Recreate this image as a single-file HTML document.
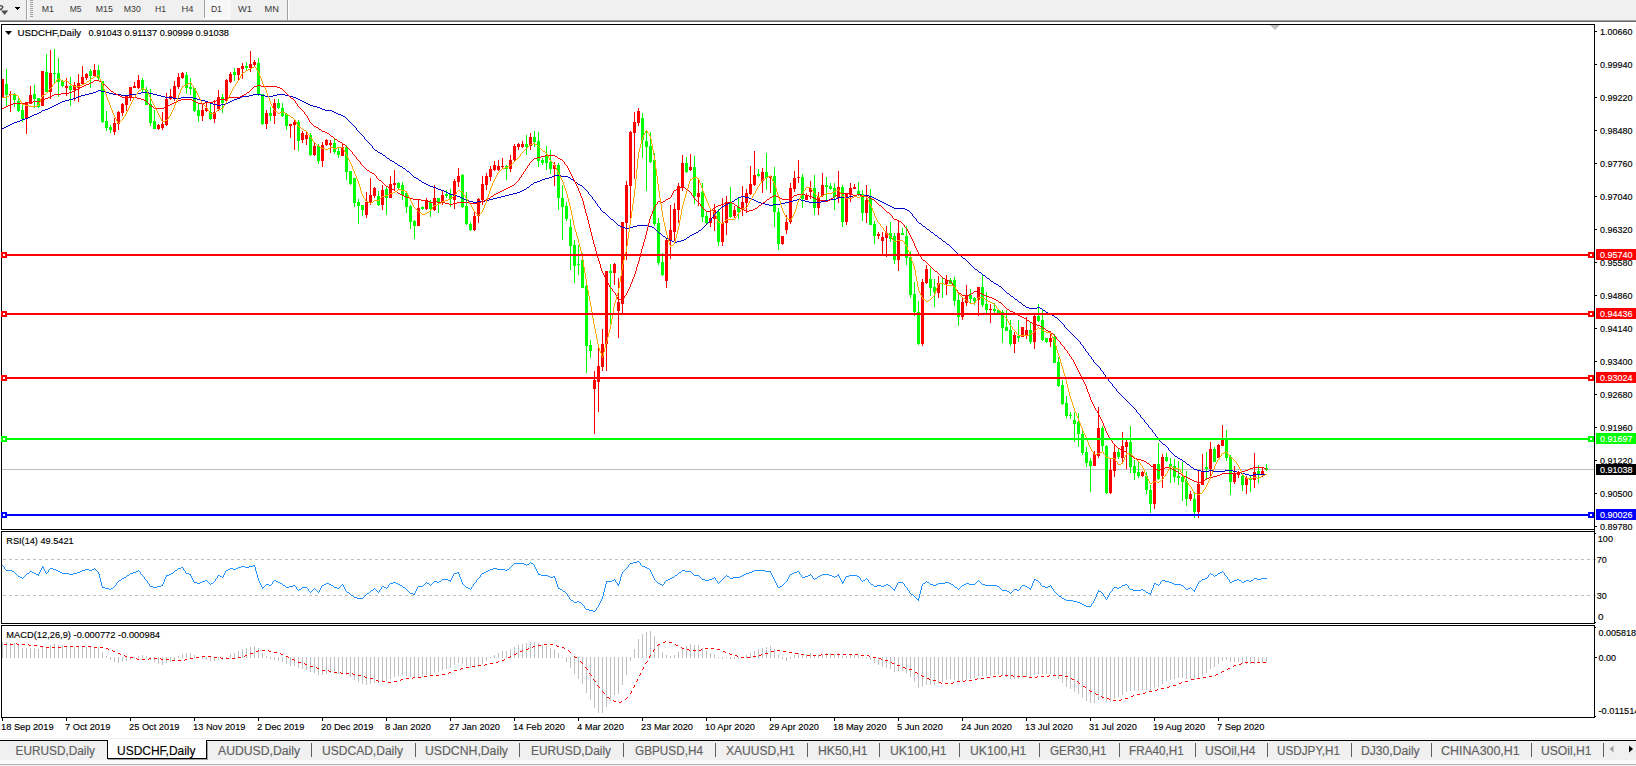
<!DOCTYPE html>
<html><head><meta charset="utf-8"><title>USDCHF,Daily</title>
<style>html,body{margin:0;padding:0;background:#fff;width:1636px;height:766px;overflow:hidden;font-family:"Liberation Sans",sans-serif}</style>
</head><body>
<svg width="1636" height="766" viewBox="0 0 1636 766" style="position:absolute;left:0;top:0" font-family="Liberation Sans, sans-serif">
<defs><clipPath id="cm"><rect x="2" y="0" width="1592" height="766"/></clipPath></defs>
<g shape-rendering="crispEdges">
<rect x="0" y="0" width="1636" height="766" fill="#fff"/>
<rect x="0" y="0" width="1636" height="20" fill="#f0f0f0"/>
<rect x="0" y="20" width="1636" height="1" fill="#a0a0a0"/>
<rect x="0" y="21" width="1636" height="1" fill="#696969"/>
<rect x="26" y="0" width="1" height="20" fill="#a0a0a0"/><rect x="27" y="0" width="1" height="20" fill="#fff"/>
<rect x="30" y="0" width="3" height="1" fill="#a0a0a0"/>
<rect x="30" y="2" width="3" height="1" fill="#a0a0a0"/>
<rect x="30" y="4" width="3" height="1" fill="#a0a0a0"/>
<rect x="30" y="6" width="3" height="1" fill="#a0a0a0"/>
<rect x="30" y="8" width="3" height="1" fill="#a0a0a0"/>
<rect x="30" y="10" width="3" height="1" fill="#a0a0a0"/>
<rect x="30" y="12" width="3" height="1" fill="#a0a0a0"/>
<rect x="30" y="14" width="3" height="1" fill="#a0a0a0"/>
<rect x="30" y="16" width="3" height="1" fill="#a0a0a0"/>
<rect x="204" y="0" width="1" height="18" fill="#a0a0a0"/>
<rect x="205" y="0" width="24" height="18" fill="#f7f7f7"/>
<rect x="204" y="18" width="26" height="1" fill="#fff"/><rect x="229" y="0" width="1" height="18" fill="#fff"/>
<rect x="287" y="0" width="1" height="20" fill="#a0a0a0"/><rect x="288" y="0" width="1" height="20" fill="#fff"/>
<rect x="15" y="7" width="5" height="1" fill="#000"/><rect x="16" y="8" width="3" height="1" fill="#000"/><rect x="17" y="9" width="1" height="1" fill="#000"/>
<path d="M0 5.6 Q3.4 6 2.6 7.6 Q1.6 9.2 0 9.8" stroke="#404040" stroke-width="1.3" fill="none" shape-rendering="auto"/>
<path d="M1 10.5h7.2l-3.6 4.6z" fill="#505050" shape-rendering="auto"/>
<rect x="2" y="469" width="1592" height="1" fill="#c0c0c0"/>
<path d="M3 559h3v1h-3zM9 559h3v1h-3zM15 559h3v1h-3zM21 559h3v1h-3zM27 559h3v1h-3zM33 559h3v1h-3zM39 559h3v1h-3zM45 559h3v1h-3zM51 559h3v1h-3zM57 559h3v1h-3zM63 559h3v1h-3zM69 559h3v1h-3zM75 559h3v1h-3zM81 559h3v1h-3zM87 559h3v1h-3zM93 559h3v1h-3zM99 559h3v1h-3zM105 559h3v1h-3zM111 559h3v1h-3zM117 559h3v1h-3zM123 559h3v1h-3zM129 559h3v1h-3zM135 559h3v1h-3zM141 559h3v1h-3zM147 559h3v1h-3zM153 559h3v1h-3zM159 559h3v1h-3zM165 559h3v1h-3zM171 559h3v1h-3zM177 559h3v1h-3zM183 559h3v1h-3zM189 559h3v1h-3zM195 559h3v1h-3zM201 559h3v1h-3zM207 559h3v1h-3zM213 559h3v1h-3zM219 559h3v1h-3zM225 559h3v1h-3zM231 559h3v1h-3zM237 559h3v1h-3zM243 559h3v1h-3zM249 559h3v1h-3zM255 559h3v1h-3zM261 559h3v1h-3zM267 559h3v1h-3zM273 559h3v1h-3zM279 559h3v1h-3zM285 559h3v1h-3zM291 559h3v1h-3zM297 559h3v1h-3zM303 559h3v1h-3zM309 559h3v1h-3zM315 559h3v1h-3zM321 559h3v1h-3zM327 559h3v1h-3zM333 559h3v1h-3zM339 559h3v1h-3zM345 559h3v1h-3zM351 559h3v1h-3zM357 559h3v1h-3zM363 559h3v1h-3zM369 559h3v1h-3zM375 559h3v1h-3zM381 559h3v1h-3zM387 559h3v1h-3zM393 559h3v1h-3zM399 559h3v1h-3zM405 559h3v1h-3zM411 559h3v1h-3zM417 559h3v1h-3zM423 559h3v1h-3zM429 559h3v1h-3zM435 559h3v1h-3zM441 559h3v1h-3zM447 559h3v1h-3zM453 559h3v1h-3zM459 559h3v1h-3zM465 559h3v1h-3zM471 559h3v1h-3zM477 559h3v1h-3zM483 559h3v1h-3zM489 559h3v1h-3zM495 559h3v1h-3zM501 559h3v1h-3zM507 559h3v1h-3zM513 559h3v1h-3zM519 559h3v1h-3zM525 559h3v1h-3zM531 559h3v1h-3zM537 559h3v1h-3zM543 559h3v1h-3zM549 559h3v1h-3zM555 559h3v1h-3zM561 559h3v1h-3zM567 559h3v1h-3zM573 559h3v1h-3zM579 559h3v1h-3zM585 559h3v1h-3zM591 559h3v1h-3zM597 559h3v1h-3zM603 559h3v1h-3zM609 559h3v1h-3zM615 559h3v1h-3zM621 559h3v1h-3zM627 559h3v1h-3zM633 559h3v1h-3zM639 559h3v1h-3zM645 559h3v1h-3zM651 559h3v1h-3zM657 559h3v1h-3zM663 559h3v1h-3zM669 559h3v1h-3zM675 559h3v1h-3zM681 559h3v1h-3zM687 559h3v1h-3zM693 559h3v1h-3zM699 559h3v1h-3zM705 559h3v1h-3zM711 559h3v1h-3zM717 559h3v1h-3zM723 559h3v1h-3zM729 559h3v1h-3zM735 559h3v1h-3zM741 559h3v1h-3zM747 559h3v1h-3zM753 559h3v1h-3zM759 559h3v1h-3zM765 559h3v1h-3zM771 559h3v1h-3zM777 559h3v1h-3zM783 559h3v1h-3zM789 559h3v1h-3zM795 559h3v1h-3zM801 559h3v1h-3zM807 559h3v1h-3zM813 559h3v1h-3zM819 559h3v1h-3zM825 559h3v1h-3zM831 559h3v1h-3zM837 559h3v1h-3zM843 559h3v1h-3zM849 559h3v1h-3zM855 559h3v1h-3zM861 559h3v1h-3zM867 559h3v1h-3zM873 559h3v1h-3zM879 559h3v1h-3zM885 559h3v1h-3zM891 559h3v1h-3zM897 559h3v1h-3zM903 559h3v1h-3zM909 559h3v1h-3zM915 559h3v1h-3zM921 559h3v1h-3zM927 559h3v1h-3zM933 559h3v1h-3zM939 559h3v1h-3zM945 559h3v1h-3zM951 559h3v1h-3zM957 559h3v1h-3zM963 559h3v1h-3zM969 559h3v1h-3zM975 559h3v1h-3zM981 559h3v1h-3zM987 559h3v1h-3zM993 559h3v1h-3zM999 559h3v1h-3zM1005 559h3v1h-3zM1011 559h3v1h-3zM1017 559h3v1h-3zM1023 559h3v1h-3zM1029 559h3v1h-3zM1035 559h3v1h-3zM1041 559h3v1h-3zM1047 559h3v1h-3zM1053 559h3v1h-3zM1059 559h3v1h-3zM1065 559h3v1h-3zM1071 559h3v1h-3zM1077 559h3v1h-3zM1083 559h3v1h-3zM1089 559h3v1h-3zM1095 559h3v1h-3zM1101 559h3v1h-3zM1107 559h3v1h-3zM1113 559h3v1h-3zM1119 559h3v1h-3zM1125 559h3v1h-3zM1131 559h3v1h-3zM1137 559h3v1h-3zM1143 559h3v1h-3zM1149 559h3v1h-3zM1155 559h3v1h-3zM1161 559h3v1h-3zM1167 559h3v1h-3zM1173 559h3v1h-3zM1179 559h3v1h-3zM1185 559h3v1h-3zM1191 559h3v1h-3zM1197 559h3v1h-3zM1203 559h3v1h-3zM1209 559h3v1h-3zM1215 559h3v1h-3zM1221 559h3v1h-3zM1227 559h3v1h-3zM1233 559h3v1h-3zM1239 559h3v1h-3zM1245 559h3v1h-3zM1251 559h3v1h-3zM1257 559h3v1h-3zM1263 559h3v1h-3zM1269 559h3v1h-3zM1275 559h3v1h-3zM1281 559h3v1h-3zM1287 559h3v1h-3zM1293 559h3v1h-3zM1299 559h3v1h-3zM1305 559h3v1h-3zM1311 559h3v1h-3zM1317 559h3v1h-3zM1323 559h3v1h-3zM1329 559h3v1h-3zM1335 559h3v1h-3zM1341 559h3v1h-3zM1347 559h3v1h-3zM1353 559h3v1h-3zM1359 559h3v1h-3zM1365 559h3v1h-3zM1371 559h3v1h-3zM1377 559h3v1h-3zM1383 559h3v1h-3zM1389 559h3v1h-3zM1395 559h3v1h-3zM1401 559h3v1h-3zM1407 559h3v1h-3zM1413 559h3v1h-3zM1419 559h3v1h-3zM1425 559h3v1h-3zM1431 559h3v1h-3zM1437 559h3v1h-3zM1443 559h3v1h-3zM1449 559h3v1h-3zM1455 559h3v1h-3zM1461 559h3v1h-3zM1467 559h3v1h-3zM1473 559h3v1h-3zM1479 559h3v1h-3zM1485 559h3v1h-3zM1491 559h3v1h-3zM1497 559h3v1h-3zM1503 559h3v1h-3zM1509 559h3v1h-3zM1515 559h3v1h-3zM1521 559h3v1h-3zM1527 559h3v1h-3zM1533 559h3v1h-3zM1539 559h3v1h-3zM1545 559h3v1h-3zM1551 559h3v1h-3zM1557 559h3v1h-3zM1563 559h3v1h-3zM1569 559h3v1h-3zM1575 559h3v1h-3zM1581 559h3v1h-3zM1587 559h3v1h-3zM1593 559h3v1h-3z" fill="#c0c0c0"/>
<path d="M3 595h3v1h-3zM9 595h3v1h-3zM15 595h3v1h-3zM21 595h3v1h-3zM27 595h3v1h-3zM33 595h3v1h-3zM39 595h3v1h-3zM45 595h3v1h-3zM51 595h3v1h-3zM57 595h3v1h-3zM63 595h3v1h-3zM69 595h3v1h-3zM75 595h3v1h-3zM81 595h3v1h-3zM87 595h3v1h-3zM93 595h3v1h-3zM99 595h3v1h-3zM105 595h3v1h-3zM111 595h3v1h-3zM117 595h3v1h-3zM123 595h3v1h-3zM129 595h3v1h-3zM135 595h3v1h-3zM141 595h3v1h-3zM147 595h3v1h-3zM153 595h3v1h-3zM159 595h3v1h-3zM165 595h3v1h-3zM171 595h3v1h-3zM177 595h3v1h-3zM183 595h3v1h-3zM189 595h3v1h-3zM195 595h3v1h-3zM201 595h3v1h-3zM207 595h3v1h-3zM213 595h3v1h-3zM219 595h3v1h-3zM225 595h3v1h-3zM231 595h3v1h-3zM237 595h3v1h-3zM243 595h3v1h-3zM249 595h3v1h-3zM255 595h3v1h-3zM261 595h3v1h-3zM267 595h3v1h-3zM273 595h3v1h-3zM279 595h3v1h-3zM285 595h3v1h-3zM291 595h3v1h-3zM297 595h3v1h-3zM303 595h3v1h-3zM309 595h3v1h-3zM315 595h3v1h-3zM321 595h3v1h-3zM327 595h3v1h-3zM333 595h3v1h-3zM339 595h3v1h-3zM345 595h3v1h-3zM351 595h3v1h-3zM357 595h3v1h-3zM363 595h3v1h-3zM369 595h3v1h-3zM375 595h3v1h-3zM381 595h3v1h-3zM387 595h3v1h-3zM393 595h3v1h-3zM399 595h3v1h-3zM405 595h3v1h-3zM411 595h3v1h-3zM417 595h3v1h-3zM423 595h3v1h-3zM429 595h3v1h-3zM435 595h3v1h-3zM441 595h3v1h-3zM447 595h3v1h-3zM453 595h3v1h-3zM459 595h3v1h-3zM465 595h3v1h-3zM471 595h3v1h-3zM477 595h3v1h-3zM483 595h3v1h-3zM489 595h3v1h-3zM495 595h3v1h-3zM501 595h3v1h-3zM507 595h3v1h-3zM513 595h3v1h-3zM519 595h3v1h-3zM525 595h3v1h-3zM531 595h3v1h-3zM537 595h3v1h-3zM543 595h3v1h-3zM549 595h3v1h-3zM555 595h3v1h-3zM561 595h3v1h-3zM567 595h3v1h-3zM573 595h3v1h-3zM579 595h3v1h-3zM585 595h3v1h-3zM591 595h3v1h-3zM597 595h3v1h-3zM603 595h3v1h-3zM609 595h3v1h-3zM615 595h3v1h-3zM621 595h3v1h-3zM627 595h3v1h-3zM633 595h3v1h-3zM639 595h3v1h-3zM645 595h3v1h-3zM651 595h3v1h-3zM657 595h3v1h-3zM663 595h3v1h-3zM669 595h3v1h-3zM675 595h3v1h-3zM681 595h3v1h-3zM687 595h3v1h-3zM693 595h3v1h-3zM699 595h3v1h-3zM705 595h3v1h-3zM711 595h3v1h-3zM717 595h3v1h-3zM723 595h3v1h-3zM729 595h3v1h-3zM735 595h3v1h-3zM741 595h3v1h-3zM747 595h3v1h-3zM753 595h3v1h-3zM759 595h3v1h-3zM765 595h3v1h-3zM771 595h3v1h-3zM777 595h3v1h-3zM783 595h3v1h-3zM789 595h3v1h-3zM795 595h3v1h-3zM801 595h3v1h-3zM807 595h3v1h-3zM813 595h3v1h-3zM819 595h3v1h-3zM825 595h3v1h-3zM831 595h3v1h-3zM837 595h3v1h-3zM843 595h3v1h-3zM849 595h3v1h-3zM855 595h3v1h-3zM861 595h3v1h-3zM867 595h3v1h-3zM873 595h3v1h-3zM879 595h3v1h-3zM885 595h3v1h-3zM891 595h3v1h-3zM897 595h3v1h-3zM903 595h3v1h-3zM909 595h3v1h-3zM915 595h3v1h-3zM921 595h3v1h-3zM927 595h3v1h-3zM933 595h3v1h-3zM939 595h3v1h-3zM945 595h3v1h-3zM951 595h3v1h-3zM957 595h3v1h-3zM963 595h3v1h-3zM969 595h3v1h-3zM975 595h3v1h-3zM981 595h3v1h-3zM987 595h3v1h-3zM993 595h3v1h-3zM999 595h3v1h-3zM1005 595h3v1h-3zM1011 595h3v1h-3zM1017 595h3v1h-3zM1023 595h3v1h-3zM1029 595h3v1h-3zM1035 595h3v1h-3zM1041 595h3v1h-3zM1047 595h3v1h-3zM1053 595h3v1h-3zM1059 595h3v1h-3zM1065 595h3v1h-3zM1071 595h3v1h-3zM1077 595h3v1h-3zM1083 595h3v1h-3zM1089 595h3v1h-3zM1095 595h3v1h-3zM1101 595h3v1h-3zM1107 595h3v1h-3zM1113 595h3v1h-3zM1119 595h3v1h-3zM1125 595h3v1h-3zM1131 595h3v1h-3zM1137 595h3v1h-3zM1143 595h3v1h-3zM1149 595h3v1h-3zM1155 595h3v1h-3zM1161 595h3v1h-3zM1167 595h3v1h-3zM1173 595h3v1h-3zM1179 595h3v1h-3zM1185 595h3v1h-3zM1191 595h3v1h-3zM1197 595h3v1h-3zM1203 595h3v1h-3zM1209 595h3v1h-3zM1215 595h3v1h-3zM1221 595h3v1h-3zM1227 595h3v1h-3zM1233 595h3v1h-3zM1239 595h3v1h-3zM1245 595h3v1h-3zM1251 595h3v1h-3zM1257 595h3v1h-3zM1263 595h3v1h-3zM1269 595h3v1h-3zM1275 595h3v1h-3zM1281 595h3v1h-3zM1287 595h3v1h-3zM1293 595h3v1h-3zM1299 595h3v1h-3zM1305 595h3v1h-3zM1311 595h3v1h-3zM1317 595h3v1h-3zM1323 595h3v1h-3zM1329 595h3v1h-3zM1335 595h3v1h-3zM1341 595h3v1h-3zM1347 595h3v1h-3zM1353 595h3v1h-3zM1359 595h3v1h-3zM1365 595h3v1h-3zM1371 595h3v1h-3zM1377 595h3v1h-3zM1383 595h3v1h-3zM1389 595h3v1h-3zM1395 595h3v1h-3zM1401 595h3v1h-3zM1407 595h3v1h-3zM1413 595h3v1h-3zM1419 595h3v1h-3zM1425 595h3v1h-3zM1431 595h3v1h-3zM1437 595h3v1h-3zM1443 595h3v1h-3zM1449 595h3v1h-3zM1455 595h3v1h-3zM1461 595h3v1h-3zM1467 595h3v1h-3zM1473 595h3v1h-3zM1479 595h3v1h-3zM1485 595h3v1h-3zM1491 595h3v1h-3zM1497 595h3v1h-3zM1503 595h3v1h-3zM1509 595h3v1h-3zM1515 595h3v1h-3zM1521 595h3v1h-3zM1527 595h3v1h-3zM1533 595h3v1h-3zM1539 595h3v1h-3zM1545 595h3v1h-3zM1551 595h3v1h-3zM1557 595h3v1h-3zM1563 595h3v1h-3zM1569 595h3v1h-3zM1575 595h3v1h-3zM1581 595h3v1h-3zM1587 595h3v1h-3zM1593 595h3v1h-3z" fill="#c0c0c0"/>
<rect x="2" y="79" width="1" height="19" fill="#ff0000"/>
<rect x="1" y="79" width="3" height="19" fill="#ff0000"/>
<rect x="6" y="69" width="1" height="38" fill="#00ff00"/>
<rect x="5" y="84" width="3" height="11" fill="#00ff00"/>
<rect x="10" y="91" width="1" height="21" fill="#ff0000"/>
<rect x="9" y="94" width="3" height="1" fill="#ff0000"/>
<rect x="14" y="93" width="1" height="14" fill="#00ff00"/>
<rect x="13" y="94" width="3" height="6" fill="#00ff00"/>
<rect x="18" y="97" width="1" height="15" fill="#00ff00"/>
<rect x="17" y="101" width="3" height="10" fill="#00ff00"/>
<rect x="22" y="103" width="1" height="19" fill="#00ff00"/>
<rect x="21" y="110" width="3" height="9" fill="#00ff00"/>
<rect x="26" y="103" width="1" height="31" fill="#ff0000"/>
<rect x="25" y="103" width="3" height="15" fill="#ff0000"/>
<rect x="30" y="86" width="1" height="18" fill="#ff0000"/>
<rect x="29" y="95" width="3" height="9" fill="#ff0000"/>
<rect x="34" y="85" width="1" height="23" fill="#00ff00"/>
<rect x="33" y="94" width="3" height="5" fill="#00ff00"/>
<rect x="38" y="98" width="1" height="10" fill="#00ff00"/>
<rect x="37" y="98" width="3" height="9" fill="#00ff00"/>
<rect x="42" y="71" width="1" height="35" fill="#ff0000"/>
<rect x="41" y="71" width="3" height="35" fill="#ff0000"/>
<rect x="46" y="54" width="1" height="38" fill="#00ff00"/>
<rect x="45" y="72" width="3" height="20" fill="#00ff00"/>
<rect x="50" y="50" width="1" height="49" fill="#ff0000"/>
<rect x="49" y="73" width="3" height="19" fill="#ff0000"/>
<rect x="54" y="49" width="1" height="34" fill="#00ff00"/>
<rect x="53" y="73" width="3" height="1" fill="#00ff00"/>
<rect x="58" y="58" width="1" height="39" fill="#00ff00"/>
<rect x="57" y="73" width="3" height="9" fill="#00ff00"/>
<rect x="62" y="80" width="1" height="7" fill="#00ff00"/>
<rect x="61" y="81" width="3" height="5" fill="#00ff00"/>
<rect x="66" y="78" width="1" height="18" fill="#ff0000"/>
<rect x="65" y="86" width="3" height="2" fill="#ff0000"/>
<rect x="70" y="77" width="1" height="29" fill="#00ff00"/>
<rect x="69" y="86" width="3" height="4" fill="#00ff00"/>
<rect x="74" y="82" width="1" height="19" fill="#ff0000"/>
<rect x="73" y="85" width="3" height="5" fill="#ff0000"/>
<rect x="78" y="74" width="1" height="28" fill="#ff0000"/>
<rect x="77" y="83" width="3" height="5" fill="#ff0000"/>
<rect x="82" y="66" width="1" height="18" fill="#ff0000"/>
<rect x="81" y="77" width="3" height="7" fill="#ff0000"/>
<rect x="86" y="73" width="1" height="7" fill="#ff0000"/>
<rect x="85" y="74" width="3" height="4" fill="#ff0000"/>
<rect x="90" y="69" width="1" height="19" fill="#00ff00"/>
<rect x="89" y="71" width="3" height="5" fill="#00ff00"/>
<rect x="94" y="64" width="1" height="12" fill="#ff0000"/>
<rect x="93" y="70" width="3" height="6" fill="#ff0000"/>
<rect x="98" y="65" width="1" height="15" fill="#00ff00"/>
<rect x="97" y="70" width="3" height="8" fill="#00ff00"/>
<rect x="102" y="81" width="1" height="42" fill="#00ff00"/>
<rect x="101" y="81" width="3" height="41" fill="#00ff00"/>
<rect x="106" y="111" width="1" height="20" fill="#00ff00"/>
<rect x="105" y="121" width="3" height="7" fill="#00ff00"/>
<rect x="110" y="125" width="1" height="8" fill="#00ff00"/>
<rect x="109" y="127" width="3" height="3" fill="#00ff00"/>
<rect x="114" y="118" width="1" height="17" fill="#ff0000"/>
<rect x="113" y="123" width="3" height="9" fill="#ff0000"/>
<rect x="118" y="111" width="1" height="19" fill="#ff0000"/>
<rect x="117" y="112" width="3" height="12" fill="#ff0000"/>
<rect x="122" y="103" width="1" height="13" fill="#ff0000"/>
<rect x="121" y="104" width="3" height="9" fill="#ff0000"/>
<rect x="126" y="95" width="1" height="16" fill="#ff0000"/>
<rect x="125" y="96" width="3" height="9" fill="#ff0000"/>
<rect x="130" y="87" width="1" height="14" fill="#ff0000"/>
<rect x="129" y="87" width="3" height="11" fill="#ff0000"/>
<rect x="134" y="82" width="1" height="6" fill="#ff0000"/>
<rect x="133" y="86" width="3" height="2" fill="#ff0000"/>
<rect x="138" y="75" width="1" height="14" fill="#ff0000"/>
<rect x="137" y="80" width="3" height="8" fill="#ff0000"/>
<rect x="142" y="78" width="1" height="14" fill="#00ff00"/>
<rect x="141" y="80" width="3" height="10" fill="#00ff00"/>
<rect x="146" y="87" width="1" height="18" fill="#00ff00"/>
<rect x="145" y="90" width="3" height="15" fill="#00ff00"/>
<rect x="150" y="89" width="1" height="37" fill="#00ff00"/>
<rect x="149" y="104" width="3" height="19" fill="#00ff00"/>
<rect x="154" y="110" width="1" height="19" fill="#00ff00"/>
<rect x="153" y="121" width="3" height="8" fill="#00ff00"/>
<rect x="158" y="124" width="1" height="6" fill="#ff0000"/>
<rect x="157" y="125" width="3" height="4" fill="#ff0000"/>
<rect x="162" y="112" width="1" height="18" fill="#ff0000"/>
<rect x="161" y="124" width="3" height="4" fill="#ff0000"/>
<rect x="166" y="93" width="1" height="33" fill="#ff0000"/>
<rect x="165" y="99" width="3" height="26" fill="#ff0000"/>
<rect x="170" y="89" width="1" height="11" fill="#ff0000"/>
<rect x="169" y="96" width="3" height="3" fill="#ff0000"/>
<rect x="174" y="81" width="1" height="20" fill="#ff0000"/>
<rect x="173" y="86" width="3" height="12" fill="#ff0000"/>
<rect x="178" y="73" width="1" height="16" fill="#ff0000"/>
<rect x="177" y="77" width="3" height="10" fill="#ff0000"/>
<rect x="182" y="72" width="1" height="7" fill="#ff0000"/>
<rect x="181" y="73" width="3" height="5" fill="#ff0000"/>
<rect x="186" y="72" width="1" height="22" fill="#00ff00"/>
<rect x="185" y="75" width="3" height="13" fill="#00ff00"/>
<rect x="190" y="78" width="1" height="17" fill="#00ff00"/>
<rect x="189" y="87" width="3" height="2" fill="#00ff00"/>
<rect x="194" y="88" width="1" height="24" fill="#00ff00"/>
<rect x="193" y="88" width="3" height="23" fill="#00ff00"/>
<rect x="198" y="104" width="1" height="18" fill="#00ff00"/>
<rect x="197" y="110" width="3" height="6" fill="#00ff00"/>
<rect x="202" y="104" width="1" height="17" fill="#ff0000"/>
<rect x="201" y="110" width="3" height="6" fill="#ff0000"/>
<rect x="206" y="102" width="1" height="10" fill="#ff0000"/>
<rect x="205" y="108" width="3" height="3" fill="#ff0000"/>
<rect x="210" y="103" width="1" height="17" fill="#00ff00"/>
<rect x="209" y="112" width="3" height="7" fill="#00ff00"/>
<rect x="214" y="100" width="1" height="23" fill="#ff0000"/>
<rect x="213" y="112" width="3" height="7" fill="#ff0000"/>
<rect x="218" y="90" width="1" height="21" fill="#ff0000"/>
<rect x="217" y="97" width="3" height="12" fill="#ff0000"/>
<rect x="222" y="94" width="1" height="19" fill="#00ff00"/>
<rect x="221" y="97" width="3" height="6" fill="#00ff00"/>
<rect x="226" y="79" width="1" height="22" fill="#ff0000"/>
<rect x="225" y="80" width="3" height="21" fill="#ff0000"/>
<rect x="230" y="72" width="1" height="11" fill="#ff0000"/>
<rect x="229" y="74" width="3" height="8" fill="#ff0000"/>
<rect x="234" y="68" width="1" height="13" fill="#00ff00"/>
<rect x="233" y="72" width="3" height="3" fill="#00ff00"/>
<rect x="238" y="68" width="1" height="12" fill="#ff0000"/>
<rect x="237" y="68" width="3" height="7" fill="#ff0000"/>
<rect x="242" y="63" width="1" height="16" fill="#ff0000"/>
<rect x="241" y="66" width="3" height="3" fill="#ff0000"/>
<rect x="246" y="62" width="1" height="9" fill="#00ff00"/>
<rect x="245" y="66" width="3" height="2" fill="#00ff00"/>
<rect x="250" y="51" width="1" height="21" fill="#ff0000"/>
<rect x="249" y="64" width="3" height="4" fill="#ff0000"/>
<rect x="254" y="60" width="1" height="6" fill="#ff0000"/>
<rect x="253" y="62" width="3" height="3" fill="#ff0000"/>
<rect x="258" y="58" width="1" height="38" fill="#00ff00"/>
<rect x="257" y="63" width="3" height="31" fill="#00ff00"/>
<rect x="262" y="94" width="1" height="31" fill="#00ff00"/>
<rect x="261" y="94" width="3" height="30" fill="#00ff00"/>
<rect x="266" y="110" width="1" height="19" fill="#ff0000"/>
<rect x="265" y="113" width="3" height="11" fill="#ff0000"/>
<rect x="270" y="107" width="1" height="14" fill="#00ff00"/>
<rect x="269" y="113" width="3" height="3" fill="#00ff00"/>
<rect x="274" y="99" width="1" height="25" fill="#ff0000"/>
<rect x="273" y="103" width="3" height="13" fill="#ff0000"/>
<rect x="278" y="99" width="1" height="10" fill="#00ff00"/>
<rect x="277" y="103" width="3" height="5" fill="#00ff00"/>
<rect x="282" y="103" width="1" height="14" fill="#00ff00"/>
<rect x="281" y="108" width="3" height="8" fill="#00ff00"/>
<rect x="286" y="113" width="1" height="17" fill="#00ff00"/>
<rect x="285" y="114" width="3" height="12" fill="#00ff00"/>
<rect x="290" y="124" width="1" height="14" fill="#ff0000"/>
<rect x="289" y="124" width="3" height="2" fill="#ff0000"/>
<rect x="294" y="119" width="1" height="31" fill="#ff0000"/>
<rect x="293" y="122" width="3" height="3" fill="#ff0000"/>
<rect x="298" y="120" width="1" height="31" fill="#00ff00"/>
<rect x="297" y="122" width="3" height="19" fill="#00ff00"/>
<rect x="302" y="131" width="1" height="12" fill="#ff0000"/>
<rect x="301" y="133" width="3" height="7" fill="#ff0000"/>
<rect x="306" y="131" width="1" height="14" fill="#ff0000"/>
<rect x="305" y="135" width="3" height="4" fill="#ff0000"/>
<rect x="310" y="133" width="1" height="23" fill="#00ff00"/>
<rect x="309" y="135" width="3" height="20" fill="#00ff00"/>
<rect x="314" y="143" width="1" height="13" fill="#ff0000"/>
<rect x="313" y="146" width="3" height="9" fill="#ff0000"/>
<rect x="318" y="144" width="1" height="20" fill="#00ff00"/>
<rect x="317" y="146" width="3" height="15" fill="#00ff00"/>
<rect x="322" y="142" width="1" height="25" fill="#ff0000"/>
<rect x="321" y="145" width="3" height="16" fill="#ff0000"/>
<rect x="326" y="139" width="1" height="7" fill="#ff0000"/>
<rect x="325" y="140" width="3" height="5" fill="#ff0000"/>
<rect x="330" y="140" width="1" height="13" fill="#ff0000"/>
<rect x="329" y="143" width="3" height="2" fill="#ff0000"/>
<rect x="334" y="139" width="1" height="15" fill="#00ff00"/>
<rect x="333" y="143" width="3" height="9" fill="#00ff00"/>
<rect x="338" y="148" width="1" height="10" fill="#00ff00"/>
<rect x="337" y="151" width="3" height="4" fill="#00ff00"/>
<rect x="342" y="144" width="1" height="12" fill="#ff0000"/>
<rect x="341" y="147" width="3" height="9" fill="#ff0000"/>
<rect x="346" y="145" width="1" height="35" fill="#00ff00"/>
<rect x="345" y="147" width="3" height="25" fill="#00ff00"/>
<rect x="350" y="171" width="1" height="14" fill="#00ff00"/>
<rect x="349" y="171" width="3" height="13" fill="#00ff00"/>
<rect x="354" y="178" width="1" height="29" fill="#00ff00"/>
<rect x="353" y="178" width="3" height="25" fill="#00ff00"/>
<rect x="358" y="199" width="1" height="25" fill="#00ff00"/>
<rect x="357" y="202" width="3" height="4" fill="#00ff00"/>
<rect x="362" y="205" width="1" height="11" fill="#00ff00"/>
<rect x="361" y="205" width="3" height="5" fill="#00ff00"/>
<rect x="366" y="192" width="1" height="26" fill="#ff0000"/>
<rect x="365" y="202" width="3" height="13" fill="#ff0000"/>
<rect x="370" y="178" width="1" height="27" fill="#ff0000"/>
<rect x="369" y="195" width="3" height="8" fill="#ff0000"/>
<rect x="374" y="187" width="1" height="11" fill="#ff0000"/>
<rect x="373" y="188" width="3" height="8" fill="#ff0000"/>
<rect x="378" y="191" width="1" height="15" fill="#00ff00"/>
<rect x="377" y="196" width="3" height="9" fill="#00ff00"/>
<rect x="382" y="185" width="1" height="25" fill="#ff0000"/>
<rect x="381" y="190" width="3" height="15" fill="#ff0000"/>
<rect x="386" y="186" width="1" height="29" fill="#00ff00"/>
<rect x="385" y="189" width="3" height="9" fill="#00ff00"/>
<rect x="390" y="176" width="1" height="22" fill="#ff0000"/>
<rect x="389" y="184" width="3" height="14" fill="#ff0000"/>
<rect x="394" y="170" width="1" height="20" fill="#ff0000"/>
<rect x="393" y="183" width="3" height="2" fill="#ff0000"/>
<rect x="398" y="182" width="1" height="7" fill="#00ff00"/>
<rect x="397" y="183" width="3" height="5" fill="#00ff00"/>
<rect x="402" y="182" width="1" height="18" fill="#00ff00"/>
<rect x="401" y="185" width="3" height="10" fill="#00ff00"/>
<rect x="406" y="192" width="1" height="21" fill="#00ff00"/>
<rect x="405" y="193" width="3" height="14" fill="#00ff00"/>
<rect x="410" y="205" width="1" height="24" fill="#00ff00"/>
<rect x="409" y="206" width="3" height="16" fill="#00ff00"/>
<rect x="414" y="220" width="1" height="19" fill="#00ff00"/>
<rect x="413" y="221" width="3" height="5" fill="#00ff00"/>
<rect x="418" y="199" width="1" height="27" fill="#ff0000"/>
<rect x="417" y="208" width="3" height="18" fill="#ff0000"/>
<rect x="422" y="206" width="1" height="4" fill="#00ff00"/>
<rect x="421" y="207" width="3" height="2" fill="#00ff00"/>
<rect x="426" y="198" width="1" height="12" fill="#ff0000"/>
<rect x="425" y="200" width="3" height="9" fill="#ff0000"/>
<rect x="430" y="200" width="1" height="17" fill="#00ff00"/>
<rect x="429" y="202" width="3" height="7" fill="#00ff00"/>
<rect x="434" y="185" width="1" height="26" fill="#ff0000"/>
<rect x="433" y="198" width="3" height="12" fill="#ff0000"/>
<rect x="438" y="198" width="1" height="15" fill="#00ff00"/>
<rect x="437" y="198" width="3" height="5" fill="#00ff00"/>
<rect x="442" y="191" width="1" height="14" fill="#ff0000"/>
<rect x="441" y="195" width="3" height="7" fill="#ff0000"/>
<rect x="446" y="190" width="1" height="8" fill="#00ff00"/>
<rect x="445" y="194" width="3" height="2" fill="#00ff00"/>
<rect x="450" y="189" width="1" height="18" fill="#00ff00"/>
<rect x="449" y="194" width="3" height="5" fill="#00ff00"/>
<rect x="454" y="179" width="1" height="30" fill="#ff0000"/>
<rect x="453" y="181" width="3" height="19" fill="#ff0000"/>
<rect x="458" y="168" width="1" height="19" fill="#ff0000"/>
<rect x="457" y="176" width="3" height="6" fill="#ff0000"/>
<rect x="462" y="174" width="1" height="34" fill="#00ff00"/>
<rect x="461" y="175" width="3" height="32" fill="#00ff00"/>
<rect x="466" y="192" width="1" height="33" fill="#00ff00"/>
<rect x="465" y="206" width="3" height="18" fill="#00ff00"/>
<rect x="470" y="222" width="1" height="9" fill="#00ff00"/>
<rect x="469" y="224" width="3" height="6" fill="#00ff00"/>
<rect x="474" y="212" width="1" height="19" fill="#ff0000"/>
<rect x="473" y="216" width="3" height="14" fill="#ff0000"/>
<rect x="478" y="198" width="1" height="25" fill="#ff0000"/>
<rect x="477" y="199" width="3" height="17" fill="#ff0000"/>
<rect x="482" y="176" width="1" height="29" fill="#ff0000"/>
<rect x="481" y="184" width="3" height="16" fill="#ff0000"/>
<rect x="486" y="173" width="1" height="17" fill="#ff0000"/>
<rect x="485" y="176" width="3" height="9" fill="#ff0000"/>
<rect x="490" y="166" width="1" height="15" fill="#ff0000"/>
<rect x="489" y="169" width="3" height="8" fill="#ff0000"/>
<rect x="494" y="161" width="1" height="10" fill="#ff0000"/>
<rect x="493" y="165" width="3" height="5" fill="#ff0000"/>
<rect x="498" y="160" width="1" height="11" fill="#ff0000"/>
<rect x="497" y="166" width="3" height="4" fill="#ff0000"/>
<rect x="502" y="158" width="1" height="11" fill="#ff0000"/>
<rect x="501" y="166" width="3" height="1" fill="#ff0000"/>
<rect x="506" y="165" width="1" height="15" fill="#00ff00"/>
<rect x="505" y="166" width="3" height="3" fill="#00ff00"/>
<rect x="510" y="155" width="1" height="17" fill="#ff0000"/>
<rect x="509" y="160" width="3" height="9" fill="#ff0000"/>
<rect x="514" y="144" width="1" height="17" fill="#ff0000"/>
<rect x="513" y="146" width="3" height="14" fill="#ff0000"/>
<rect x="518" y="143" width="1" height="7" fill="#ff0000"/>
<rect x="517" y="144" width="3" height="3" fill="#ff0000"/>
<rect x="522" y="141" width="1" height="7" fill="#ff0000"/>
<rect x="521" y="144" width="3" height="3" fill="#ff0000"/>
<rect x="526" y="135" width="1" height="20" fill="#00ff00"/>
<rect x="525" y="144" width="3" height="3" fill="#00ff00"/>
<rect x="530" y="133" width="1" height="17" fill="#ff0000"/>
<rect x="529" y="137" width="3" height="9" fill="#ff0000"/>
<rect x="534" y="131" width="1" height="16" fill="#00ff00"/>
<rect x="533" y="137" width="3" height="5" fill="#00ff00"/>
<rect x="538" y="132" width="1" height="35" fill="#00ff00"/>
<rect x="537" y="141" width="3" height="20" fill="#00ff00"/>
<rect x="542" y="158" width="1" height="7" fill="#00ff00"/>
<rect x="541" y="160" width="3" height="3" fill="#00ff00"/>
<rect x="546" y="146" width="1" height="24" fill="#00ff00"/>
<rect x="545" y="156" width="3" height="7" fill="#00ff00"/>
<rect x="550" y="150" width="1" height="24" fill="#00ff00"/>
<rect x="549" y="162" width="3" height="7" fill="#00ff00"/>
<rect x="554" y="162" width="1" height="24" fill="#ff0000"/>
<rect x="553" y="165" width="3" height="4" fill="#ff0000"/>
<rect x="558" y="163" width="1" height="47" fill="#00ff00"/>
<rect x="557" y="165" width="3" height="33" fill="#00ff00"/>
<rect x="562" y="185" width="1" height="55" fill="#00ff00"/>
<rect x="561" y="198" width="3" height="9" fill="#00ff00"/>
<rect x="566" y="202" width="1" height="19" fill="#00ff00"/>
<rect x="565" y="206" width="3" height="13" fill="#00ff00"/>
<rect x="570" y="219" width="1" height="51" fill="#00ff00"/>
<rect x="569" y="227" width="3" height="19" fill="#00ff00"/>
<rect x="574" y="240" width="1" height="43" fill="#00ff00"/>
<rect x="573" y="245" width="3" height="21" fill="#00ff00"/>
<rect x="578" y="245" width="1" height="30" fill="#00ff00"/>
<rect x="577" y="264" width="3" height="1" fill="#00ff00"/>
<rect x="582" y="253" width="1" height="35" fill="#00ff00"/>
<rect x="581" y="260" width="3" height="28" fill="#00ff00"/>
<rect x="586" y="285" width="1" height="88" fill="#00ff00"/>
<rect x="585" y="286" width="3" height="60" fill="#00ff00"/>
<rect x="590" y="340" width="1" height="18" fill="#00ff00"/>
<rect x="589" y="345" width="3" height="6" fill="#00ff00"/>
<rect x="594" y="371" width="1" height="63" fill="#ff0000"/>
<rect x="593" y="380" width="3" height="9" fill="#ff0000"/>
<rect x="598" y="348" width="1" height="64" fill="#ff0000"/>
<rect x="597" y="366" width="3" height="16" fill="#ff0000"/>
<rect x="602" y="329" width="1" height="42" fill="#ff0000"/>
<rect x="601" y="344" width="3" height="23" fill="#ff0000"/>
<rect x="606" y="271" width="1" height="100" fill="#ff0000"/>
<rect x="605" y="271" width="3" height="73" fill="#ff0000"/>
<rect x="610" y="264" width="1" height="60" fill="#00ff00"/>
<rect x="609" y="271" width="3" height="2" fill="#00ff00"/>
<rect x="614" y="263" width="1" height="22" fill="#ff0000"/>
<rect x="613" y="264" width="3" height="9" fill="#ff0000"/>
<rect x="618" y="278" width="1" height="60" fill="#ff0000"/>
<rect x="617" y="302" width="3" height="9" fill="#ff0000"/>
<rect x="622" y="222" width="1" height="91" fill="#ff0000"/>
<rect x="621" y="222" width="3" height="82" fill="#ff0000"/>
<rect x="626" y="181" width="1" height="79" fill="#ff0000"/>
<rect x="625" y="185" width="3" height="38" fill="#ff0000"/>
<rect x="630" y="131" width="1" height="87" fill="#ff0000"/>
<rect x="629" y="132" width="3" height="54" fill="#ff0000"/>
<rect x="634" y="112" width="1" height="67" fill="#ff0000"/>
<rect x="633" y="122" width="3" height="11" fill="#ff0000"/>
<rect x="638" y="108" width="1" height="18" fill="#ff0000"/>
<rect x="637" y="111" width="3" height="12" fill="#ff0000"/>
<rect x="642" y="113" width="1" height="45" fill="#00ff00"/>
<rect x="641" y="118" width="3" height="22" fill="#00ff00"/>
<rect x="646" y="130" width="1" height="61" fill="#00ff00"/>
<rect x="645" y="141" width="3" height="6" fill="#00ff00"/>
<rect x="650" y="132" width="1" height="31" fill="#00ff00"/>
<rect x="649" y="146" width="3" height="16" fill="#00ff00"/>
<rect x="654" y="153" width="1" height="73" fill="#00ff00"/>
<rect x="653" y="160" width="3" height="64" fill="#00ff00"/>
<rect x="658" y="218" width="1" height="47" fill="#00ff00"/>
<rect x="657" y="223" width="3" height="40" fill="#00ff00"/>
<rect x="662" y="253" width="1" height="23" fill="#00ff00"/>
<rect x="661" y="262" width="3" height="13" fill="#00ff00"/>
<rect x="666" y="239" width="1" height="49" fill="#ff0000"/>
<rect x="665" y="240" width="3" height="41" fill="#ff0000"/>
<rect x="670" y="205" width="1" height="54" fill="#ff0000"/>
<rect x="669" y="230" width="3" height="11" fill="#ff0000"/>
<rect x="674" y="203" width="1" height="38" fill="#ff0000"/>
<rect x="673" y="209" width="3" height="23" fill="#ff0000"/>
<rect x="678" y="183" width="1" height="40" fill="#ff0000"/>
<rect x="677" y="186" width="3" height="24" fill="#ff0000"/>
<rect x="682" y="155" width="1" height="36" fill="#ff0000"/>
<rect x="681" y="163" width="3" height="25" fill="#ff0000"/>
<rect x="686" y="157" width="1" height="16" fill="#00ff00"/>
<rect x="685" y="163" width="3" height="9" fill="#00ff00"/>
<rect x="690" y="154" width="1" height="17" fill="#ff0000"/>
<rect x="689" y="167" width="3" height="3" fill="#ff0000"/>
<rect x="694" y="156" width="1" height="48" fill="#00ff00"/>
<rect x="693" y="167" width="3" height="29" fill="#00ff00"/>
<rect x="698" y="180" width="1" height="26" fill="#ff0000"/>
<rect x="697" y="193" width="3" height="4" fill="#ff0000"/>
<rect x="702" y="183" width="1" height="39" fill="#00ff00"/>
<rect x="701" y="192" width="3" height="25" fill="#00ff00"/>
<rect x="706" y="212" width="1" height="12" fill="#00ff00"/>
<rect x="705" y="216" width="3" height="7" fill="#00ff00"/>
<rect x="710" y="209" width="1" height="18" fill="#ff0000"/>
<rect x="709" y="218" width="3" height="5" fill="#ff0000"/>
<rect x="714" y="204" width="1" height="27" fill="#ff0000"/>
<rect x="713" y="210" width="3" height="9" fill="#ff0000"/>
<rect x="718" y="209" width="1" height="37" fill="#00ff00"/>
<rect x="717" y="212" width="3" height="30" fill="#00ff00"/>
<rect x="722" y="198" width="1" height="48" fill="#ff0000"/>
<rect x="721" y="223" width="3" height="19" fill="#ff0000"/>
<rect x="726" y="196" width="1" height="39" fill="#ff0000"/>
<rect x="725" y="202" width="3" height="21" fill="#ff0000"/>
<rect x="730" y="187" width="1" height="31" fill="#00ff00"/>
<rect x="729" y="202" width="3" height="15" fill="#00ff00"/>
<rect x="734" y="206" width="1" height="12" fill="#ff0000"/>
<rect x="733" y="210" width="3" height="6" fill="#ff0000"/>
<rect x="738" y="198" width="1" height="21" fill="#00ff00"/>
<rect x="737" y="207" width="3" height="5" fill="#00ff00"/>
<rect x="742" y="186" width="1" height="30" fill="#ff0000"/>
<rect x="741" y="202" width="3" height="7" fill="#ff0000"/>
<rect x="746" y="189" width="1" height="24" fill="#ff0000"/>
<rect x="745" y="193" width="3" height="10" fill="#ff0000"/>
<rect x="750" y="166" width="1" height="29" fill="#ff0000"/>
<rect x="749" y="184" width="3" height="10" fill="#ff0000"/>
<rect x="754" y="151" width="1" height="35" fill="#ff0000"/>
<rect x="753" y="175" width="3" height="10" fill="#ff0000"/>
<rect x="758" y="169" width="1" height="8" fill="#00ff00"/>
<rect x="757" y="174" width="3" height="2" fill="#00ff00"/>
<rect x="762" y="168" width="1" height="25" fill="#ff0000"/>
<rect x="761" y="172" width="3" height="9" fill="#ff0000"/>
<rect x="766" y="153" width="1" height="37" fill="#00ff00"/>
<rect x="765" y="172" width="3" height="6" fill="#00ff00"/>
<rect x="770" y="176" width="1" height="17" fill="#ff0000"/>
<rect x="769" y="176" width="3" height="2" fill="#ff0000"/>
<rect x="774" y="167" width="1" height="60" fill="#00ff00"/>
<rect x="773" y="176" width="3" height="36" fill="#00ff00"/>
<rect x="778" y="208" width="1" height="42" fill="#00ff00"/>
<rect x="777" y="212" width="3" height="32" fill="#00ff00"/>
<rect x="782" y="236" width="1" height="9" fill="#ff0000"/>
<rect x="781" y="236" width="3" height="8" fill="#ff0000"/>
<rect x="786" y="215" width="1" height="19" fill="#ff0000"/>
<rect x="785" y="222" width="3" height="8" fill="#ff0000"/>
<rect x="790" y="183" width="1" height="41" fill="#ff0000"/>
<rect x="789" y="188" width="3" height="34" fill="#ff0000"/>
<rect x="794" y="171" width="1" height="21" fill="#ff0000"/>
<rect x="793" y="178" width="3" height="11" fill="#ff0000"/>
<rect x="798" y="160" width="1" height="23" fill="#ff0000"/>
<rect x="797" y="177" width="3" height="1" fill="#ff0000"/>
<rect x="802" y="174" width="1" height="34" fill="#00ff00"/>
<rect x="801" y="177" width="3" height="22" fill="#00ff00"/>
<rect x="806" y="193" width="1" height="7" fill="#ff0000"/>
<rect x="805" y="195" width="3" height="5" fill="#ff0000"/>
<rect x="810" y="181" width="1" height="18" fill="#ff0000"/>
<rect x="809" y="188" width="3" height="4" fill="#ff0000"/>
<rect x="814" y="175" width="1" height="40" fill="#00ff00"/>
<rect x="813" y="188" width="3" height="20" fill="#00ff00"/>
<rect x="818" y="192" width="1" height="23" fill="#ff0000"/>
<rect x="817" y="197" width="3" height="11" fill="#ff0000"/>
<rect x="822" y="173" width="1" height="24" fill="#ff0000"/>
<rect x="821" y="185" width="3" height="11" fill="#ff0000"/>
<rect x="826" y="177" width="1" height="24" fill="#00ff00"/>
<rect x="825" y="185" width="3" height="2" fill="#00ff00"/>
<rect x="830" y="183" width="1" height="7" fill="#00ff00"/>
<rect x="829" y="186" width="3" height="3" fill="#00ff00"/>
<rect x="834" y="183" width="1" height="27" fill="#00ff00"/>
<rect x="833" y="188" width="3" height="9" fill="#00ff00"/>
<rect x="838" y="171" width="1" height="32" fill="#ff0000"/>
<rect x="837" y="187" width="3" height="11" fill="#ff0000"/>
<rect x="842" y="185" width="1" height="42" fill="#00ff00"/>
<rect x="841" y="187" width="3" height="35" fill="#00ff00"/>
<rect x="846" y="193" width="1" height="32" fill="#ff0000"/>
<rect x="845" y="194" width="3" height="28" fill="#ff0000"/>
<rect x="850" y="183" width="1" height="19" fill="#ff0000"/>
<rect x="849" y="188" width="3" height="7" fill="#ff0000"/>
<rect x="854" y="184" width="1" height="5" fill="#ff0000"/>
<rect x="853" y="187" width="3" height="2" fill="#ff0000"/>
<rect x="858" y="182" width="1" height="14" fill="#00ff00"/>
<rect x="857" y="191" width="3" height="3" fill="#00ff00"/>
<rect x="862" y="190" width="1" height="31" fill="#00ff00"/>
<rect x="861" y="194" width="3" height="19" fill="#00ff00"/>
<rect x="866" y="185" width="1" height="38" fill="#ff0000"/>
<rect x="865" y="200" width="3" height="13" fill="#ff0000"/>
<rect x="870" y="189" width="1" height="36" fill="#00ff00"/>
<rect x="869" y="198" width="3" height="27" fill="#00ff00"/>
<rect x="874" y="221" width="1" height="23" fill="#00ff00"/>
<rect x="873" y="224" width="3" height="12" fill="#00ff00"/>
<rect x="878" y="232" width="1" height="7" fill="#ff0000"/>
<rect x="877" y="234" width="3" height="2" fill="#ff0000"/>
<rect x="882" y="232" width="1" height="23" fill="#ff0000"/>
<rect x="881" y="237" width="3" height="4" fill="#ff0000"/>
<rect x="886" y="226" width="1" height="31" fill="#ff0000"/>
<rect x="885" y="233" width="3" height="5" fill="#ff0000"/>
<rect x="890" y="222" width="1" height="20" fill="#00ff00"/>
<rect x="889" y="233" width="3" height="6" fill="#00ff00"/>
<rect x="894" y="233" width="1" height="31" fill="#00ff00"/>
<rect x="893" y="236" width="3" height="24" fill="#00ff00"/>
<rect x="898" y="220" width="1" height="51" fill="#ff0000"/>
<rect x="897" y="233" width="3" height="27" fill="#ff0000"/>
<rect x="902" y="228" width="1" height="7" fill="#00ff00"/>
<rect x="901" y="233" width="3" height="2" fill="#00ff00"/>
<rect x="906" y="226" width="1" height="39" fill="#00ff00"/>
<rect x="905" y="236" width="3" height="22" fill="#00ff00"/>
<rect x="910" y="251" width="1" height="47" fill="#00ff00"/>
<rect x="909" y="257" width="3" height="38" fill="#00ff00"/>
<rect x="914" y="282" width="1" height="34" fill="#00ff00"/>
<rect x="913" y="294" width="3" height="18" fill="#00ff00"/>
<rect x="918" y="301" width="1" height="44" fill="#00ff00"/>
<rect x="917" y="312" width="3" height="32" fill="#00ff00"/>
<rect x="922" y="279" width="1" height="67" fill="#ff0000"/>
<rect x="921" y="282" width="3" height="62" fill="#ff0000"/>
<rect x="926" y="265" width="1" height="19" fill="#ff0000"/>
<rect x="925" y="269" width="3" height="14" fill="#ff0000"/>
<rect x="930" y="268" width="1" height="28" fill="#00ff00"/>
<rect x="929" y="279" width="3" height="9" fill="#00ff00"/>
<rect x="934" y="279" width="1" height="28" fill="#00ff00"/>
<rect x="933" y="287" width="3" height="5" fill="#00ff00"/>
<rect x="938" y="276" width="1" height="22" fill="#ff0000"/>
<rect x="937" y="283" width="3" height="10" fill="#ff0000"/>
<rect x="942" y="278" width="1" height="20" fill="#00ff00"/>
<rect x="941" y="283" width="3" height="1" fill="#00ff00"/>
<rect x="946" y="275" width="1" height="20" fill="#ff0000"/>
<rect x="945" y="280" width="3" height="4" fill="#ff0000"/>
<rect x="950" y="278" width="1" height="6" fill="#00ff00"/>
<rect x="949" y="280" width="3" height="4" fill="#00ff00"/>
<rect x="954" y="277" width="1" height="29" fill="#00ff00"/>
<rect x="953" y="280" width="3" height="21" fill="#00ff00"/>
<rect x="958" y="293" width="1" height="33" fill="#00ff00"/>
<rect x="957" y="300" width="3" height="17" fill="#00ff00"/>
<rect x="962" y="298" width="1" height="22" fill="#ff0000"/>
<rect x="961" y="302" width="3" height="15" fill="#ff0000"/>
<rect x="966" y="285" width="1" height="21" fill="#ff0000"/>
<rect x="965" y="295" width="3" height="8" fill="#ff0000"/>
<rect x="970" y="289" width="1" height="15" fill="#00ff00"/>
<rect x="969" y="295" width="3" height="4" fill="#00ff00"/>
<rect x="974" y="297" width="1" height="8" fill="#00ff00"/>
<rect x="973" y="298" width="3" height="3" fill="#00ff00"/>
<rect x="978" y="287" width="1" height="29" fill="#ff0000"/>
<rect x="977" y="287" width="3" height="13" fill="#ff0000"/>
<rect x="982" y="274" width="1" height="33" fill="#00ff00"/>
<rect x="981" y="287" width="3" height="18" fill="#00ff00"/>
<rect x="986" y="292" width="1" height="21" fill="#00ff00"/>
<rect x="985" y="304" width="3" height="6" fill="#00ff00"/>
<rect x="990" y="304" width="1" height="19" fill="#ff0000"/>
<rect x="989" y="309" width="3" height="1" fill="#ff0000"/>
<rect x="994" y="303" width="1" height="10" fill="#00ff00"/>
<rect x="993" y="309" width="3" height="2" fill="#00ff00"/>
<rect x="998" y="310" width="1" height="3" fill="#00ff00"/>
<rect x="997" y="310" width="3" height="3" fill="#00ff00"/>
<rect x="1002" y="310" width="1" height="33" fill="#00ff00"/>
<rect x="1001" y="312" width="3" height="16" fill="#00ff00"/>
<rect x="1006" y="310" width="1" height="21" fill="#00ff00"/>
<rect x="1005" y="327" width="3" height="4" fill="#00ff00"/>
<rect x="1010" y="320" width="1" height="26" fill="#00ff00"/>
<rect x="1009" y="330" width="3" height="14" fill="#00ff00"/>
<rect x="1014" y="332" width="1" height="21" fill="#ff0000"/>
<rect x="1013" y="335" width="3" height="9" fill="#ff0000"/>
<rect x="1018" y="320" width="1" height="22" fill="#00ff00"/>
<rect x="1017" y="336" width="3" height="2" fill="#00ff00"/>
<rect x="1022" y="327" width="1" height="10" fill="#ff0000"/>
<rect x="1021" y="327" width="3" height="10" fill="#ff0000"/>
<rect x="1026" y="317" width="1" height="22" fill="#ff0000"/>
<rect x="1025" y="330" width="3" height="6" fill="#ff0000"/>
<rect x="1030" y="323" width="1" height="21" fill="#00ff00"/>
<rect x="1029" y="330" width="3" height="12" fill="#00ff00"/>
<rect x="1034" y="315" width="1" height="34" fill="#ff0000"/>
<rect x="1033" y="316" width="3" height="26" fill="#ff0000"/>
<rect x="1038" y="304" width="1" height="18" fill="#00ff00"/>
<rect x="1037" y="316" width="3" height="5" fill="#00ff00"/>
<rect x="1042" y="309" width="1" height="32" fill="#00ff00"/>
<rect x="1041" y="320" width="3" height="20" fill="#00ff00"/>
<rect x="1046" y="338" width="1" height="5" fill="#00ff00"/>
<rect x="1045" y="338" width="3" height="4" fill="#00ff00"/>
<rect x="1050" y="331" width="1" height="16" fill="#ff0000"/>
<rect x="1049" y="338" width="3" height="4" fill="#ff0000"/>
<rect x="1054" y="334" width="1" height="29" fill="#00ff00"/>
<rect x="1053" y="337" width="3" height="26" fill="#00ff00"/>
<rect x="1058" y="357" width="1" height="30" fill="#00ff00"/>
<rect x="1057" y="362" width="3" height="24" fill="#00ff00"/>
<rect x="1062" y="380" width="1" height="25" fill="#00ff00"/>
<rect x="1061" y="385" width="3" height="19" fill="#00ff00"/>
<rect x="1066" y="396" width="1" height="22" fill="#00ff00"/>
<rect x="1065" y="403" width="3" height="13" fill="#00ff00"/>
<rect x="1070" y="412" width="1" height="7" fill="#00ff00"/>
<rect x="1069" y="415" width="3" height="1" fill="#00ff00"/>
<rect x="1074" y="412" width="1" height="30" fill="#00ff00"/>
<rect x="1073" y="420" width="3" height="4" fill="#00ff00"/>
<rect x="1078" y="413" width="1" height="34" fill="#00ff00"/>
<rect x="1077" y="422" width="3" height="12" fill="#00ff00"/>
<rect x="1082" y="431" width="1" height="24" fill="#00ff00"/>
<rect x="1081" y="434" width="3" height="19" fill="#00ff00"/>
<rect x="1086" y="447" width="1" height="20" fill="#00ff00"/>
<rect x="1085" y="452" width="3" height="11" fill="#00ff00"/>
<rect x="1090" y="458" width="1" height="34" fill="#00ff00"/>
<rect x="1089" y="461" width="3" height="5" fill="#00ff00"/>
<rect x="1094" y="451" width="1" height="15" fill="#ff0000"/>
<rect x="1093" y="454" width="3" height="12" fill="#ff0000"/>
<rect x="1098" y="407" width="1" height="51" fill="#ff0000"/>
<rect x="1097" y="428" width="3" height="28" fill="#ff0000"/>
<rect x="1102" y="426" width="1" height="25" fill="#00ff00"/>
<rect x="1101" y="428" width="3" height="18" fill="#00ff00"/>
<rect x="1106" y="445" width="1" height="49" fill="#00ff00"/>
<rect x="1105" y="446" width="3" height="47" fill="#00ff00"/>
<rect x="1110" y="458" width="1" height="36" fill="#ff0000"/>
<rect x="1109" y="470" width="3" height="23" fill="#ff0000"/>
<rect x="1114" y="444" width="1" height="33" fill="#ff0000"/>
<rect x="1113" y="452" width="3" height="19" fill="#ff0000"/>
<rect x="1118" y="448" width="1" height="11" fill="#00ff00"/>
<rect x="1117" y="452" width="3" height="5" fill="#00ff00"/>
<rect x="1122" y="432" width="1" height="30" fill="#ff0000"/>
<rect x="1121" y="446" width="3" height="12" fill="#ff0000"/>
<rect x="1126" y="440" width="1" height="29" fill="#ff0000"/>
<rect x="1125" y="442" width="3" height="5" fill="#ff0000"/>
<rect x="1130" y="426" width="1" height="47" fill="#00ff00"/>
<rect x="1129" y="442" width="3" height="25" fill="#00ff00"/>
<rect x="1134" y="460" width="1" height="20" fill="#00ff00"/>
<rect x="1133" y="466" width="3" height="7" fill="#00ff00"/>
<rect x="1138" y="461" width="1" height="17" fill="#00ff00"/>
<rect x="1137" y="472" width="3" height="4" fill="#00ff00"/>
<rect x="1142" y="471" width="1" height="6" fill="#ff0000"/>
<rect x="1141" y="472" width="3" height="4" fill="#ff0000"/>
<rect x="1146" y="472" width="1" height="22" fill="#00ff00"/>
<rect x="1145" y="476" width="3" height="14" fill="#00ff00"/>
<rect x="1150" y="485" width="1" height="28" fill="#00ff00"/>
<rect x="1149" y="490" width="3" height="14" fill="#00ff00"/>
<rect x="1154" y="464" width="1" height="45" fill="#ff0000"/>
<rect x="1153" y="464" width="3" height="40" fill="#ff0000"/>
<rect x="1158" y="443" width="1" height="37" fill="#00ff00"/>
<rect x="1157" y="464" width="3" height="15" fill="#00ff00"/>
<rect x="1162" y="454" width="1" height="34" fill="#ff0000"/>
<rect x="1161" y="457" width="3" height="19" fill="#ff0000"/>
<rect x="1166" y="453" width="1" height="9" fill="#00ff00"/>
<rect x="1165" y="457" width="3" height="4" fill="#00ff00"/>
<rect x="1170" y="458" width="1" height="25" fill="#00ff00"/>
<rect x="1169" y="464" width="3" height="3" fill="#00ff00"/>
<rect x="1174" y="459" width="1" height="23" fill="#00ff00"/>
<rect x="1173" y="466" width="3" height="11" fill="#00ff00"/>
<rect x="1178" y="461" width="1" height="24" fill="#00ff00"/>
<rect x="1177" y="476" width="3" height="2" fill="#00ff00"/>
<rect x="1182" y="462" width="1" height="39" fill="#00ff00"/>
<rect x="1181" y="477" width="3" height="5" fill="#00ff00"/>
<rect x="1186" y="471" width="1" height="35" fill="#00ff00"/>
<rect x="1185" y="481" width="3" height="18" fill="#00ff00"/>
<rect x="1190" y="491" width="1" height="10" fill="#ff0000"/>
<rect x="1189" y="494" width="3" height="5" fill="#ff0000"/>
<rect x="1194" y="492" width="1" height="26" fill="#00ff00"/>
<rect x="1193" y="499" width="3" height="13" fill="#00ff00"/>
<rect x="1198" y="470" width="1" height="48" fill="#ff0000"/>
<rect x="1197" y="484" width="3" height="28" fill="#ff0000"/>
<rect x="1202" y="454" width="1" height="31" fill="#ff0000"/>
<rect x="1201" y="471" width="3" height="14" fill="#ff0000"/>
<rect x="1206" y="452" width="1" height="28" fill="#00ff00"/>
<rect x="1205" y="467" width="3" height="2" fill="#00ff00"/>
<rect x="1210" y="442" width="1" height="34" fill="#ff0000"/>
<rect x="1209" y="449" width="3" height="20" fill="#ff0000"/>
<rect x="1214" y="447" width="1" height="15" fill="#00ff00"/>
<rect x="1213" y="449" width="3" height="13" fill="#00ff00"/>
<rect x="1218" y="444" width="1" height="14" fill="#ff0000"/>
<rect x="1217" y="445" width="3" height="13" fill="#ff0000"/>
<rect x="1222" y="425" width="1" height="21" fill="#ff0000"/>
<rect x="1221" y="440" width="3" height="6" fill="#ff0000"/>
<rect x="1226" y="430" width="1" height="31" fill="#00ff00"/>
<rect x="1225" y="440" width="3" height="18" fill="#00ff00"/>
<rect x="1230" y="455" width="1" height="40" fill="#00ff00"/>
<rect x="1229" y="457" width="3" height="25" fill="#00ff00"/>
<rect x="1234" y="466" width="1" height="18" fill="#ff0000"/>
<rect x="1233" y="474" width="3" height="8" fill="#ff0000"/>
<rect x="1238" y="471" width="1" height="7" fill="#ff0000"/>
<rect x="1237" y="472" width="3" height="3" fill="#ff0000"/>
<rect x="1242" y="474" width="1" height="17" fill="#00ff00"/>
<rect x="1241" y="476" width="3" height="9" fill="#00ff00"/>
<rect x="1246" y="476" width="1" height="18" fill="#ff0000"/>
<rect x="1245" y="478" width="3" height="7" fill="#ff0000"/>
<rect x="1250" y="476" width="1" height="16" fill="#00ff00"/>
<rect x="1249" y="478" width="3" height="2" fill="#00ff00"/>
<rect x="1254" y="453" width="1" height="35" fill="#ff0000"/>
<rect x="1253" y="472" width="3" height="8" fill="#ff0000"/>
<rect x="1258" y="465" width="1" height="18" fill="#00ff00"/>
<rect x="1257" y="471" width="3" height="3" fill="#00ff00"/>
<rect x="1262" y="468" width="1" height="9" fill="#ff0000"/>
<rect x="1261" y="471" width="3" height="3" fill="#ff0000"/>
<rect x="1266" y="464" width="1" height="7" fill="#00ff00"/>
<rect x="1265" y="468" width="3" height="2" fill="#00ff00"/>
<path d="M12 123h2v1h-2zM351 123h1v1h-1zM655 229h1v1h-1zM701 229h1v1h-1zM927 229h2v1h-2zM42 110h3v1h-3zM325 110h7v1h-7zM618 225h2v1h-2zM637 225h12v1h-12zM705 225h1v1h-1zM922 225h1v1h-1zM666 238h2v1h-2zM686 238h1v1h-1zM939 238h2v1h-2zM89 93h4v1h-4zM109 93h4v1h-4zM137 93h4v1h-4zM149 93h4v1h-4zM1180 459h2v1h-2zM1043 310h2v1h-2zM1062 323h1v1h-1zM416 178h2v1h-2zM545 178h4v1h-4zM570 178h1v1h-1zM453 195h4v1h-4zM505 195h4v1h-4zM590 195h1v1h-1zM853 195h4v1h-4zM861 195h8v1h-8zM1077 339h1v1h-1zM364 137h1v1h-1zM62 101h3v1h-3zM205 101h3v1h-3zM230 101h2v1h-2zM302 101h2v1h-2zM1087 352h1v1h-1zM1088 353h1v1h-1zM1091 358h1v1h-1zM50 107h2v1h-2zM317 107h3v1h-3zM597 204h1v1h-1zM726 204h2v1h-2zM765 204h4v1h-4zM773 204h8v1h-8zM886 204h2v1h-2zM48 108h2v1h-2zM320 108h2v1h-2zM1006 292h1v1h-1zM600 209h1v1h-1zM719 209h1v1h-1zM905 209h2v1h-2zM975 269h2v1h-2zM987 278h2v1h-2zM674 242h3v1h-3zM945 242h1v1h-1zM85 94h4v1h-4zM113 94h8v1h-8zM129 94h8v1h-8zM153 94h4v1h-4zM253 94h8v1h-8zM277 94h8v1h-8zM438 189h3v1h-3zM524 189h2v1h-2zM585 189h1v1h-1zM76 97h2v1h-2zM165 97h8v1h-8zM181 97h12v1h-12zM240 97h2v1h-2zM293 97h3v1h-3zM1153 432h1v1h-1zM14 122h3v1h-3zM350 122h1v1h-1zM1194 469h3v1h-3zM661 234h1v1h-1zM692 234h2v1h-2zM934 234h1v1h-1zM473 202h4v1h-4zM595 202h1v1h-1zM730 202h2v1h-2zM758 202h3v1h-3zM785 202h4v1h-4zM809 202h12v1h-12zM882 202h2v1h-2zM662 235h1v1h-1zM690 235h2v1h-2zM935 235h2v1h-2zM1175 456h2v1h-2zM418 179h1v1h-1zM542 179h3v1h-3zM571 179h2v1h-2zM469 201h4v1h-4zM477 201h8v1h-8zM595 201h1v1h-1zM732 201h2v1h-2zM756 201h2v1h-2zM789 201h4v1h-4zM805 201h4v1h-4zM821 201h4v1h-4zM880 201h2v1h-2zM2 128h2v1h-2zM356 128h1v1h-1zM34 114h3v1h-3zM338 114h3v1h-3zM448 193h2v1h-2zM513 193h4v1h-4zM588 193h1v1h-1zM1029 308h8v1h-8zM1040 308h2v1h-2zM78 96h3v1h-3zM161 96h4v1h-4zM242 96h7v1h-7zM265 96h8v1h-8zM289 96h4v1h-4zM424 183h2v1h-2zM533 183h1v1h-1zM577 183h1v1h-1zM81 95h4v1h-4zM121 95h8v1h-8zM157 95h4v1h-4zM249 95h4v1h-4zM261 95h4v1h-4zM273 95h4v1h-4zM285 95h4v1h-4zM971 265h1v1h-1zM450 194h3v1h-3zM509 194h4v1h-4zM589 194h1v1h-1zM857 194h4v1h-4zM1134 408h1v1h-1zM457 196h3v1h-3zM501 196h4v1h-4zM591 196h1v1h-1zM741 196h4v1h-4zM849 196h4v1h-4zM869 196h3v1h-3zM607 215h1v1h-1zM713 215h1v1h-1zM912 215h1v1h-1zM972 266h1v1h-1zM601 210h1v1h-1zM718 210h1v1h-1zM907 210h2v1h-2zM983 275h2v1h-2zM466 200h3v1h-3zM485 200h4v1h-4zM594 200h1v1h-1zM734 200h1v1h-1zM754 200h2v1h-2zM793 200h4v1h-4zM801 200h4v1h-4zM825 200h4v1h-4zM878 200h2v1h-2zM444 191h2v1h-2zM520 191h2v1h-2zM587 191h1v1h-1zM1135 409h1v1h-1zM600 208h1v1h-1zM720 208h1v1h-1zM894 208h11v1h-11zM1145 422h1v1h-1zM1249 475h4v1h-4zM446 192h2v1h-2zM517 192h3v1h-3zM588 192h1v1h-1zM1189 465h1v1h-1zM1190 466h1v1h-1zM464 199h2v1h-2zM489 199h4v1h-4zM593 199h1v1h-1zM735 199h2v1h-2zM752 199h2v1h-2zM797 199h4v1h-4zM829 199h7v1h-7zM876 199h2v1h-2zM657 231h1v1h-1zM698 231h1v1h-1zM930 231h1v1h-1zM462 198h2v1h-2zM493 198h4v1h-4zM592 198h1v1h-1zM737 198h1v1h-1zM749 198h3v1h-3zM836 198h2v1h-2zM874 198h2v1h-2zM1171 452h1v1h-1zM1064 326h1v1h-1zM6 126h2v1h-2zM354 126h1v1h-1zM1197 470h4v1h-4zM1209 470h4v1h-4zM1225 470h8v1h-8zM1079 341h1v1h-1zM367 141h1v1h-1zM1090 356h1v1h-1zM596 203h1v1h-1zM728 203h2v1h-2zM761 203h4v1h-4zM781 203h4v1h-4zM884 203h2v1h-2zM622 227h3v1h-3zM629 227h4v1h-4zM652 227h2v1h-2zM703 227h1v1h-1zM925 227h1v1h-1zM52 106h2v1h-2zM313 106h4v1h-4zM1105 376h1v1h-1zM460 197h2v1h-2zM497 197h4v1h-4zM592 197h1v1h-1zM738 197h3v1h-3zM745 197h4v1h-4zM838 197h11v1h-11zM872 197h2v1h-2zM978 271h1v1h-1zM1155 434h1v1h-1zM60 102h2v1h-2zM208 102h2v1h-2zM228 102h2v1h-2zM304 102h2v1h-2zM1185 462h1v1h-1zM358 131h1v1h-1zM22 119h3v1h-3zM347 119h1v1h-1zM991 281h2v1h-2zM672 241h2v1h-2zM677 241h4v1h-4zM943 241h2v1h-2zM73 98h3v1h-3zM173 98h8v1h-8zM193 98h4v1h-4zM237 98h3v1h-3zM296 98h2v1h-2zM1136 411h1v1h-1zM1201 471h8v1h-8zM1213 471h12v1h-12zM1233 471h4v1h-4zM670 240h2v1h-2zM681 240h3v1h-3zM942 240h1v1h-1zM54 105h2v1h-2zM217 105h4v1h-4zM310 105h3v1h-3zM974 268h1v1h-1zM1191 467h2v1h-2zM69 99h4v1h-4zM197 99h4v1h-4zM234 99h3v1h-3zM298 99h2v1h-2zM8 125h2v1h-2zM353 125h1v1h-1zM1066 328h1v1h-1zM1067 329h1v1h-1zM1091 357h1v1h-1zM609 217h1v1h-1zM712 217h1v1h-1zM914 217h1v1h-1zM369 143h1v1h-1zM617 224h1v1h-1zM706 224h1v1h-1zM921 224h1v1h-1zM10 124h2v1h-2zM352 124h1v1h-1zM1187 464h2v1h-2zM65 100h4v1h-4zM201 100h4v1h-4zM232 100h2v1h-2zM300 100h2v1h-2zM1073 335h1v1h-1zM360 133h1v1h-1zM361 134h1v1h-1zM1001 287h1v1h-1zM1002 288h1v1h-1zM1013 297h1v1h-1zM428 185h2v1h-2zM530 185h1v1h-1zM580 185h2v1h-2zM613 220h1v1h-1zM710 220h1v1h-1zM916 220h1v1h-1zM1139 414h1v1h-1zM1150 428h1v1h-1zM1183 461h2v1h-2zM32 115h2v1h-2zM341 115h2v1h-2zM96 91h2v1h-2zM101 91h4v1h-4zM1026 307h3v1h-3zM1037 307h3v1h-3zM1105 375h1v1h-1zM996 284h2v1h-2zM1007 293h2v1h-2zM426 184h2v1h-2zM531 184h2v1h-2zM578 184h2v1h-2zM1108 380h1v1h-1zM422 182h2v1h-2zM534 182h3v1h-3zM575 182h2v1h-2zM998 285h1v1h-1zM1009 294h1v1h-1zM1130 404h1v1h-1zM1109 381h1v1h-1zM1245 474h4v1h-4zM1253 474h14v1h-14zM1131 405h1v1h-1zM1178 458h2v1h-2zM430 186h3v1h-3zM529 186h1v1h-1zM582 186h1v1h-1zM98 90h3v1h-3zM656 230h1v1h-1zM699 230h2v1h-2zM929 230h1v1h-1zM1075 337h1v1h-1zM93 92h3v1h-3zM105 92h4v1h-4zM141 92h8v1h-8zM1004 290h1v1h-1zM610 218h1v1h-1zM711 218h1v1h-1zM915 218h1v1h-1zM663 236h2v1h-2zM689 236h1v1h-1zM937 236h1v1h-1zM603 212h2v1h-2zM716 212h1v1h-1zM910 212h1v1h-1zM1152 431h1v1h-1zM441 190h3v1h-3zM522 190h2v1h-2zM586 190h1v1h-1zM421 181h1v1h-1zM537 181h3v1h-3zM574 181h1v1h-1zM436 188h2v1h-2zM526 188h1v1h-1zM584 188h1v1h-1zM1107 378h1v1h-1zM999 286h2v1h-2zM970 264h1v1h-1zM659 233h2v1h-2zM694 233h2v1h-2zM933 233h1v1h-1zM1133 407h1v1h-1zM58 103h2v1h-2zM210 103h3v1h-3zM225 103h3v1h-3zM306 103h2v1h-2zM30 116h2v1h-2zM343 116h2v1h-2zM364 138h1v1h-1zM365 139h1v1h-1zM1088 354h1v1h-1zM1025 306h1v1h-1zM994 283h2v1h-2zM56 104h2v1h-2zM213 104h4v1h-4zM221 104h4v1h-4zM308 104h2v1h-2zM1143 419h1v1h-1zM668 239h2v1h-2zM684 239h2v1h-2zM941 239h1v1h-1zM1154 433h1v1h-1zM1069 331h1v1h-1zM409 172h1v1h-1zM371 145h1v1h-1zM372 146h1v1h-1zM383 155h2v1h-2zM1098 366h1v1h-1zM45 109h3v1h-3zM322 109h3v1h-3zM990 280h1v1h-1zM625 228h4v1h-4zM654 228h1v1h-1zM702 228h1v1h-1zM926 228h1v1h-1zM1019 302h2v1h-2zM597 205h1v1h-1zM724 205h2v1h-2zM769 205h4v1h-4zM888 205h2v1h-2zM620 226h2v1h-2zM633 226h4v1h-4zM649 226h3v1h-3zM704 226h1v1h-1zM923 226h2v1h-2zM1113 386h1v1h-1zM598 206h1v1h-1zM722 206h2v1h-2zM890 206h2v1h-2zM1241 473h4v1h-4zM403 168h2v1h-2zM414 177h2v1h-2zM549 177h3v1h-3zM568 177h2v1h-2zM405 169h1v1h-1zM20 120h2v1h-2zM348 120h1v1h-1zM986 277h1v1h-1zM1015 299h2v1h-2zM616 223h1v1h-1zM707 223h1v1h-1zM919 223h2v1h-2zM949 245h1v1h-1zM1156 436h1v1h-1zM41 111h1v1h-1zM332 111h2v1h-2zM1071 333h1v1h-1zM37 113h2v1h-2zM336 113h2v1h-2zM419 180h2v1h-2zM540 180h2v1h-2zM573 180h1v1h-1zM1011 296h2v1h-2zM1111 383h1v1h-1zM599 207h1v1h-1zM721 207h1v1h-1zM892 207h2v1h-2zM1137 412h1v1h-1zM1078 340h1v1h-1zM387 158h2v1h-2zM407 171h2v1h-2zM1092 359h1v1h-1zM1093 360h1v1h-1zM977 270h1v1h-1zM413 176h1v1h-1zM552 176h2v1h-2zM561 176h7v1h-7zM606 214h1v1h-1zM714 214h1v1h-1zM912 214h1v1h-1zM433 187h3v1h-3zM527 187h2v1h-2zM583 187h1v1h-1zM402 167h1v1h-1zM1074 336h1v1h-1zM1103 372h1v1h-1zM608 216h1v1h-1zM713 216h1v1h-1zM913 216h1v1h-1zM1117 391h1v1h-1zM602 211h1v1h-1zM717 211h1v1h-1zM909 211h1v1h-1zM1003 289h1v1h-1zM1140 416h1v1h-1zM1165 445h1v1h-1zM28 117h2v1h-2zM345 117h1v1h-1zM397 164h1v1h-1zM25 118h3v1h-3zM346 118h1v1h-1zM1080 342h1v1h-1zM368 142h1v1h-1zM390 160h2v1h-2zM1094 362h1v1h-1zM1084 348h1v1h-1zM979 272h2v1h-2zM658 232h1v1h-1zM696 232h2v1h-2zM931 232h2v1h-2zM1124 398h1v1h-1zM17 121h3v1h-3zM349 121h1v1h-1zM1160 441h1v1h-1zM1052 315h2v1h-2zM1161 442h1v1h-1zM392 161h2v1h-2zM385 156h1v1h-1zM386 157h1v1h-1zM1023 305h2v1h-2zM1115 388h1v1h-1zM993 282h1v1h-1zM615 222h1v1h-1zM708 222h1v1h-1zM918 222h1v1h-1zM1141 417h1v1h-1zM39 112h2v1h-2zM334 112h2v1h-2zM1167 447h1v1h-1zM1237 472h4v1h-4zM1082 345h1v1h-1zM370 144h1v1h-1zM380 153h2v1h-2zM1096 364h1v1h-1zM1018 301h1v1h-1zM1097 365h1v1h-1zM952 248h1v1h-1zM1112 385h1v1h-1zM611 219h2v1h-2zM711 219h1v1h-1zM916 219h1v1h-1zM1162 443h1v1h-1zM375 150h2v1h-2zM4 127h2v1h-2zM355 127h1v1h-1zM395 163h2v1h-2zM1014 298h1v1h-1zM947 244h2v1h-2zM614 221h1v1h-1zM709 221h1v1h-1zM917 221h1v1h-1zM1140 415h1v1h-1zM412 175h1v1h-1zM554 175h7v1h-7zM1144 421h1v1h-1zM1169 450h1v1h-1zM1050 314h2v1h-2zM372 147h1v1h-1zM410 173h1v1h-1zM1099 367h1v1h-1zM1010 295h1v1h-1zM954 250h1v1h-1zM1076 338h1v1h-1zM378 152h2v1h-2zM1005 291h1v1h-1zM665 237h1v1h-1zM687 237h2v1h-2zM938 237h1v1h-1zM605 213h1v1h-1zM715 213h1v1h-1zM911 213h1v1h-1zM1146 423h1v1h-1zM1157 438h1v1h-1zM400 166h2v1h-2zM1065 327h1v1h-1zM374 149h1v1h-1zM1101 370h1v1h-1zM1112 384h1v1h-1zM1116 390h1v1h-1zM1055 317h2v1h-2zM1163 444h2v1h-2zM1057 318h1v1h-1zM359 132h1v1h-1zM1048 313h2v1h-2zM366 140h1v1h-1zM1093 361h1v1h-1zM1122 396h1v1h-1zM1144 420h1v1h-1zM1148 426h1v1h-1zM1158 439h1v1h-1zM1159 440h1v1h-1zM1103 373h1v1h-1zM1021 303h1v1h-1zM1022 304h1v1h-1zM1114 387h1v1h-1zM1058 319h1v1h-1zM1080 343h1v1h-1zM1059 320h1v1h-1zM398 165h2v1h-2zM1081 344h1v1h-1zM1095 363h1v1h-1zM1017 300h1v1h-1zM961 256h1v1h-1zM950 246h1v1h-1zM951 247h1v1h-1zM1157 437h1v1h-1zM1054 316h1v1h-1zM1046 312h2v1h-2zM394 162h1v1h-1zM956 252h1v1h-1zM1116 389h1v1h-1zM968 262h1v1h-1zM946 243h1v1h-1zM1138 413h1v1h-1zM1168 449h1v1h-1zM389 159h1v1h-1zM1042 309h1v1h-1zM1083 346h1v1h-1zM963 258h2v1h-2zM1148 425h1v1h-1zM953 249h1v1h-1zM1174 455h1v1h-1zM1193 468h1v1h-1zM377 151h1v1h-1zM1118 392h1v1h-1zM959 255h2v1h-2zM1119 393h1v1h-1zM1170 451h1v1h-1zM1085 349h1v1h-1zM1089 355h1v1h-1zM373 148h1v1h-1zM1100 369h1v1h-1zM357 130h1v1h-1zM1120 394h1v1h-1zM1142 418h1v1h-1zM1121 395h1v1h-1zM1168 448h1v1h-1zM1061 322h1v1h-1zM382 154h1v1h-1zM1127 401h1v1h-1zM965 259h1v1h-1zM1128 402h1v1h-1zM1072 334h1v1h-1zM982 274h1v1h-1zM1063 324h1v1h-1zM1064 325h1v1h-1zM411 174h1v1h-1zM1045 311h1v1h-1zM1100 368h1v1h-1zM1104 374h1v1h-1zM955 251h1v1h-1zM966 260h1v1h-1zM1129 403h1v1h-1zM967 261h1v1h-1zM1177 457h1v1h-1zM406 170h1v1h-1zM973 267h1v1h-1zM1136 410h1v1h-1zM962 257h1v1h-1zM1147 424h1v1h-1zM1172 453h1v1h-1zM1173 454h1v1h-1zM1102 371h1v1h-1zM1106 377h1v1h-1zM957 253h1v1h-1zM958 254h1v1h-1zM1186 463h1v1h-1zM1083 347h1v1h-1zM1123 397h1v1h-1zM1149 427h1v1h-1zM1182 460h1v1h-1zM1068 330h1v1h-1zM356 129h1v1h-1zM989 279h1v1h-1zM1108 379h1v1h-1zM1166 446h1v1h-1zM1060 321h1v1h-1zM362 135h1v1h-1zM1085 350h1v1h-1zM363 136h1v1h-1zM1086 351h1v1h-1zM985 276h1v1h-1zM1125 399h1v1h-1zM1126 400h1v1h-1zM1151 429h1v1h-1zM1152 430h1v1h-1zM1155 435h1v1h-1zM1070 332h1v1h-1zM1110 382h1v1h-1zM969 263h1v1h-1zM1132 406h1v1h-1zM981 273h1v1h-1z" fill="#0000cd"/>
<path d="M375 175h1v1h-1zM521 175h1v1h-1zM571 175h1v1h-1zM1105 429h1v1h-1zM13 103h12v1h-12zM148 103h1v1h-1zM172 103h2v1h-2zM198 103h7v1h-7zM296 103h1v1h-1zM409 198h4v1h-4zM488 198h2v1h-2zM582 198h1v1h-1zM668 198h2v1h-2zM694 198h1v1h-1zM769 198h1v1h-1zM780 198h2v1h-2zM789 198h2v1h-2zM814 198h2v1h-2zM831 198h2v1h-2zM870 198h2v1h-2zM48 97h2v1h-2zM122 97h15v1h-15zM229 97h11v1h-11zM290 97h1v1h-1zM586 214h1v1h-1zM651 214h1v1h-1zM890 214h1v1h-1zM430 202h3v1h-3zM437 202h8v1h-8zM457 202h12v1h-12zM477 202h4v1h-4zM583 202h1v1h-1zM657 202h1v1h-1zM661 202h2v1h-2zM698 202h1v1h-1zM726 202h6v1h-6zM763 202h2v1h-2zM876 202h1v1h-1zM599 261h1v1h-1zM638 261h1v1h-1zM925 261h1v1h-1zM413 199h8v1h-8zM486 199h2v1h-2zM582 199h1v1h-1zM666 199h2v1h-2zM695 199h1v1h-1zM767 199h2v1h-2zM782 199h7v1h-7zM816 199h2v1h-2zM830 199h1v1h-1zM872 199h2v1h-2zM584 208h1v1h-1zM654 208h1v1h-1zM703 208h1v1h-1zM713 208h1v1h-1zM740 208h2v1h-2zM755 208h2v1h-2zM883 208h1v1h-1zM613 291h1v1h-1zM627 291h1v1h-1zM957 291h1v1h-1zM974 291h3v1h-3zM2 108h2v1h-2zM154 108h10v1h-10zM300 108h1v1h-1zM404 196h2v1h-2zM491 196h2v1h-2zM581 196h1v1h-1zM671 196h1v1h-1zM693 196h1v1h-1zM772 196h2v1h-2zM776 196h2v1h-2zM793 196h1v1h-1zM809 196h3v1h-3zM834 196h1v1h-1zM862 196h6v1h-6zM388 187h2v1h-2zM508 187h2v1h-2zM577 187h1v1h-1zM680 187h2v1h-2zM683 187h2v1h-2zM584 206h1v1h-1zM655 206h1v1h-1zM701 206h1v1h-1zM716 206h2v1h-2zM737 206h1v1h-1zM758 206h1v1h-1zM881 206h1v1h-1zM42 99h3v1h-3zM141 99h3v1h-3zM181 99h11v1h-11zM218 99h7v1h-7zM293 99h1v1h-1zM45 98h3v1h-3zM137 98h4v1h-4zM225 98h4v1h-4zM291 98h2v1h-2zM1090 399h1v1h-1zM354 155h1v1h-1zM545 155h10v1h-10zM604 276h1v1h-1zM634 276h1v1h-1zM941 276h1v1h-1zM1153 467h1v1h-1zM1165 467h4v1h-4zM1253 467h11v1h-11zM421 200h7v1h-7zM484 200h2v1h-2zM582 200h1v1h-1zM665 200h1v1h-1zM696 200h1v1h-1zM766 200h1v1h-1zM818 200h7v1h-7zM828 200h2v1h-2zM874 200h1v1h-1zM616 295h1v1h-1zM625 295h1v1h-1zM962 295h7v1h-7zM984 295h2v1h-2zM1182 475h2v1h-2zM1217 475h3v1h-3zM609 285h1v1h-1zM630 285h1v1h-1zM953 285h1v1h-1zM1037 325h3v1h-3zM594 245h1v1h-1zM643 245h1v1h-1zM914 245h1v1h-1zM93 81h1v1h-1zM99 81h2v1h-2zM406 197h3v1h-3zM490 197h1v1h-1zM581 197h1v1h-1zM670 197h1v1h-1zM693 197h1v1h-1zM770 197h2v1h-2zM778 197h2v1h-2zM791 197h2v1h-2zM812 197h2v1h-2zM833 197h1v1h-1zM868 197h2v1h-2zM61 93h8v1h-8zM114 93h2v1h-2zM246 93h1v1h-1zM286 93h1v1h-1zM52 95h2v1h-2zM118 95h2v1h-2zM242 95h2v1h-2zM288 95h1v1h-1zM400 194h2v1h-2zM494 194h2v1h-2zM580 194h1v1h-1zM672 194h1v1h-1zM691 194h1v1h-1zM797 194h8v1h-8zM837 194h1v1h-1zM849 194h4v1h-4zM857 194h3v1h-3zM72 91h2v1h-2zM111 91h2v1h-2zM249 91h1v1h-1zM284 91h1v1h-1zM330 135h1v1h-1zM322 131h3v1h-3zM352 153h1v1h-1zM25 102h8v1h-8zM147 102h1v1h-1zM174 102h2v1h-2zM196 102h2v1h-2zM205 102h8v1h-8zM295 102h1v1h-1zM359 161h1v1h-1zM531 161h1v1h-1zM563 161h1v1h-1zM616 296h1v1h-1zM624 296h1v1h-1zM986 296h3v1h-3zM314 126h2v1h-2zM428 201h2v1h-2zM433 201h4v1h-4zM481 201h3v1h-3zM583 201h1v1h-1zM658 201h3v1h-3zM663 201h2v1h-2zM697 201h1v1h-1zM765 201h1v1h-1zM825 201h3v1h-3zM875 201h1v1h-1zM449 204h4v1h-4zM583 204h1v1h-1zM656 204h1v1h-1zM700 204h1v1h-1zM721 204h3v1h-3zM734 204h1v1h-1zM761 204h1v1h-1zM878 204h1v1h-1zM592 238h1v1h-1zM645 238h1v1h-1zM911 238h1v1h-1zM1179 473h2v1h-2zM1222 473h15v1h-15zM585 209h1v1h-1zM653 209h1v1h-1zM704 209h1v1h-1zM712 209h1v1h-1zM742 209h2v1h-2zM753 209h2v1h-2zM884 209h1v1h-1zM591 232h1v1h-1zM646 232h1v1h-1zM908 232h1v1h-1zM584 205h1v1h-1zM655 205h1v1h-1zM700 205h1v1h-1zM718 205h3v1h-3zM735 205h2v1h-2zM759 205h2v1h-2zM879 205h2v1h-2zM614 292h1v1h-1zM627 292h1v1h-1zM958 292h1v1h-1zM973 292h1v1h-1zM977 292h3v1h-3zM390 188h2v1h-2zM506 188h2v1h-2zM578 188h1v1h-1zM678 188h2v1h-2zM685 188h1v1h-1zM374 174h1v1h-1zM522 174h1v1h-1zM571 174h1v1h-1zM585 210h1v1h-1zM653 210h1v1h-1zM705 210h1v1h-1zM711 210h1v1h-1zM744 210h2v1h-2zM749 210h4v1h-4zM885 210h1v1h-1zM597 255h1v1h-1zM640 255h1v1h-1zM919 255h1v1h-1zM394 190h1v1h-1zM502 190h2v1h-2zM578 190h1v1h-1zM674 190h2v1h-2zM687 190h2v1h-2zM395 191h2v1h-2zM500 191h2v1h-2zM579 191h1v1h-1zM673 191h1v1h-1zM689 191h1v1h-1zM1158 470h2v1h-2zM1174 470h2v1h-2zM1245 470h3v1h-3zM1188 478h2v1h-2zM1206 478h3v1h-3zM343 144h2v1h-2zM318 128h1v1h-1zM82 86h2v1h-2zM106 86h1v1h-1zM254 86h3v1h-3zM261 86h16v1h-16zM1085 385h1v1h-1zM612 289h1v1h-1zM628 289h1v1h-1zM956 289h1v1h-1zM1194 481h3v1h-3zM1201 481h2v1h-2zM599 262h1v1h-1zM638 262h1v1h-1zM926 262h1v1h-1zM1086 386h1v1h-1zM1197 482h4v1h-4zM366 169h1v1h-1zM525 169h1v1h-1zM568 169h1v1h-1zM1181 474h1v1h-1zM1220 474h2v1h-2zM78 88h2v1h-2zM108 88h1v1h-1zM252 88h1v1h-1zM280 88h2v1h-2zM606 279h1v1h-1zM632 279h1v1h-1zM945 279h1v1h-1zM445 203h4v1h-4zM453 203h4v1h-4zM469 203h8v1h-8zM583 203h1v1h-1zM657 203h1v1h-1zM699 203h1v1h-1zM724 203h2v1h-2zM732 203h2v1h-2zM762 203h1v1h-1zM877 203h1v1h-1zM601 270h1v1h-1zM636 270h1v1h-1zM934 270h1v1h-1zM607 282h1v1h-1zM631 282h1v1h-1zM951 282h1v1h-1zM33 101h7v1h-7zM146 101h1v1h-1zM176 101h2v1h-2zM194 101h2v1h-2zM213 101h3v1h-3zM295 101h1v1h-1zM74 90h2v1h-2zM110 90h1v1h-1zM250 90h1v1h-1zM283 90h1v1h-1zM376 176h1v1h-1zM521 176h1v1h-1zM572 176h1v1h-1zM611 288h1v1h-1zM629 288h1v1h-1zM955 288h1v1h-1zM592 236h1v1h-1zM645 236h1v1h-1zM910 236h1v1h-1zM397 192h1v1h-1zM498 192h2v1h-2zM579 192h1v1h-1zM673 192h1v1h-1zM690 192h1v1h-1zM350 150h1v1h-1zM1103 424h1v1h-1zM1141 460h3v1h-3zM351 151h1v1h-1zM383 183h1v1h-1zM515 183h1v1h-1zM575 183h1v1h-1zM94 80h5v1h-5zM1003 305h1v1h-1zM596 253h1v1h-1zM640 253h1v1h-1zM918 253h1v1h-1zM384 184h1v1h-1zM514 184h1v1h-1zM576 184h1v1h-1zM385 185h1v1h-1zM512 185h2v1h-2zM576 185h1v1h-1zM587 219h1v1h-1zM649 219h1v1h-1zM894 219h3v1h-3zM591 235h1v1h-1zM645 235h1v1h-1zM910 235h1v1h-1zM587 217h1v1h-1zM650 217h1v1h-1zM892 217h1v1h-1zM588 220h1v1h-1zM649 220h1v1h-1zM897 220h2v1h-2zM1176 471h2v1h-2zM1241 471h4v1h-4zM392 189h2v1h-2zM504 189h2v1h-2zM578 189h1v1h-1zM676 189h2v1h-2zM686 189h1v1h-1zM596 251h1v1h-1zM641 251h1v1h-1zM917 251h1v1h-1zM603 273h1v1h-1zM635 273h1v1h-1zM938 273h1v1h-1zM615 294h1v1h-1zM626 294h1v1h-1zM961 294h1v1h-1zM969 294h2v1h-2zM982 294h2v1h-2zM617 298h1v1h-1zM623 298h1v1h-1zM992 298h2v1h-2zM1043 328h2v1h-2zM398 193h2v1h-2zM496 193h2v1h-2zM580 193h1v1h-1zM672 193h1v1h-1zM691 193h1v1h-1zM838 193h11v1h-11zM597 257h1v1h-1zM639 257h1v1h-1zM921 257h1v1h-1zM1062 345h1v1h-1zM6 106h2v1h-2zM151 106h2v1h-2zM166 106h2v1h-2zM298 106h1v1h-1zM84 85h2v1h-2zM105 85h1v1h-1zM257 85h4v1h-4zM54 94h7v1h-7zM116 94h2v1h-2zM244 94h2v1h-2zM287 94h1v1h-1zM40 100h2v1h-2zM144 100h2v1h-2zM178 100h3v1h-3zM192 100h2v1h-2zM216 100h2v1h-2zM294 100h1v1h-1zM402 195h2v1h-2zM493 195h1v1h-1zM580 195h1v1h-1zM671 195h1v1h-1zM692 195h1v1h-1zM774 195h2v1h-2zM794 195h3v1h-3zM805 195h4v1h-4zM835 195h2v1h-2zM853 195h4v1h-4zM860 195h2v1h-2zM8 105h2v1h-2zM150 105h1v1h-1zM168 105h2v1h-2zM297 105h1v1h-1zM327 133h2v1h-2zM319 129h2v1h-2zM379 180h2v1h-2zM518 180h1v1h-1zM574 180h1v1h-1zM309 121h1v1h-1zM4 107h2v1h-2zM153 107h1v1h-1zM164 107h2v1h-2zM299 107h1v1h-1zM585 211h1v1h-1zM652 211h1v1h-1zM706 211h5v1h-5zM746 211h3v1h-3zM886 211h1v1h-1zM598 259h1v1h-1zM639 259h1v1h-1zM922 259h1v1h-1zM10 104h3v1h-3zM149 104h1v1h-1zM170 104h2v1h-2zM297 104h1v1h-1zM86 84h3v1h-3zM103 84h2v1h-2zM604 275h1v1h-1zM634 275h1v1h-1zM940 275h1v1h-1zM1154 468h2v1h-2zM1162 468h3v1h-3zM1169 468h3v1h-3zM1250 468h3v1h-3zM1264 468h2v1h-2zM594 244h1v1h-1zM643 244h1v1h-1zM914 244h1v1h-1zM378 179h1v1h-1zM519 179h1v1h-1zM573 179h1v1h-1zM612 290h1v1h-1zM628 290h1v1h-1zM957 290h1v1h-1zM1101 420h1v1h-1zM352 152h1v1h-1zM1102 421h1v1h-1zM50 96h2v1h-2zM120 96h2v1h-2zM240 96h2v1h-2zM289 96h1v1h-1zM1079 373h1v1h-1zM608 283h1v1h-1zM631 283h1v1h-1zM952 283h1v1h-1zM386 186h2v1h-2zM510 186h2v1h-2zM577 186h1v1h-1zM682 186h1v1h-1zM1108 436h1v1h-1zM589 227h1v1h-1zM647 227h1v1h-1zM905 227h1v1h-1zM1080 374h1v1h-1zM316 127h2v1h-2zM599 263h1v1h-1zM638 263h1v1h-1zM927 263h1v1h-1zM1186 477h2v1h-2zM1209 477h4v1h-4zM357 159h1v1h-1zM533 159h1v1h-1zM560 159h2v1h-2zM363 166h1v1h-1zM527 166h1v1h-1zM567 166h1v1h-1zM1053 334h1v1h-1zM597 254h1v1h-1zM640 254h1v1h-1zM919 254h1v1h-1zM598 260h1v1h-1zM639 260h1v1h-1zM923 260h2v1h-2zM1046 330h2v1h-2zM594 246h1v1h-1zM642 246h1v1h-1zM915 246h1v1h-1zM1147 463h2v1h-2zM80 87h2v1h-2zM107 87h1v1h-1zM253 87h1v1h-1zM277 87h3v1h-3zM1149 464h1v1h-1zM1069 355h1v1h-1zM337 140h1v1h-1zM360 162h1v1h-1zM530 162h1v1h-1zM564 162h1v1h-1zM584 207h1v1h-1zM654 207h1v1h-1zM702 207h1v1h-1zM714 207h2v1h-2zM738 207h2v1h-2zM757 207h1v1h-1zM882 207h1v1h-1zM311 123h1v1h-1zM600 265h1v1h-1zM637 265h1v1h-1zM929 265h1v1h-1zM589 225h1v1h-1zM648 225h1v1h-1zM904 225h1v1h-1zM610 287h1v1h-1zM629 287h1v1h-1zM955 287h1v1h-1zM376 177h1v1h-1zM520 177h1v1h-1zM572 177h1v1h-1zM382 182h1v1h-1zM516 182h1v1h-1zM575 182h1v1h-1zM76 89h2v1h-2zM109 89h1v1h-1zM251 89h1v1h-1zM282 89h1v1h-1zM615 293h1v1h-1zM626 293h1v1h-1zM959 293h2v1h-2zM971 293h2v1h-2zM980 293h2v1h-2zM1099 416h1v1h-1zM1103 423h1v1h-1zM1042 327h1v1h-1zM89 83h2v1h-2zM102 83h1v1h-1zM1100 417h1v1h-1zM355 156h1v1h-1zM541 156h4v1h-4zM555 156h2v1h-2zM1078 371h1v1h-1zM372 173h2v1h-2zM523 173h1v1h-1zM570 173h1v1h-1zM1107 434h1v1h-1zM1110 439h1v1h-1zM587 216h1v1h-1zM650 216h1v1h-1zM892 216h1v1h-1zM360 163h1v1h-1zM529 163h1v1h-1zM564 163h1v1h-1zM1086 388h1v1h-1zM1092 403h1v1h-1zM1056 337h1v1h-1zM1067 351h1v1h-1zM1070 356h1v1h-1zM347 147h1v1h-1zM1151 466h2v1h-2zM595 248h1v1h-1zM642 248h1v1h-1zM916 248h1v1h-1zM321 130h1v1h-1zM598 258h1v1h-1zM639 258h1v1h-1zM921 258h1v1h-1zM356 158h1v1h-1zM534 158h3v1h-3zM558 158h2v1h-2zM1190 479h2v1h-2zM1205 479h1v1h-1zM1192 480h2v1h-2zM1203 480h2v1h-2zM1184 476h2v1h-2zM1213 476h4v1h-4zM588 222h1v1h-1zM649 222h1v1h-1zM901 222h1v1h-1zM593 243h1v1h-1zM643 243h1v1h-1zM914 243h1v1h-1zM377 178h1v1h-1zM519 178h1v1h-1zM573 178h1v1h-1zM1051 333h2v1h-2zM342 143h1v1h-1zM1146 462h1v1h-1zM1105 430h1v1h-1zM1108 435h1v1h-1zM1137 459h4v1h-4zM335 139h2v1h-2zM588 223h1v1h-1zM648 223h1v1h-1zM902 223h1v1h-1zM361 164h1v1h-1zM529 164h1v1h-1zM565 164h1v1h-1zM1087 389h1v1h-1zM362 165h1v1h-1zM528 165h1v1h-1zM566 165h1v1h-1zM1156 469h2v1h-2zM1160 469h2v1h-2zM1172 469h2v1h-2zM1248 469h2v1h-2zM1266 469h1v1h-1zM1094 406h1v1h-1zM1069 354h1v1h-1zM1032 323h2v1h-2zM1072 359h1v1h-1zM1073 360h1v1h-1zM349 149h1v1h-1zM301 109h1v1h-1zM608 284h1v1h-1zM630 284h1v1h-1zM952 284h1v1h-1zM590 229h1v1h-1zM647 229h1v1h-1zM907 229h1v1h-1zM589 224h1v1h-1zM648 224h1v1h-1zM903 224h1v1h-1zM592 239h1v1h-1zM644 239h1v1h-1zM912 239h1v1h-1zM91 82h2v1h-2zM101 82h1v1h-1zM1115 445h1v1h-1zM1086 387h1v1h-1zM600 264h1v1h-1zM637 264h1v1h-1zM928 264h1v1h-1zM590 231h1v1h-1zM646 231h1v1h-1zM908 231h1v1h-1zM367 170h2v1h-2zM525 170h1v1h-1zM569 170h1v1h-1zM365 168h1v1h-1zM526 168h1v1h-1zM568 168h1v1h-1zM606 280h1v1h-1zM632 280h1v1h-1zM946 280h3v1h-3zM1092 402h1v1h-1zM618 299h5v1h-5zM994 299h2v1h-2zM592 237h1v1h-1zM645 237h1v1h-1zM911 237h1v1h-1zM356 157h1v1h-1zM537 157h4v1h-4zM557 157h1v1h-1zM595 247h1v1h-1zM642 247h1v1h-1zM915 247h1v1h-1zM1103 425h1v1h-1zM595 250h1v1h-1zM641 250h1v1h-1zM917 250h1v1h-1zM1134 458h3v1h-3zM303 111h1v1h-1zM585 212h1v1h-1zM652 212h1v1h-1zM887 212h2v1h-2zM588 221h1v1h-1zM649 221h1v1h-1zM899 221h2v1h-2zM1129 454h1v1h-1zM1082 379h1v1h-1zM586 213h1v1h-1zM652 213h1v1h-1zM889 213h1v1h-1zM617 297h1v1h-1zM624 297h1v1h-1zM989 297h3v1h-3zM1045 329h1v1h-1zM1124 451h2v1h-2zM605 277h1v1h-1zM633 277h1v1h-1zM942 277h1v1h-1zM593 240h1v1h-1zM644 240h1v1h-1zM912 240h1v1h-1zM1040 326h2v1h-2zM591 234h1v1h-1zM646 234h1v1h-1zM909 234h1v1h-1zM1102 422h1v1h-1zM1024 318h2v1h-2zM353 154h1v1h-1zM305 114h1v1h-1zM590 228h1v1h-1zM647 228h1v1h-1zM906 228h1v1h-1zM1080 375h1v1h-1zM1109 438h1v1h-1zM586 215h1v1h-1zM651 215h1v1h-1zM891 215h1v1h-1zM364 167h1v1h-1zM527 167h1v1h-1zM567 167h1v1h-1zM1087 391h1v1h-1zM1054 335h1v1h-1zM1055 336h1v1h-1zM596 252h1v1h-1zM641 252h1v1h-1zM918 252h1v1h-1zM609 286h1v1h-1zM630 286h1v1h-1zM954 286h1v1h-1zM600 266h1v1h-1zM637 266h1v1h-1zM930 266h1v1h-1zM589 226h1v1h-1zM648 226h1v1h-1zM904 226h1v1h-1zM1048 331h2v1h-2zM1050 332h1v1h-1zM1034 324h3v1h-3zM1100 418h1v1h-1zM587 218h1v1h-1zM650 218h1v1h-1zM893 218h1v1h-1zM595 249h1v1h-1zM641 249h1v1h-1zM916 249h1v1h-1zM1144 461h2v1h-2zM307 116h1v1h-1zM1082 378h1v1h-1zM1122 450h2v1h-2zM1178 472h1v1h-1zM1237 472h4v1h-4zM1089 394h1v1h-1zM1056 338h1v1h-1zM1093 405h1v1h-1zM1096 410h1v1h-1zM1057 339h1v1h-1zM1067 352h1v1h-1zM1071 358h1v1h-1zM597 256h1v1h-1zM640 256h1v1h-1zM920 256h1v1h-1zM591 233h1v1h-1zM646 233h1v1h-1zM909 233h1v1h-1zM1010 311h3v1h-3zM1109 437h1v1h-1zM358 160h1v1h-1zM532 160h1v1h-1zM562 160h1v1h-1zM1113 443h1v1h-1zM601 268h1v1h-1zM636 268h1v1h-1zM932 268h1v1h-1zM1087 390h1v1h-1zM1094 407h1v1h-1zM1098 413h1v1h-1zM1058 340h1v1h-1zM602 271h1v1h-1zM635 271h1v1h-1zM935 271h2v1h-2zM1059 341h1v1h-1zM69 92h3v1h-3zM113 92h1v1h-1zM247 92h2v1h-2zM285 92h1v1h-1zM1073 361h1v1h-1zM1127 453h2v1h-2zM302 110h1v1h-1zM590 230h1v1h-1zM647 230h1v1h-1zM907 230h1v1h-1zM593 241h1v1h-1zM644 241h1v1h-1zM913 241h1v1h-1zM600 267h1v1h-1zM636 267h1v1h-1zM931 267h1v1h-1zM1027 320h2v1h-2zM1001 303h1v1h-1zM1020 316h2v1h-2zM1111 440h1v1h-1zM1002 304h1v1h-1zM370 172h2v1h-2zM523 172h1v1h-1zM570 172h1v1h-1zM1093 404h1v1h-1zM607 281h1v1h-1zM632 281h1v1h-1zM949 281h2v1h-2zM602 272h1v1h-1zM635 272h1v1h-1zM937 272h1v1h-1zM1061 344h1v1h-1zM1071 357h1v1h-1zM1022 317h2v1h-2zM1104 426h1v1h-1zM996 300h2v1h-2zM325 132h2v1h-2zM1015 313h2v1h-2zM1007 309h2v1h-2zM304 113h1v1h-1zM1089 396h1v1h-1zM601 269h1v1h-1zM636 269h1v1h-1zM933 269h1v1h-1zM605 278h1v1h-1zM633 278h1v1h-1zM943 278h2v1h-2zM1131 456h2v1h-2zM1004 306h1v1h-1zM1063 346h1v1h-1zM999 302h2v1h-2zM306 115h1v1h-1zM1081 377h1v1h-1zM1084 382h1v1h-1zM1120 449h2v1h-2zM1088 393h1v1h-1zM369 171h1v1h-1zM524 171h1v1h-1zM569 171h1v1h-1zM1095 409h1v1h-1zM1013 312h2v1h-2zM1065 349h1v1h-1zM304 112h1v1h-1zM307 117h1v1h-1zM308 118h1v1h-1zM1130 455h1v1h-1zM1112 442h1v1h-1zM1089 395h1v1h-1zM1097 412h1v1h-1zM1030 322h2v1h-2zM333 137h1v1h-1zM1075 365h1v1h-1zM1117 447h1v1h-1zM1126 452h1v1h-1zM1118 448h2v1h-2zM381 181h1v1h-1zM517 181h1v1h-1zM574 181h1v1h-1zM1026 319h1v1h-1zM1018 315h2v1h-2zM329 134h1v1h-1zM1081 376h1v1h-1zM1088 392h1v1h-1zM1098 414h1v1h-1zM1095 408h1v1h-1zM1060 343h1v1h-1zM1150 465h1v1h-1zM1006 308h1v1h-1zM1077 368h1v1h-1zM1074 362h1v1h-1zM1106 431h1v1h-1zM593 242h1v1h-1zM643 242h1v1h-1zM913 242h1v1h-1zM1091 400h1v1h-1zM331 136h2v1h-2zM1112 441h1v1h-1zM1097 411h1v1h-1zM1075 364h1v1h-1zM1104 427h1v1h-1zM1105 428h1v1h-1zM1083 381h1v1h-1zM603 274h1v1h-1zM634 274h1v1h-1zM939 274h1v1h-1zM1090 398h1v1h-1zM340 142h2v1h-2zM1114 444h1v1h-1zM1133 457h1v1h-1zM1060 342h1v1h-1zM1064 348h1v1h-1zM1084 383h1v1h-1zM310 122h1v1h-1zM1085 384h1v1h-1zM1029 321h1v1h-1zM1116 446h1v1h-1zM345 145h1v1h-1zM1066 350h1v1h-1zM998 301h1v1h-1zM1017 314h1v1h-1zM346 146h1v1h-1zM1009 310h1v1h-1zM308 119h1v1h-1zM309 120h1v1h-1zM1083 380h1v1h-1zM1090 397h1v1h-1zM1101 419h1v1h-1zM1005 307h1v1h-1zM1076 367h1v1h-1zM1079 372h1v1h-1zM1064 347h1v1h-1zM1068 353h1v1h-1zM348 148h1v1h-1zM1099 415h1v1h-1zM1077 369h1v1h-1zM1074 363h1v1h-1zM1106 432h1v1h-1zM1078 370h1v1h-1zM1107 433h1v1h-1zM1091 401h1v1h-1zM338 141h2v1h-2zM312 124h1v1h-1zM313 125h1v1h-1zM334 138h1v1h-1zM1076 366h1v1h-1z" fill="#ff0000"/>
<path d="M113 113h1v1h-1zM126 113h1v1h-1zM158 113h1v1h-1zM171 113h1v1h-1zM210 113h5v1h-5zM278 113h2v1h-2zM285 113h1v1h-1zM29 106h8v1h-8zM110 106h1v1h-1zM129 106h1v1h-1zM154 106h1v1h-1zM174 106h1v1h-1zM205 106h1v1h-1zM223 106h1v1h-1zM272 106h1v1h-1zM1149 481h1v1h-1zM1154 481h3v1h-3zM1159 481h2v1h-2zM1186 481h1v1h-1zM1208 481h1v1h-1zM21 103h1v1h-1zM39 103h1v1h-1zM109 103h1v1h-1zM131 103h1v1h-1zM153 103h1v1h-1zM175 103h1v1h-1zM202 103h1v1h-1zM225 103h1v1h-1zM270 103h1v1h-1zM366 201h2v1h-2zM373 201h1v1h-1zM411 201h1v1h-1zM442 201h3v1h-3zM468 201h1v1h-1zM486 201h1v1h-1zM568 201h1v1h-1zM633 201h1v1h-1zM660 201h1v1h-1zM683 201h1v1h-1zM707 201h1v1h-1zM749 201h1v1h-1zM780 201h1v1h-1zM798 201h1v1h-1zM868 201h1v1h-1zM354 173h1v1h-1zM497 173h1v1h-1zM558 173h1v1h-1zM636 173h1v1h-1zM656 173h1v1h-1zM1191 488h1v1h-1zM1205 488h1v1h-1zM1149 482h1v1h-1zM1152 482h2v1h-2zM1157 482h2v1h-2zM1187 482h1v1h-1zM1208 482h1v1h-1zM478 215h1v1h-1zM572 215h1v1h-1zM631 215h1v1h-1zM662 215h1v1h-1zM680 215h1v1h-1zM715 215h1v1h-1zM737 215h1v1h-1zM785 215h1v1h-1zM793 215h1v1h-1zM874 215h1v1h-1zM363 196h1v1h-1zM382 196h3v1h-3zM408 196h1v1h-1zM453 196h1v1h-1zM465 196h1v1h-1zM488 196h1v1h-1zM567 196h1v1h-1zM634 196h1v1h-1zM659 196h1v1h-1zM685 196h1v1h-1zM705 196h1v1h-1zM752 196h1v1h-1zM778 196h1v1h-1zM800 196h1v1h-1zM817 196h1v1h-1zM820 196h2v1h-2zM842 196h2v1h-2zM854 196h3v1h-3zM860 196h2v1h-2zM864 196h2v1h-2zM355 174h1v1h-1zM497 174h1v1h-1zM559 174h1v1h-1zM636 174h1v1h-1zM656 174h1v1h-1zM360 188h1v1h-1zM490 188h1v1h-1zM565 188h1v1h-1zM635 188h1v1h-1zM658 188h1v1h-1zM687 188h1v1h-1zM702 188h1v1h-1zM757 188h1v1h-1zM776 188h1v1h-1zM805 188h1v1h-1zM811 188h1v1h-1zM572 216h1v1h-1zM631 216h1v1h-1zM662 216h1v1h-1zM680 216h1v1h-1zM716 216h1v1h-1zM736 216h1v1h-1zM785 216h1v1h-1zM792 216h1v1h-1zM875 216h1v1h-1zM586 283h1v1h-1zM619 283h1v1h-1zM917 283h1v1h-1zM938 283h6v1h-6zM588 295h1v1h-1zM617 295h1v1h-1zM921 295h1v1h-1zM934 295h1v1h-1zM960 295h1v1h-1zM345 153h1v1h-1zM521 153h1v1h-1zM546 153h1v1h-1zM638 153h1v1h-1zM653 153h1v1h-1zM587 287h1v1h-1zM619 287h1v1h-1zM918 287h1v1h-1zM937 287h1v1h-1zM955 287h1v1h-1zM307 133h1v1h-1zM644 133h1v1h-1zM648 133h1v1h-1zM361 191h1v1h-1zM395 191h2v1h-2zM405 191h2v1h-2zM457 191h1v1h-1zM460 191h2v1h-2zM489 191h1v1h-1zM566 191h1v1h-1zM634 191h1v1h-1zM659 191h1v1h-1zM686 191h1v1h-1zM703 191h1v1h-1zM755 191h1v1h-1zM776 191h1v1h-1zM803 191h1v1h-1zM813 191h1v1h-1zM834 191h2v1h-2zM839 191h1v1h-1zM362 194h1v1h-1zM388 194h2v1h-2zM407 194h1v1h-1zM455 194h1v1h-1zM463 194h1v1h-1zM488 194h1v1h-1zM567 194h1v1h-1zM634 194h1v1h-1zM659 194h1v1h-1zM685 194h1v1h-1zM704 194h1v1h-1zM753 194h1v1h-1zM777 194h1v1h-1zM801 194h1v1h-1zM815 194h1v1h-1zM824 194h2v1h-2zM841 194h1v1h-1zM1190 486h1v1h-1zM1206 486h1v1h-1zM320 147h2v1h-2zM330 147h3v1h-3zM337 147h6v1h-6zM527 147h1v1h-1zM539 147h1v1h-1zM640 147h1v1h-1zM652 147h1v1h-1zM598 345h1v1h-1zM605 345h1v1h-1zM1055 345h1v1h-1zM297 125h1v1h-1zM1193 491h1v1h-1zM1203 491h1v1h-1zM591 306h1v1h-1zM614 306h1v1h-1zM996 306h1v1h-1zM1143 469h1v1h-1zM1168 469h1v1h-1zM1179 469h1v1h-1zM1213 469h1v1h-1zM1240 469h1v1h-1zM308 134h1v1h-1zM644 134h1v1h-1zM649 134h1v1h-1zM361 192h1v1h-1zM393 192h2v1h-2zM406 192h1v1h-1zM456 192h1v1h-1zM462 192h1v1h-1zM489 192h1v1h-1zM566 192h1v1h-1zM634 192h1v1h-1zM659 192h1v1h-1zM686 192h1v1h-1zM703 192h1v1h-1zM755 192h1v1h-1zM777 192h1v1h-1zM803 192h1v1h-1zM813 192h1v1h-1zM832 192h2v1h-2zM840 192h1v1h-1zM587 285h1v1h-1zM619 285h1v1h-1zM917 285h1v1h-1zM937 285h1v1h-1zM946 285h7v1h-7zM1109 458h6v1h-6zM1124 458h1v1h-1zM1135 458h1v1h-1zM1219 458h1v1h-1zM1231 458h2v1h-2zM20 100h1v1h-1zM40 100h1v1h-1zM108 100h1v1h-1zM132 100h1v1h-1zM151 100h1v1h-1zM176 100h1v1h-1zM200 100h1v1h-1zM227 100h1v1h-1zM269 100h1v1h-1zM575 231h1v1h-1zM629 231h1v1h-1zM666 231h1v1h-1zM677 231h1v1h-1zM885 231h1v1h-1zM583 266h1v1h-1zM622 266h1v1h-1zM914 266h1v1h-1zM589 298h1v1h-1zM616 298h1v1h-1zM922 298h1v1h-1zM931 298h1v1h-1zM963 298h2v1h-2zM977 298h1v1h-1zM983 298h2v1h-2zM574 227h1v1h-1zM629 227h1v1h-1zM665 227h1v1h-1zM678 227h1v1h-1zM882 227h1v1h-1zM94 76h3v1h-3zM98 76h1v1h-1zM240 76h1v1h-1zM260 76h1v1h-1zM351 165h1v1h-1zM510 165h1v1h-1zM554 165h1v1h-1zM637 165h1v1h-1zM655 165h1v1h-1zM365 200h1v1h-1zM374 200h5v1h-5zM410 200h1v1h-1zM445 200h3v1h-3zM467 200h1v1h-1zM486 200h1v1h-1zM568 200h1v1h-1zM633 200h1v1h-1zM660 200h1v1h-1zM684 200h1v1h-1zM706 200h1v1h-1zM750 200h1v1h-1zM779 200h1v1h-1zM798 200h1v1h-1zM868 200h1v1h-1zM595 332h1v1h-1zM609 332h1v1h-1zM1016 332h1v1h-1zM1033 332h1v1h-1zM1046 332h5v1h-5zM1094 454h3v1h-3zM1104 454h1v1h-1zM1126 454h1v1h-1zM1131 454h1v1h-1zM1221 454h1v1h-1zM1228 454h1v1h-1zM359 186h1v1h-1zM491 186h1v1h-1zM564 186h1v1h-1zM635 186h1v1h-1zM658 186h1v1h-1zM688 186h1v1h-1zM701 186h1v1h-1zM758 186h1v1h-1zM775 186h1v1h-1zM25 105h4v1h-4zM37 105h2v1h-2zM110 105h1v1h-1zM130 105h1v1h-1zM154 105h1v1h-1zM174 105h1v1h-1zM204 105h1v1h-1zM224 105h1v1h-1zM271 105h1v1h-1zM1070 397h1v1h-1zM58 78h1v1h-1zM91 78h2v1h-2zM99 78h1v1h-1zM239 78h1v1h-1zM261 78h1v1h-1zM590 303h1v1h-1zM614 303h1v1h-1zM970 303h5v1h-5zM992 303h2v1h-2zM572 219h1v1h-1zM630 219h1v1h-1zM663 219h1v1h-1zM680 219h1v1h-1zM717 219h1v1h-1zM726 219h9v1h-9zM788 219h2v1h-2zM791 219h1v1h-1zM876 219h1v1h-1zM97 75h2v1h-2zM241 75h1v1h-1zM259 75h1v1h-1zM421 213h1v1h-1zM425 213h2v1h-2zM476 213h1v1h-1zM480 213h1v1h-1zM571 213h1v1h-1zM631 213h1v1h-1zM662 213h1v1h-1zM681 213h1v1h-1zM714 213h1v1h-1zM738 213h1v1h-1zM784 213h1v1h-1zM794 213h1v1h-1zM874 213h1v1h-1zM595 331h1v1h-1zM609 331h1v1h-1zM1015 331h1v1h-1zM1034 331h1v1h-1zM1044 331h2v1h-2zM48 90h1v1h-1zM104 90h1v1h-1zM139 90h2v1h-2zM146 90h1v1h-1zM180 90h1v1h-1zM195 90h1v1h-1zM232 90h1v1h-1zM266 90h1v1h-1zM594 324h1v1h-1zM611 324h1v1h-1zM1009 324h1v1h-1zM364 198h1v1h-1zM380 198h1v1h-1zM409 198h1v1h-1zM450 198h1v1h-1zM466 198h1v1h-1zM487 198h1v1h-1zM568 198h1v1h-1zM633 198h1v1h-1zM660 198h1v1h-1zM684 198h1v1h-1zM706 198h1v1h-1zM751 198h1v1h-1zM779 198h1v1h-1zM799 198h1v1h-1zM846 198h6v1h-6zM867 198h1v1h-1zM9 95h1v1h-1zM16 95h2v1h-2zM42 95h2v1h-2zM106 95h1v1h-1zM135 95h1v1h-1zM149 95h1v1h-1zM178 95h1v1h-1zM198 95h1v1h-1zM229 95h1v1h-1zM267 95h1v1h-1zM49 89h1v1h-1zM104 89h1v1h-1zM141 89h1v1h-1zM144 89h2v1h-2zM181 89h1v1h-1zM195 89h1v1h-1zM232 89h1v1h-1zM265 89h1v1h-1zM414 207h1v1h-1zM432 207h1v1h-1zM472 207h1v1h-1zM484 207h1v1h-1zM570 207h1v1h-1zM632 207h1v1h-1zM661 207h1v1h-1zM682 207h1v1h-1zM709 207h1v1h-1zM745 207h2v1h-2zM781 207h1v1h-1zM796 207h1v1h-1zM871 207h1v1h-1zM590 301h1v1h-1zM615 301h1v1h-1zM926 301h2v1h-2zM967 301h2v1h-2zM975 301h1v1h-1zM988 301h2v1h-2zM584 272h1v1h-1zM621 272h1v1h-1zM915 272h1v1h-1zM1074 408h1v1h-1zM19 98h1v1h-1zM41 98h1v1h-1zM107 98h1v1h-1zM133 98h1v1h-1zM150 98h1v1h-1zM177 98h1v1h-1zM199 98h1v1h-1zM228 98h1v1h-1zM269 98h1v1h-1zM590 302h1v1h-1zM615 302h1v1h-1zM969 302h1v1h-1zM975 302h1v1h-1zM990 302h2v1h-2zM48 91h1v1h-1zM105 91h1v1h-1zM138 91h1v1h-1zM147 91h1v1h-1zM180 91h1v1h-1zM196 91h1v1h-1zM231 91h1v1h-1zM266 91h1v1h-1zM1143 468h1v1h-1zM1169 468h1v1h-1zM1174 468h5v1h-5zM1214 468h1v1h-1zM1239 468h1v1h-1zM7 96h2v1h-2zM18 96h1v1h-1zM42 96h1v1h-1zM106 96h1v1h-1zM135 96h1v1h-1zM149 96h1v1h-1zM178 96h1v1h-1zM198 96h1v1h-1zM229 96h1v1h-1zM268 96h1v1h-1zM113 114h1v1h-1zM125 114h1v1h-1zM158 114h1v1h-1zM170 114h1v1h-1zM286 114h2v1h-2zM596 335h1v1h-1zM608 335h1v1h-1zM1018 335h11v1h-11zM1051 335h1v1h-1zM1063 371h1v1h-1zM600 351h1v1h-1zM604 351h1v1h-1zM1057 351h1v1h-1zM413 206h1v1h-1zM433 206h1v1h-1zM471 206h1v1h-1zM484 206h1v1h-1zM570 206h1v1h-1zM632 206h1v1h-1zM661 206h1v1h-1zM682 206h1v1h-1zM709 206h1v1h-1zM747 206h1v1h-1zM781 206h1v1h-1zM796 206h1v1h-1zM871 206h1v1h-1zM416 209h1v1h-1zM431 209h1v1h-1zM473 209h1v1h-1zM483 209h1v1h-1zM570 209h1v1h-1zM632 209h1v1h-1zM661 209h1v1h-1zM681 209h1v1h-1zM710 209h1v1h-1zM741 209h1v1h-1zM782 209h1v1h-1zM795 209h1v1h-1zM872 209h1v1h-1zM413 205h1v1h-1zM434 205h3v1h-3zM471 205h1v1h-1zM484 205h1v1h-1zM569 205h1v1h-1zM632 205h1v1h-1zM661 205h1v1h-1zM682 205h1v1h-1zM708 205h1v1h-1zM747 205h1v1h-1zM781 205h1v1h-1zM796 205h1v1h-1zM870 205h1v1h-1zM419 212h2v1h-2zM427 212h2v1h-2zM475 212h1v1h-1zM481 212h1v1h-1zM571 212h1v1h-1zM631 212h1v1h-1zM662 212h1v1h-1zM681 212h1v1h-1zM714 212h1v1h-1zM739 212h1v1h-1zM783 212h1v1h-1zM794 212h1v1h-1zM873 212h1v1h-1zM412 204h1v1h-1zM437 204h2v1h-2zM470 204h1v1h-1zM485 204h1v1h-1zM569 204h1v1h-1zM632 204h1v1h-1zM661 204h1v1h-1zM683 204h1v1h-1zM708 204h1v1h-1zM748 204h1v1h-1zM780 204h1v1h-1zM797 204h1v1h-1zM870 204h1v1h-1zM417 210h1v1h-1zM430 210h1v1h-1zM473 210h1v1h-1zM482 210h1v1h-1zM571 210h1v1h-1zM632 210h1v1h-1zM661 210h1v1h-1zM681 210h1v1h-1zM711 210h2v1h-2zM740 210h1v1h-1zM782 210h1v1h-1zM795 210h1v1h-1zM872 210h1v1h-1zM1117 463h1v1h-1zM1121 463h2v1h-2zM1140 463h1v1h-1zM1216 463h1v1h-1zM1236 463h1v1h-1zM578 240h1v1h-1zM627 240h1v1h-1zM668 240h1v1h-1zM675 240h1v1h-1zM893 240h1v1h-1zM897 240h6v1h-6zM1144 471h1v1h-1zM1167 471h1v1h-1zM1180 471h1v1h-1zM1212 471h1v1h-1zM1241 471h1v1h-1zM1118 464h3v1h-3zM1140 464h1v1h-1zM1215 464h1v1h-1zM1237 464h1v1h-1zM418 211h1v1h-1zM429 211h1v1h-1zM474 211h1v1h-1zM482 211h1v1h-1zM571 211h1v1h-1zM631 211h1v1h-1zM662 211h1v1h-1zM681 211h1v1h-1zM713 211h1v1h-1zM740 211h1v1h-1zM783 211h1v1h-1zM795 211h1v1h-1zM873 211h1v1h-1zM591 309h1v1h-1zM613 309h1v1h-1zM998 309h1v1h-1zM56 80h1v1h-1zM61 80h1v1h-1zM65 80h2v1h-2zM89 80h1v1h-1zM100 80h1v1h-1zM238 80h1v1h-1zM261 80h1v1h-1zM586 284h1v1h-1zM619 284h1v1h-1zM917 284h1v1h-1zM938 284h1v1h-1zM944 284h2v1h-2zM252 67h2v1h-2zM255 67h1v1h-1zM358 183h1v1h-1zM492 183h1v1h-1zM563 183h1v1h-1zM635 183h1v1h-1zM657 183h1v1h-1zM689 183h1v1h-1zM700 183h1v1h-1zM760 183h1v1h-1zM774 183h1v1h-1zM596 334h1v1h-1zM608 334h1v1h-1zM1017 334h1v1h-1zM1029 334h2v1h-2zM1051 334h1v1h-1zM111 109h1v1h-1zM128 109h1v1h-1zM156 109h1v1h-1zM173 109h1v1h-1zM207 109h1v1h-1zM218 109h3v1h-3zM273 109h1v1h-1zM585 273h1v1h-1zM621 273h1v1h-1zM915 273h1v1h-1zM354 172h1v1h-1zM498 172h1v1h-1zM558 172h1v1h-1zM636 172h1v1h-1zM656 172h1v1h-1zM578 241h1v1h-1zM627 241h1v1h-1zM668 241h1v1h-1zM675 241h1v1h-1zM894 241h3v1h-3zM903 241h1v1h-1zM361 193h1v1h-1zM390 193h3v1h-3zM407 193h1v1h-1zM456 193h1v1h-1zM463 193h1v1h-1zM489 193h1v1h-1zM566 193h1v1h-1zM634 193h1v1h-1zM659 193h1v1h-1zM686 193h1v1h-1zM704 193h1v1h-1zM754 193h1v1h-1zM777 193h1v1h-1zM802 193h1v1h-1zM814 193h1v1h-1zM826 193h6v1h-6zM840 193h1v1h-1zM1148 479h1v1h-1zM1162 479h1v1h-1zM1185 479h1v1h-1zM1209 479h1v1h-1zM54 83h1v1h-1zM69 83h1v1h-1zM84 83h2v1h-2zM102 83h1v1h-1zM188 83h2v1h-2zM191 83h1v1h-1zM236 83h1v1h-1zM262 83h1v1h-1zM596 337h1v1h-1zM607 337h1v1h-1zM1052 337h1v1h-1zM587 288h1v1h-1zM618 288h1v1h-1zM918 288h1v1h-1zM936 288h1v1h-1zM955 288h1v1h-1zM359 185h1v1h-1zM492 185h1v1h-1zM564 185h1v1h-1zM635 185h1v1h-1zM658 185h1v1h-1zM688 185h1v1h-1zM701 185h1v1h-1zM759 185h1v1h-1zM775 185h1v1h-1zM580 249h1v1h-1zM626 249h1v1h-1zM907 249h1v1h-1zM350 163h1v1h-1zM512 163h1v1h-1zM553 163h1v1h-1zM637 163h1v1h-1zM655 163h1v1h-1zM363 197h1v1h-1zM381 197h1v1h-1zM409 197h1v1h-1zM451 197h2v1h-2zM465 197h1v1h-1zM487 197h1v1h-1zM567 197h1v1h-1zM633 197h1v1h-1zM659 197h1v1h-1zM685 197h1v1h-1zM705 197h1v1h-1zM752 197h1v1h-1zM778 197h1v1h-1zM800 197h1v1h-1zM818 197h2v1h-2zM844 197h2v1h-2zM852 197h2v1h-2zM857 197h3v1h-3zM866 197h1v1h-1zM1077 417h1v1h-1zM354 171h1v1h-1zM499 171h1v1h-1zM557 171h1v1h-1zM636 171h1v1h-1zM656 171h1v1h-1zM574 226h1v1h-1zM629 226h1v1h-1zM665 226h1v1h-1zM678 226h1v1h-1zM881 226h1v1h-1zM298 126h1v1h-1zM19 99h1v1h-1zM40 99h1v1h-1zM107 99h1v1h-1zM133 99h1v1h-1zM151 99h1v1h-1zM177 99h1v1h-1zM200 99h1v1h-1zM227 99h1v1h-1zM269 99h1v1h-1zM362 195h1v1h-1zM385 195h3v1h-3zM408 195h1v1h-1zM454 195h1v1h-1zM464 195h1v1h-1zM488 195h1v1h-1zM567 195h1v1h-1zM634 195h1v1h-1zM659 195h1v1h-1zM685 195h1v1h-1zM704 195h1v1h-1zM753 195h1v1h-1zM778 195h1v1h-1zM801 195h1v1h-1zM816 195h1v1h-1zM822 195h2v1h-2zM841 195h1v1h-1zM862 195h2v1h-2zM601 353h1v1h-1zM603 353h1v1h-1zM1058 353h1v1h-1zM347 157h1v1h-1zM518 157h1v1h-1zM548 157h1v1h-1zM638 157h1v1h-1zM654 157h1v1h-1zM299 127h2v1h-2zM1092 451h1v1h-1zM1102 451h1v1h-1zM1226 451h1v1h-1zM588 294h1v1h-1zM617 294h1v1h-1zM920 294h1v1h-1zM934 294h1v1h-1zM959 294h1v1h-1zM2 97h5v1h-5zM18 97h1v1h-1zM41 97h1v1h-1zM107 97h1v1h-1zM134 97h1v1h-1zM150 97h1v1h-1zM178 97h1v1h-1zM199 97h1v1h-1zM228 97h1v1h-1zM268 97h1v1h-1zM588 293h1v1h-1zM617 293h1v1h-1zM920 293h1v1h-1zM935 293h1v1h-1zM958 293h1v1h-1zM574 225h1v1h-1zM629 225h1v1h-1zM664 225h1v1h-1zM679 225h1v1h-1zM880 225h1v1h-1zM358 182h1v1h-1zM493 182h1v1h-1zM563 182h1v1h-1zM635 182h1v1h-1zM657 182h1v1h-1zM689 182h1v1h-1zM699 182h1v1h-1zM761 182h1v1h-1zM773 182h1v1h-1zM111 108h1v1h-1zM128 108h1v1h-1zM155 108h1v1h-1zM173 108h1v1h-1zM207 108h1v1h-1zM221 108h2v1h-2zM273 108h1v1h-1zM314 142h1v1h-1zM641 142h1v1h-1zM651 142h1v1h-1zM1093 453h1v1h-1zM1097 453h3v1h-3zM1103 453h1v1h-1zM1126 453h5v1h-5zM1222 453h2v1h-2zM1227 453h1v1h-1zM1106 457h3v1h-3zM1124 457h1v1h-1zM1134 457h1v1h-1zM1219 457h1v1h-1zM1230 457h1v1h-1zM576 235h1v1h-1zM628 235h1v1h-1zM667 235h1v1h-1zM676 235h1v1h-1zM889 235h1v1h-1zM573 220h1v1h-1zM630 220h1v1h-1zM663 220h1v1h-1zM679 220h1v1h-1zM717 220h1v1h-1zM725 220h1v1h-1zM790 220h1v1h-1zM877 220h1v1h-1zM573 222h1v1h-1zM630 222h1v1h-1zM664 222h1v1h-1zM679 222h1v1h-1zM718 222h3v1h-3zM723 222h1v1h-1zM878 222h1v1h-1zM576 234h1v1h-1zM628 234h1v1h-1zM666 234h1v1h-1zM676 234h1v1h-1zM887 234h2v1h-2zM1069 395h1v1h-1zM47 92h1v1h-1zM105 92h1v1h-1zM137 92h1v1h-1zM147 92h1v1h-1zM180 92h1v1h-1zM196 92h1v1h-1zM231 92h1v1h-1zM266 92h1v1h-1zM576 233h1v1h-1zM628 233h1v1h-1zM666 233h1v1h-1zM677 233h1v1h-1zM886 233h1v1h-1zM52 86h1v1h-1zM74 86h6v1h-6zM103 86h1v1h-1zM182 86h2v1h-2zM193 86h1v1h-1zM234 86h1v1h-1zM264 86h1v1h-1zM593 322h1v1h-1zM611 322h1v1h-1zM1008 322h1v1h-1zM53 84h1v1h-1zM70 84h2v1h-2zM82 84h2v1h-2zM102 84h1v1h-1zM186 84h2v1h-2zM191 84h1v1h-1zM235 84h1v1h-1zM263 84h1v1h-1zM365 199h1v1h-1zM379 199h1v1h-1zM410 199h1v1h-1zM448 199h2v1h-2zM467 199h1v1h-1zM487 199h1v1h-1zM568 199h1v1h-1zM633 199h1v1h-1zM660 199h1v1h-1zM684 199h1v1h-1zM706 199h1v1h-1zM751 199h1v1h-1zM779 199h1v1h-1zM799 199h1v1h-1zM867 199h1v1h-1zM586 282h1v1h-1zM619 282h1v1h-1zM917 282h1v1h-1zM357 180h1v1h-1zM494 180h1v1h-1zM562 180h1v1h-1zM635 180h1v1h-1zM657 180h1v1h-1zM690 180h1v1h-1zM699 180h1v1h-1zM762 180h1v1h-1zM772 180h1v1h-1zM1105 456h1v1h-1zM1125 456h1v1h-1zM1133 456h1v1h-1zM1220 456h1v1h-1zM1229 456h1v1h-1zM246 70h2v1h-2zM257 70h1v1h-1zM1059 358h1v1h-1zM317 145h1v1h-1zM529 145h1v1h-1zM537 145h1v1h-1zM640 145h1v1h-1zM652 145h1v1h-1zM112 111h1v1h-1zM127 111h1v1h-1zM157 111h1v1h-1zM172 111h1v1h-1zM209 111h1v1h-1zM216 111h1v1h-1zM275 111h2v1h-2zM282 111h1v1h-1zM1062 368h1v1h-1zM1142 467h1v1h-1zM1169 467h1v1h-1zM1172 467h2v1h-2zM1214 467h1v1h-1zM1239 467h1v1h-1zM350 162h1v1h-1zM513 162h1v1h-1zM552 162h1v1h-1zM637 162h1v1h-1zM655 162h1v1h-1zM56 81h1v1h-1zM62 81h3v1h-3zM67 81h1v1h-1zM87 81h2v1h-2zM101 81h1v1h-1zM237 81h1v1h-1zM262 81h1v1h-1zM1146 475h1v1h-1zM1165 475h1v1h-1zM1183 475h1v1h-1zM1211 475h1v1h-1zM1243 475h1v1h-1zM1262 475h3v1h-3zM599 350h1v1h-1zM604 350h1v1h-1zM1057 350h1v1h-1zM357 179h1v1h-1zM494 179h1v1h-1zM561 179h1v1h-1zM635 179h1v1h-1zM657 179h1v1h-1zM690 179h2v1h-2zM698 179h1v1h-1zM763 179h2v1h-2zM772 179h1v1h-1zM583 262h1v1h-1zM623 262h1v1h-1zM912 262h1v1h-1zM575 229h1v1h-1zM629 229h1v1h-1zM665 229h1v1h-1zM678 229h1v1h-1zM883 229h1v1h-1zM318 146h2v1h-2zM528 146h1v1h-1zM538 146h1v1h-1zM640 146h1v1h-1zM652 146h1v1h-1zM360 190h1v1h-1zM397 190h1v1h-1zM401 190h4v1h-4zM458 190h2v1h-2zM490 190h1v1h-1zM565 190h1v1h-1zM634 190h1v1h-1zM658 190h1v1h-1zM687 190h1v1h-1zM702 190h1v1h-1zM756 190h1v1h-1zM776 190h1v1h-1zM804 190h1v1h-1zM812 190h1v1h-1zM836 190h2v1h-2zM839 190h1v1h-1zM1145 474h1v1h-1zM1165 474h1v1h-1zM1182 474h1v1h-1zM1211 474h1v1h-1zM1242 474h1v1h-1zM1265 474h2v1h-2zM360 189h1v1h-1zM398 189h3v1h-3zM490 189h1v1h-1zM565 189h1v1h-1zM634 189h1v1h-1zM658 189h1v1h-1zM687 189h1v1h-1zM702 189h1v1h-1zM756 189h1v1h-1zM776 189h1v1h-1zM805 189h1v1h-1zM811 189h1v1h-1zM838 189h1v1h-1zM595 329h1v1h-1zM609 329h1v1h-1zM1013 329h1v1h-1zM1036 329h1v1h-1zM1041 329h1v1h-1zM1147 478h1v1h-1zM1163 478h1v1h-1zM1184 478h1v1h-1zM1210 478h1v1h-1zM1246 478h7v1h-7zM1257 478h2v1h-2zM52 85h1v1h-1zM72 85h2v1h-2zM80 85h2v1h-2zM102 85h1v1h-1zM184 85h2v1h-2zM192 85h1v1h-1zM235 85h1v1h-1zM263 85h1v1h-1zM325 149h3v1h-3zM343 149h1v1h-1zM525 149h1v1h-1zM541 149h1v1h-1zM639 149h1v1h-1zM652 149h1v1h-1zM50 88h1v1h-1zM103 88h1v1h-1zM142 88h2v1h-2zM181 88h1v1h-1zM194 88h1v1h-1zM233 88h1v1h-1zM265 88h1v1h-1zM112 110h1v1h-1zM127 110h1v1h-1zM156 110h1v1h-1zM172 110h1v1h-1zM208 110h1v1h-1zM217 110h1v1h-1zM274 110h1v1h-1zM346 154h1v1h-1zM520 154h1v1h-1zM547 154h1v1h-1zM638 154h1v1h-1zM653 154h1v1h-1zM1072 403h1v1h-1zM346 155h1v1h-1zM520 155h1v1h-1zM547 155h1v1h-1zM638 155h1v1h-1zM654 155h1v1h-1zM46 93h1v1h-1zM105 93h1v1h-1zM137 93h1v1h-1zM148 93h1v1h-1zM179 93h1v1h-1zM197 93h1v1h-1zM230 93h1v1h-1zM267 93h1v1h-1zM589 300h1v1h-1zM615 300h1v1h-1zM925 300h1v1h-1zM928 300h2v1h-2zM966 300h1v1h-1zM976 300h1v1h-1zM986 300h2v1h-2zM579 246h1v1h-1zM626 246h1v1h-1zM670 246h1v1h-1zM906 246h1v1h-1zM115 117h1v1h-1zM123 117h1v1h-1zM160 117h1v1h-1zM168 117h1v1h-1zM291 117h2v1h-2zM345 152h1v1h-1zM522 152h1v1h-1zM545 152h1v1h-1zM638 152h1v1h-1zM653 152h1v1h-1zM585 276h1v1h-1zM620 276h1v1h-1zM916 276h1v1h-1zM1076 414h1v1h-1zM589 297h1v1h-1zM616 297h1v1h-1zM922 297h1v1h-1zM932 297h1v1h-1zM962 297h1v1h-1zM978 297h5v1h-5zM598 344h1v1h-1zM605 344h1v1h-1zM1055 344h1v1h-1zM297 124h1v1h-1zM594 325h1v1h-1zM610 325h1v1h-1zM1010 325h1v1h-1zM1082 430h1v1h-1zM1065 377h1v1h-1zM572 217h1v1h-1zM631 217h1v1h-1zM663 217h1v1h-1zM680 217h1v1h-1zM716 217h1v1h-1zM735 217h1v1h-1zM786 217h1v1h-1zM792 217h1v1h-1zM875 217h1v1h-1zM349 160h1v1h-1zM515 160h1v1h-1zM550 160h1v1h-1zM637 160h1v1h-1zM654 160h1v1h-1zM312 139h1v1h-1zM642 139h1v1h-1zM651 139h1v1h-1zM594 327h1v1h-1zM610 327h1v1h-1zM1012 327h1v1h-1zM1038 327h1v1h-1zM351 164h1v1h-1zM511 164h1v1h-1zM554 164h1v1h-1zM637 164h1v1h-1zM655 164h1v1h-1zM579 244h1v1h-1zM627 244h1v1h-1zM669 244h1v1h-1zM673 244h1v1h-1zM905 244h1v1h-1zM22 104h3v1h-3zM38 104h1v1h-1zM109 104h1v1h-1zM130 104h1v1h-1zM153 104h1v1h-1zM175 104h1v1h-1zM203 104h1v1h-1zM225 104h1v1h-1zM271 104h1v1h-1zM579 245h1v1h-1zM627 245h1v1h-1zM670 245h3v1h-3zM906 245h1v1h-1zM356 178h1v1h-1zM495 178h1v1h-1zM561 178h1v1h-1zM636 178h1v1h-1zM657 178h1v1h-1zM692 178h2v1h-2zM697 178h2v1h-2zM765 178h1v1h-1zM771 178h1v1h-1zM1089 446h1v1h-1zM585 275h1v1h-1zM621 275h1v1h-1zM915 275h1v1h-1zM309 136h1v1h-1zM643 136h1v1h-1zM650 136h1v1h-1zM577 236h1v1h-1zM628 236h1v1h-1zM667 236h1v1h-1zM676 236h1v1h-1zM890 236h1v1h-1zM370 203h1v1h-1zM412 203h1v1h-1zM439 203h2v1h-2zM469 203h1v1h-1zM485 203h1v1h-1zM569 203h1v1h-1zM633 203h1v1h-1zM660 203h1v1h-1zM683 203h1v1h-1zM708 203h1v1h-1zM748 203h1v1h-1zM780 203h1v1h-1zM797 203h1v1h-1zM869 203h1v1h-1zM93 77h1v1h-1zM99 77h1v1h-1zM240 77h1v1h-1zM260 77h1v1h-1zM356 176h1v1h-1zM496 176h1v1h-1zM560 176h1v1h-1zM636 176h1v1h-1zM657 176h1v1h-1zM768 176h3v1h-3zM584 271h1v1h-1zM621 271h1v1h-1zM915 271h1v1h-1zM348 159h1v1h-1zM516 159h1v1h-1zM549 159h1v1h-1zM637 159h1v1h-1zM654 159h1v1h-1zM10 94h6v1h-6zM44 94h2v1h-2zM106 94h1v1h-1zM136 94h1v1h-1zM148 94h1v1h-1zM179 94h1v1h-1zM197 94h1v1h-1zM230 94h1v1h-1zM267 94h1v1h-1zM589 296h1v1h-1zM616 296h1v1h-1zM921 296h1v1h-1zM933 296h1v1h-1zM961 296h1v1h-1zM302 129h2v1h-2zM572 218h1v1h-1zM630 218h1v1h-1zM663 218h1v1h-1zM680 218h1v1h-1zM716 218h1v1h-1zM735 218h1v1h-1zM786 218h2v1h-2zM791 218h1v1h-1zM876 218h1v1h-1zM304 130h2v1h-2zM646 130h1v1h-1zM587 289h1v1h-1zM618 289h1v1h-1zM918 289h1v1h-1zM936 289h1v1h-1zM956 289h1v1h-1zM112 112h1v1h-1zM126 112h1v1h-1zM157 112h1v1h-1zM171 112h1v1h-1zM209 112h1v1h-1zM215 112h1v1h-1zM277 112h1v1h-1zM280 112h2v1h-2zM283 112h2v1h-2zM415 208h1v1h-1zM432 208h1v1h-1zM472 208h1v1h-1zM483 208h1v1h-1zM570 208h1v1h-1zM632 208h1v1h-1zM661 208h1v1h-1zM682 208h1v1h-1zM710 208h1v1h-1zM742 208h3v1h-3zM782 208h1v1h-1zM796 208h1v1h-1zM872 208h1v1h-1zM598 347h1v1h-1zM605 347h1v1h-1zM1056 347h1v1h-1zM591 308h1v1h-1zM613 308h1v1h-1zM997 308h1v1h-1zM21 102h1v1h-1zM39 102h1v1h-1zM109 102h1v1h-1zM131 102h1v1h-1zM152 102h1v1h-1zM176 102h1v1h-1zM201 102h1v1h-1zM226 102h1v1h-1zM270 102h1v1h-1zM584 268h1v1h-1zM622 268h1v1h-1zM914 268h1v1h-1zM352 166h1v1h-1zM508 166h2v1h-2zM555 166h1v1h-1zM637 166h1v1h-1zM655 166h1v1h-1zM352 167h1v1h-1zM505 167h3v1h-3zM555 167h1v1h-1zM637 167h1v1h-1zM655 167h1v1h-1zM578 239h1v1h-1zM627 239h1v1h-1zM668 239h1v1h-1zM675 239h1v1h-1zM892 239h1v1h-1zM352 168h1v1h-1zM502 168h3v1h-3zM556 168h1v1h-1zM637 168h1v1h-1zM655 168h1v1h-1zM590 305h1v1h-1zM614 305h1v1h-1zM995 305h1v1h-1zM577 237h1v1h-1zM628 237h1v1h-1zM667 237h1v1h-1zM676 237h1v1h-1zM891 237h1v1h-1zM55 82h1v1h-1zM68 82h1v1h-1zM86 82h1v1h-1zM101 82h1v1h-1zM190 82h1v1h-1zM237 82h1v1h-1zM262 82h1v1h-1zM422 214h3v1h-3zM477 214h1v1h-1zM479 214h1v1h-1zM571 214h1v1h-1zM631 214h1v1h-1zM662 214h1v1h-1zM681 214h1v1h-1zM715 214h1v1h-1zM737 214h1v1h-1zM784 214h1v1h-1zM793 214h1v1h-1zM874 214h1v1h-1zM1071 400h1v1h-1zM594 326h1v1h-1zM610 326h1v1h-1zM1011 326h1v1h-1zM1144 470h1v1h-1zM1168 470h1v1h-1zM1180 470h1v1h-1zM1213 470h1v1h-1zM1240 470h1v1h-1zM1077 416h1v1h-1zM585 274h1v1h-1zM621 274h1v1h-1zM915 274h1v1h-1zM1074 410h1v1h-1zM116 120h1v1h-1zM121 120h1v1h-1zM161 120h1v1h-1zM165 120h2v1h-2zM295 120h1v1h-1zM1081 427h1v1h-1zM1064 374h1v1h-1zM1194 493h3v1h-3zM1200 493h2v1h-2zM1066 383h1v1h-1zM353 169h1v1h-1zM501 169h1v1h-1zM556 169h1v1h-1zM636 169h1v1h-1zM656 169h1v1h-1zM589 299h1v1h-1zM616 299h1v1h-1zM923 299h2v1h-2zM930 299h1v1h-1zM965 299h1v1h-1zM977 299h1v1h-1zM985 299h1v1h-1zM1197 494h3v1h-3zM573 221h1v1h-1zM630 221h1v1h-1zM663 221h1v1h-1zM679 221h1v1h-1zM718 221h1v1h-1zM724 221h1v1h-1zM877 221h1v1h-1zM584 267h1v1h-1zM622 267h1v1h-1zM914 267h1v1h-1zM1067 384h1v1h-1zM1145 473h1v1h-1zM1166 473h1v1h-1zM1182 473h1v1h-1zM1212 473h1v1h-1zM1242 473h1v1h-1zM593 321h1v1h-1zM611 321h1v1h-1zM1008 321h1v1h-1zM1088 443h1v1h-1zM596 336h1v1h-1zM608 336h1v1h-1zM1052 336h1v1h-1zM358 181h1v1h-1zM493 181h1v1h-1zM562 181h1v1h-1zM635 181h1v1h-1zM657 181h1v1h-1zM689 181h1v1h-1zM699 181h1v1h-1zM761 181h1v1h-1zM773 181h1v1h-1zM602 357h1v1h-1zM1059 357h1v1h-1zM591 307h1v1h-1zM613 307h1v1h-1zM996 307h1v1h-1zM316 144h1v1h-1zM530 144h3v1h-3zM535 144h2v1h-2zM640 144h1v1h-1zM652 144h1v1h-1zM1115 459h1v1h-1zM1124 459h1v1h-1zM1136 459h1v1h-1zM1218 459h1v1h-1zM1233 459h1v1h-1zM360 187h1v1h-1zM491 187h1v1h-1zM564 187h1v1h-1zM635 187h1v1h-1zM658 187h1v1h-1zM688 187h1v1h-1zM701 187h1v1h-1zM757 187h1v1h-1zM775 187h1v1h-1zM806 187h5v1h-5zM599 349h1v1h-1zM604 349h1v1h-1zM1056 349h1v1h-1zM593 323h1v1h-1zM611 323h1v1h-1zM1009 323h1v1h-1zM583 261h1v1h-1zM623 261h1v1h-1zM912 261h1v1h-1zM574 228h1v1h-1zM629 228h1v1h-1zM665 228h1v1h-1zM678 228h1v1h-1zM883 228h1v1h-1zM587 286h1v1h-1zM619 286h1v1h-1zM917 286h1v1h-1zM937 286h1v1h-1zM953 286h2v1h-2zM1142 466h1v1h-1zM1170 466h2v1h-2zM1214 466h1v1h-1zM1238 466h1v1h-1zM601 355h1v1h-1zM603 355h1v1h-1zM1058 355h1v1h-1zM1192 490h1v1h-1zM1203 490h1v1h-1zM575 230h1v1h-1zM629 230h1v1h-1zM665 230h1v1h-1zM677 230h1v1h-1zM884 230h1v1h-1zM573 224h1v1h-1zM630 224h1v1h-1zM664 224h1v1h-1zM679 224h1v1h-1zM880 224h1v1h-1zM1072 402h1v1h-1zM1150 483h2v1h-2zM1188 483h1v1h-1zM1207 483h1v1h-1zM57 79h1v1h-1zM59 79h2v1h-2zM90 79h1v1h-1zM100 79h1v1h-1zM239 79h1v1h-1zM261 79h1v1h-1zM585 277h1v1h-1zM620 277h1v1h-1zM916 277h1v1h-1zM588 290h1v1h-1zM618 290h1v1h-1zM918 290h1v1h-1zM936 290h1v1h-1zM956 290h1v1h-1zM1076 413h1v1h-1zM592 314h1v1h-1zM612 314h1v1h-1zM1002 314h1v1h-1zM1065 376h1v1h-1zM595 330h1v1h-1zM609 330h1v1h-1zM1014 330h1v1h-1zM1035 330h1v1h-1zM1042 330h2v1h-2zM115 118h1v1h-1zM123 118h1v1h-1zM160 118h1v1h-1zM168 118h1v1h-1zM293 118h1v1h-1zM344 151h1v1h-1zM523 151h1v1h-1zM543 151h2v1h-2zM639 151h1v1h-1zM653 151h1v1h-1zM356 177h1v1h-1zM495 177h1v1h-1zM560 177h1v1h-1zM636 177h1v1h-1zM657 177h1v1h-1zM694 177h3v1h-3zM766 177h2v1h-2zM771 177h1v1h-1zM592 313h1v1h-1zM612 313h1v1h-1zM1001 313h1v1h-1zM309 135h1v1h-1zM643 135h1v1h-1zM649 135h1v1h-1zM20 101h1v1h-1zM40 101h1v1h-1zM108 101h1v1h-1zM132 101h1v1h-1zM152 101h1v1h-1zM176 101h1v1h-1zM201 101h1v1h-1zM226 101h1v1h-1zM270 101h1v1h-1zM254 66h1v1h-1zM595 333h1v1h-1zM608 333h1v1h-1zM1016 333h1v1h-1zM1031 333h2v1h-2zM1050 333h1v1h-1zM598 346h1v1h-1zM605 346h1v1h-1zM1056 346h1v1h-1zM1068 389h1v1h-1zM588 292h1v1h-1zM618 292h1v1h-1zM919 292h1v1h-1zM935 292h1v1h-1zM957 292h1v1h-1zM310 137h1v1h-1zM642 137h1v1h-1zM650 137h1v1h-1zM590 304h1v1h-1zM614 304h1v1h-1zM994 304h1v1h-1zM1071 399h1v1h-1zM577 238h1v1h-1zM628 238h1v1h-1zM668 238h1v1h-1zM675 238h1v1h-1zM892 238h1v1h-1zM573 223h1v1h-1zM630 223h1v1h-1zM664 223h1v1h-1zM679 223h1v1h-1zM721 223h2v1h-2zM879 223h1v1h-1zM1061 363h1v1h-1zM322 148h3v1h-3zM328 148h2v1h-2zM333 148h4v1h-4zM343 148h1v1h-1zM526 148h1v1h-1zM540 148h1v1h-1zM639 148h1v1h-1zM652 148h1v1h-1zM353 170h1v1h-1zM500 170h1v1h-1zM557 170h1v1h-1zM636 170h1v1h-1zM656 170h1v1h-1zM1064 373h1v1h-1zM116 119h1v1h-1zM122 119h1v1h-1zM161 119h1v1h-1zM167 119h1v1h-1zM294 119h1v1h-1zM114 115h1v1h-1zM125 115h1v1h-1zM159 115h1v1h-1zM170 115h1v1h-1zM288 115h2v1h-2zM1144 472h1v1h-1zM1167 472h1v1h-1zM1181 472h1v1h-1zM1212 472h1v1h-1zM1241 472h1v1h-1zM359 184h1v1h-1zM492 184h1v1h-1zM563 184h1v1h-1zM635 184h1v1h-1zM658 184h1v1h-1zM688 184h1v1h-1zM700 184h1v1h-1zM759 184h1v1h-1zM774 184h1v1h-1zM1088 442h1v1h-1zM591 310h1v1h-1zM613 310h1v1h-1zM999 310h1v1h-1zM1093 452h1v1h-1zM1100 452h2v1h-2zM1103 452h1v1h-1zM1224 452h2v1h-2zM1227 452h1v1h-1zM1148 480h1v1h-1zM1161 480h1v1h-1zM1185 480h1v1h-1zM1209 480h1v1h-1zM250 68h2v1h-2zM256 68h1v1h-1zM594 328h1v1h-1zM610 328h1v1h-1zM1012 328h1v1h-1zM1037 328h1v1h-1zM1039 328h2v1h-2zM578 242h1v1h-1zM627 242h1v1h-1zM669 242h1v1h-1zM674 242h1v1h-1zM904 242h1v1h-1zM580 250h1v1h-1zM626 250h1v1h-1zM908 250h1v1h-1zM597 339h1v1h-1zM607 339h1v1h-1zM1053 339h1v1h-1zM581 251h1v1h-1zM626 251h1v1h-1zM908 251h1v1h-1zM117 121h1v1h-1zM120 121h1v1h-1zM162 121h3v1h-3zM295 121h1v1h-1zM306 131h1v1h-1zM645 131h1v1h-1zM647 131h1v1h-1zM601 354h1v1h-1zM603 354h1v1h-1zM1058 354h1v1h-1zM1084 434h1v1h-1zM315 143h1v1h-1zM533 143h2v1h-2zM641 143h1v1h-1zM651 143h1v1h-1zM580 248h1v1h-1zM626 248h1v1h-1zM907 248h1v1h-1zM1067 386h1v1h-1zM1091 450h1v1h-1zM1147 477h1v1h-1zM1163 477h1v1h-1zM1184 477h1v1h-1zM1210 477h1v1h-1zM1245 477h1v1h-1zM1253 477h4v1h-4zM1259 477h2v1h-2zM368 202h2v1h-2zM371 202h2v1h-2zM411 202h1v1h-1zM441 202h1v1h-1zM469 202h1v1h-1zM486 202h1v1h-1zM569 202h1v1h-1zM633 202h1v1h-1zM660 202h1v1h-1zM683 202h1v1h-1zM707 202h1v1h-1zM749 202h1v1h-1zM780 202h1v1h-1zM797 202h1v1h-1zM869 202h1v1h-1zM1060 360h1v1h-1zM1192 489h1v1h-1zM1204 489h1v1h-1zM583 263h1v1h-1zM623 263h1v1h-1zM913 263h1v1h-1zM600 352h1v1h-1zM603 352h1v1h-1zM1057 352h1v1h-1zM245 71h1v1h-1zM258 71h1v1h-1zM1072 404h1v1h-1zM1105 455h1v1h-1zM1125 455h1v1h-1zM1132 455h1v1h-1zM1221 455h1v1h-1zM1229 455h1v1h-1zM347 156h1v1h-1zM519 156h1v1h-1zM548 156h1v1h-1zM638 156h1v1h-1zM654 156h1v1h-1zM1073 405h1v1h-1zM586 279h1v1h-1zM620 279h1v1h-1zM916 279h1v1h-1zM588 291h1v1h-1zM618 291h1v1h-1zM919 291h1v1h-1zM935 291h1v1h-1zM957 291h1v1h-1zM1076 415h1v1h-1zM592 316h1v1h-1zM612 316h1v1h-1zM1004 316h1v1h-1zM1065 378h1v1h-1zM312 140h1v1h-1zM641 140h1v1h-1zM651 140h1v1h-1zM1083 431h1v1h-1zM1068 388h1v1h-1zM592 315h1v1h-1zM612 315h1v1h-1zM1003 315h1v1h-1zM1090 448h1v1h-1zM349 161h1v1h-1zM514 161h1v1h-1zM551 161h1v1h-1zM637 161h1v1h-1zM655 161h1v1h-1zM593 318h1v1h-1zM612 318h1v1h-1zM1006 318h1v1h-1zM582 255h1v1h-1zM625 255h1v1h-1zM910 255h1v1h-1zM582 257h1v1h-1zM624 257h1v1h-1zM910 257h1v1h-1zM584 269h1v1h-1zM622 269h1v1h-1zM914 269h1v1h-1zM1068 391h1v1h-1zM1071 401h1v1h-1zM1078 418h1v1h-1zM1061 365h1v1h-1zM344 150h1v1h-1zM524 150h1v1h-1zM542 150h1v1h-1zM639 150h1v1h-1zM653 150h1v1h-1zM1064 375h1v1h-1zM1084 433h1v1h-1zM580 247h1v1h-1zM626 247h1v1h-1zM907 247h1v1h-1zM596 338h1v1h-1zM607 338h1v1h-1zM1053 338h1v1h-1zM1067 385h1v1h-1zM1088 444h1v1h-1zM1091 449h1v1h-1zM599 348h1v1h-1zM604 348h1v1h-1zM1056 348h1v1h-1zM355 175h1v1h-1zM496 175h1v1h-1zM559 175h1v1h-1zM636 175h1v1h-1zM656 175h1v1h-1zM770 175h1v1h-1zM313 141h1v1h-1zM641 141h1v1h-1zM651 141h1v1h-1zM1060 359h1v1h-1zM1117 462h1v1h-1zM1122 462h1v1h-1zM1139 462h1v1h-1zM1216 462h1v1h-1zM1236 462h1v1h-1zM243 72h2v1h-2zM258 72h1v1h-1zM597 341h1v1h-1zM606 341h1v1h-1zM1054 341h1v1h-1zM581 253h1v1h-1zM625 253h1v1h-1zM909 253h1v1h-1zM1188 484h1v1h-1zM1207 484h1v1h-1zM585 278h1v1h-1zM620 278h1v1h-1zM916 278h1v1h-1zM1141 465h1v1h-1zM1215 465h1v1h-1zM1238 465h1v1h-1zM591 311h1v1h-1zM613 311h1v1h-1zM1000 311h1v1h-1zM1060 362h1v1h-1zM583 265h1v1h-1zM622 265h1v1h-1zM913 265h1v1h-1zM1090 447h1v1h-1zM348 158h1v1h-1zM517 158h1v1h-1zM549 158h1v1h-1zM638 158h1v1h-1zM654 158h1v1h-1zM586 281h1v1h-1zM620 281h1v1h-1zM917 281h1v1h-1zM1146 476h1v1h-1zM1164 476h1v1h-1zM1183 476h1v1h-1zM1210 476h1v1h-1zM1244 476h1v1h-1zM1261 476h1v1h-1zM1079 422h1v1h-1zM582 256h1v1h-1zM624 256h1v1h-1zM910 256h1v1h-1zM307 132h1v1h-1zM645 132h1v1h-1zM647 132h1v1h-1zM1068 390h1v1h-1zM311 138h1v1h-1zM642 138h1v1h-1zM650 138h1v1h-1zM592 317h1v1h-1zM612 317h1v1h-1zM1005 317h1v1h-1zM583 264h1v1h-1zM622 264h1v1h-1zM913 264h1v1h-1zM1061 364h1v1h-1zM1115 460h1v1h-1zM1123 460h1v1h-1zM1137 460h1v1h-1zM1217 460h1v1h-1zM1234 460h1v1h-1zM242 73h1v1h-1zM259 73h1v1h-1zM114 116h1v1h-1zM124 116h1v1h-1zM159 116h1v1h-1zM169 116h1v1h-1zM290 116h1v1h-1zM582 259h1v1h-1zM624 259h1v1h-1zM911 259h1v1h-1zM248 69h2v1h-2zM256 69h1v1h-1zM579 243h1v1h-1zM627 243h1v1h-1zM669 243h1v1h-1zM674 243h1v1h-1zM904 243h1v1h-1zM597 340h1v1h-1zM607 340h1v1h-1zM1054 340h1v1h-1zM581 252h1v1h-1zM625 252h1v1h-1zM909 252h1v1h-1zM1078 420h1v1h-1zM1085 436h1v1h-1zM584 270h1v1h-1zM621 270h1v1h-1zM915 270h1v1h-1zM1067 387h1v1h-1zM51 87h1v1h-1zM103 87h1v1h-1zM182 87h1v1h-1zM193 87h1v1h-1zM233 87h1v1h-1zM264 87h1v1h-1zM1060 361h1v1h-1zM597 343h1v1h-1zM606 343h1v1h-1zM1055 343h1v1h-1zM110 107h1v1h-1zM129 107h1v1h-1zM155 107h1v1h-1zM174 107h1v1h-1zM206 107h1v1h-1zM223 107h1v1h-1zM272 107h1v1h-1zM1073 406h1v1h-1zM586 280h1v1h-1zM620 280h1v1h-1zM916 280h1v1h-1zM1079 421h1v1h-1zM1065 379h1v1h-1zM1083 432h1v1h-1zM593 319h1v1h-1zM611 319h1v1h-1zM1007 319h1v1h-1zM582 258h1v1h-1zM624 258h1v1h-1zM911 258h1v1h-1zM602 356h1v1h-1zM1059 356h1v1h-1zM117 122h1v1h-1zM119 122h1v1h-1zM296 122h1v1h-1zM576 232h1v1h-1zM628 232h1v1h-1zM666 232h1v1h-1zM677 232h1v1h-1zM885 232h1v1h-1zM1069 393h1v1h-1zM1078 419h1v1h-1zM241 74h1v1h-1zM259 74h1v1h-1zM1085 435h1v1h-1zM582 260h1v1h-1zM623 260h1v1h-1zM911 260h1v1h-1zM597 342h1v1h-1zM606 342h1v1h-1zM1054 342h1v1h-1zM581 254h1v1h-1zM625 254h1v1h-1zM909 254h1v1h-1zM592 312h1v1h-1zM613 312h1v1h-1zM1000 312h1v1h-1zM1189 485h1v1h-1zM1206 485h1v1h-1zM1080 424h1v1h-1zM1066 381h1v1h-1zM1069 392h1v1h-1zM1087 440h1v1h-1zM1116 461h1v1h-1zM1123 461h1v1h-1zM1138 461h1v1h-1zM1217 461h1v1h-1zM1235 461h1v1h-1zM118 123h1v1h-1zM296 123h1v1h-1zM1191 487h1v1h-1zM1205 487h1v1h-1zM1193 492h1v1h-1zM1202 492h1v1h-1zM1086 438h1v1h-1zM1070 396h1v1h-1zM1073 407h1v1h-1zM1080 423h1v1h-1zM1063 370h1v1h-1zM1066 380h1v1h-1zM593 320h1v1h-1zM611 320h1v1h-1zM1007 320h1v1h-1zM1069 394h1v1h-1zM1062 367h1v1h-1zM1086 437h1v1h-1zM1075 412h1v1h-1zM1082 429h1v1h-1zM1089 445h1v1h-1zM1063 369h1v1h-1zM1070 398h1v1h-1zM1074 409h1v1h-1zM1080 425h1v1h-1zM1063 372h1v1h-1zM1081 426h1v1h-1zM1066 382h1v1h-1zM1087 441h1v1h-1zM1062 366h1v1h-1zM1075 411h1v1h-1zM1082 428h1v1h-1zM301 128h1v1h-1zM1086 439h1v1h-1z" fill="#ffa500"/>
<path d="M14 572h1v1h-1zM29 572h1v1h-1zM32 572h2v1h-2zM39 572h1v1h-1zM45 572h1v1h-1zM47 572h1v1h-1zM60 572h2v1h-2zM77 572h3v1h-3zM98 572h1v1h-1zM133 572h3v1h-3zM140 572h1v1h-1zM173 572h1v1h-1zM185 572h1v1h-1zM225 572h1v1h-1zM256 572h1v1h-1zM457 572h2v1h-2zM484 572h2v1h-2zM537 572h1v1h-1zM622 572h1v1h-1zM651 572h1v1h-1zM679 572h2v1h-2zM691 572h1v1h-1zM749 572h3v1h-3zM770 572h1v1h-1zM794 572h3v1h-3zM799 572h1v1h-1zM1220 572h2v1h-2zM1223 572h1v1h-1zM100 579h1v1h-1zM121 579h1v1h-1zM145 579h1v1h-1zM164 579h1v1h-1zM192 579h1v1h-1zM215 579h1v1h-1zM258 579h1v1h-1zM442 579h6v1h-6zM451 579h1v1h-1zM461 579h1v1h-1zM477 579h1v1h-1zM555 579h1v1h-1zM614 579h1v1h-1zM620 579h1v1h-1zM654 579h1v1h-1zM668 579h2v1h-2zM702 579h3v1h-3zM709 579h3v1h-3zM715 579h1v1h-1zM722 579h1v1h-1zM774 579h1v1h-1zM787 579h1v1h-1zM814 579h1v1h-1zM840 579h1v1h-1zM844 579h1v1h-1zM860 579h1v1h-1zM865 579h1v1h-1zM867 579h1v1h-1zM1034 579h2v1h-2zM1202 579h3v1h-3zM1228 579h1v1h-1zM1237 579h2v1h-2zM1253 579h1v1h-1zM1257 579h4v1h-4zM100 580h1v1h-1zM119 580h2v1h-2zM146 580h1v1h-1zM164 580h1v1h-1zM193 580h1v1h-1zM205 580h2v1h-2zM215 580h1v1h-1zM258 580h1v1h-1zM274 580h2v1h-2zM441 580h1v1h-1zM448 580h3v1h-3zM461 580h1v1h-1zM476 580h1v1h-1zM555 580h1v1h-1zM612 580h2v1h-2zM615 580h1v1h-1zM620 580h1v1h-1zM655 580h1v1h-1zM666 580h2v1h-2zM705 580h4v1h-4zM716 580h1v1h-1zM721 580h1v1h-1zM774 580h1v1h-1zM787 580h1v1h-1zM841 580h1v1h-1zM844 580h1v1h-1zM861 580h1v1h-1zM863 580h2v1h-2zM868 580h1v1h-1zM978 580h1v1h-1zM1034 580h1v1h-1zM1036 580h2v1h-2zM1162 580h3v1h-3zM1201 580h1v1h-1zM1229 580h1v1h-1zM1234 580h3v1h-3zM1239 580h2v1h-2zM1246 580h3v1h-3zM1251 580h2v1h-2zM109 589h2v1h-2zM297 589h1v1h-1zM299 589h2v1h-2zM308 589h1v1h-1zM313 589h1v1h-1zM315 589h1v1h-1zM320 589h1v1h-1zM345 589h1v1h-1zM373 589h1v1h-1zM375 589h1v1h-1zM380 589h1v1h-1zM406 589h1v1h-1zM416 589h1v1h-1zM470 589h1v1h-1zM560 589h2v1h-2zM604 589h1v1h-1zM893 589h2v1h-2zM907 589h1v1h-1zM921 589h1v1h-1zM958 589h1v1h-1zM1001 589h1v1h-1zM1014 589h3v1h-3zM1019 589h1v1h-1zM1030 589h1v1h-1zM1053 589h1v1h-1zM1112 589h1v1h-1zM1130 589h3v1h-3zM1141 589h2v1h-2zM1152 589h1v1h-1zM1186 589h2v1h-2zM1192 589h1v1h-1zM1195 589h1v1h-1zM15 573h1v1h-1zM27 573h2v1h-2zM34 573h2v1h-2zM39 573h1v1h-1zM46 573h1v1h-1zM62 573h7v1h-7zM73 573h4v1h-4zM98 573h1v1h-1zM130 573h3v1h-3zM140 573h1v1h-1zM171 573h2v1h-2zM186 573h3v1h-3zM224 573h1v1h-1zM256 573h1v1h-1zM454 573h3v1h-3zM458 573h1v1h-1zM482 573h2v1h-2zM538 573h1v1h-1zM622 573h1v1h-1zM651 573h1v1h-1zM678 573h1v1h-1zM692 573h1v1h-1zM746 573h3v1h-3zM771 573h1v1h-1zM792 573h2v1h-2zM799 573h1v1h-1zM1210 573h1v1h-1zM1218 573h2v1h-2zM1224 573h1v1h-1zM349 593h1v1h-1zM367 593h2v1h-2zM410 593h3v1h-3zM414 593h1v1h-1zM566 593h1v1h-1zM603 593h1v1h-1zM910 593h1v1h-1zM920 593h1v1h-1zM1010 593h1v1h-1zM1056 593h1v1h-1zM1097 593h1v1h-1zM1102 593h1v1h-1zM1109 593h1v1h-1zM1148 593h3v1h-3zM22 578h1v1h-1zM100 578h1v1h-1zM122 578h2v1h-2zM144 578h1v1h-1zM165 578h1v1h-1zM192 578h1v1h-1zM216 578h1v1h-1zM258 578h1v1h-1zM451 578h1v1h-1zM460 578h1v1h-1zM478 578h1v1h-1zM555 578h1v1h-1zM620 578h1v1h-1zM654 578h1v1h-1zM670 578h2v1h-2zM701 578h1v1h-1zM712 578h2v1h-2zM715 578h1v1h-1zM723 578h1v1h-1zM730 578h3v1h-3zM773 578h1v1h-1zM788 578h1v1h-1zM813 578h1v1h-1zM815 578h2v1h-2zM840 578h1v1h-1zM845 578h1v1h-1zM860 578h1v1h-1zM866 578h1v1h-1zM1205 578h2v1h-2zM1227 578h1v1h-1zM1254 578h3v1h-3zM1261 578h6v1h-6zM12 571h2v1h-2zM30 571h2v1h-2zM40 571h1v1h-1zM45 571h1v1h-1zM48 571h1v1h-1zM58 571h2v1h-2zM80 571h2v1h-2zM97 571h1v1h-1zM136 571h2v1h-2zM139 571h1v1h-1zM174 571h1v1h-1zM185 571h1v1h-1zM225 571h1v1h-1zM256 571h1v1h-1zM486 571h2v1h-2zM537 571h1v1h-1zM623 571h1v1h-1zM650 571h1v1h-1zM681 571h1v1h-1zM685 571h6v1h-6zM752 571h2v1h-2zM765 571h6v1h-6zM797 571h2v1h-2zM1222 571h1v1h-1zM637 561h2v1h-2zM101 584h1v1h-1zM116 584h1v1h-1zM149 584h1v1h-1zM162 584h1v1h-1zM210 584h1v1h-1zM260 584h1v1h-1zM266 584h3v1h-3zM271 584h1v1h-1zM282 584h1v1h-1zM324 584h2v1h-2zM329 584h2v1h-2zM342 584h1v1h-1zM389 584h1v1h-1zM398 584h2v1h-2zM424 584h1v1h-1zM429 584h1v1h-1zM431 584h1v1h-1zM463 584h1v1h-1zM473 584h1v1h-1zM557 584h1v1h-1zM605 584h1v1h-1zM617 584h2v1h-2zM660 584h2v1h-2zM663 584h1v1h-1zM776 584h1v1h-1zM783 584h1v1h-1zM871 584h2v1h-2zM886 584h2v1h-2zM897 584h1v1h-1zM904 584h1v1h-1zM922 584h1v1h-1zM930 584h3v1h-3zM936 584h2v1h-2zM951 584h2v1h-2zM964 584h2v1h-2zM969 584h6v1h-6zM982 584h3v1h-3zM1032 584h1v1h-1zM1040 584h1v1h-1zM1125 584h2v1h-2zM1154 584h1v1h-1zM1156 584h2v1h-2zM1159 584h1v1h-1zM1174 584h7v1h-7zM1197 584h1v1h-1zM17 575h1v1h-1zM25 575h1v1h-1zM38 575h1v1h-1zM99 575h1v1h-1zM127 575h2v1h-2zM142 575h1v1h-1zM166 575h3v1h-3zM190 575h1v1h-1zM218 575h2v1h-2zM223 575h1v1h-1zM257 575h1v1h-1zM453 575h1v1h-1zM459 575h1v1h-1zM480 575h1v1h-1zM541 575h7v1h-7zM621 575h1v1h-1zM652 575h1v1h-1zM675 575h2v1h-2zM694 575h5v1h-5zM726 575h1v1h-1zM742 575h2v1h-2zM772 575h1v1h-1zM789 575h1v1h-1zM801 575h1v1h-1zM808 575h2v1h-2zM811 575h1v1h-1zM820 575h2v1h-2zM829 575h3v1h-3zM837 575h2v1h-2zM849 575h8v1h-8zM1208 575h1v1h-1zM1213 575h1v1h-1zM1215 575h2v1h-2zM1225 575h1v1h-1zM309 591h1v1h-1zM311 591h1v1h-1zM317 591h1v1h-1zM319 591h1v1h-1zM346 591h1v1h-1zM370 591h1v1h-1zM377 591h1v1h-1zM379 591h1v1h-1zM408 591h1v1h-1zM415 591h1v1h-1zM563 591h2v1h-2zM604 591h1v1h-1zM909 591h1v1h-1zM920 591h1v1h-1zM1007 591h2v1h-2zM1012 591h1v1h-1zM1054 591h1v1h-1zM1098 591h3v1h-3zM1111 591h1v1h-1zM1145 591h1v1h-1zM1151 591h1v1h-1zM1194 591h1v1h-1zM102 586h1v1h-1zM114 586h1v1h-1zM150 586h3v1h-3zM157 586h4v1h-4zM261 586h1v1h-1zM264 586h1v1h-1zM285 586h1v1h-1zM289 586h4v1h-4zM295 586h1v1h-1zM321 586h1v1h-1zM333 586h1v1h-1zM340 586h1v1h-1zM343 586h1v1h-1zM382 586h2v1h-2zM388 586h1v1h-1zM402 586h1v1h-1zM418 586h5v1h-5zM465 586h1v1h-1zM472 586h1v1h-1zM557 586h1v1h-1zM605 586h1v1h-1zM777 586h1v1h-1zM780 586h2v1h-2zM874 586h3v1h-3zM881 586h3v1h-3zM890 586h1v1h-1zM896 586h1v1h-1zM905 586h1v1h-1zM921 586h1v1h-1zM954 586h1v1h-1zM961 586h1v1h-1zM997 586h2v1h-2zM1021 586h1v1h-1zM1025 586h2v1h-2zM1031 586h1v1h-1zM1042 586h3v1h-3zM1048 586h2v1h-2zM1051 586h1v1h-1zM1121 586h1v1h-1zM1128 586h1v1h-1zM1153 586h1v1h-1zM1183 586h1v1h-1zM1196 586h1v1h-1zM5 569h1v1h-1zM41 569h1v1h-1zM44 569h1v1h-1zM49 569h1v1h-1zM53 569h3v1h-3zM85 569h4v1h-4zM92 569h2v1h-2zM95 569h1v1h-1zM177 569h1v1h-1zM183 569h1v1h-1zM228 569h2v1h-2zM233 569h3v1h-3zM255 569h1v1h-1zM490 569h3v1h-3zM497 569h8v1h-8zM507 569h2v1h-2zM536 569h1v1h-1zM625 569h1v1h-1zM649 569h1v1h-1zM18 576h2v1h-2zM24 576h1v1h-1zM99 576h1v1h-1zM126 576h1v1h-1zM143 576h1v1h-1zM166 576h1v1h-1zM191 576h1v1h-1zM217 576h1v1h-1zM220 576h2v1h-2zM223 576h1v1h-1zM257 576h1v1h-1zM452 576h1v1h-1zM459 576h1v1h-1zM480 576h1v1h-1zM548 576h2v1h-2zM553 576h2v1h-2zM621 576h1v1h-1zM653 576h1v1h-1zM674 576h1v1h-1zM699 576h1v1h-1zM725 576h1v1h-1zM727 576h2v1h-2zM740 576h2v1h-2zM772 576h1v1h-1zM789 576h1v1h-1zM801 576h1v1h-1zM805 576h3v1h-3zM812 576h1v1h-1zM818 576h2v1h-2zM832 576h2v1h-2zM835 576h2v1h-2zM839 576h1v1h-1zM846 576h3v1h-3zM857 576h2v1h-2zM1208 576h1v1h-1zM1214 576h1v1h-1zM1226 576h1v1h-1zM350 594h1v1h-1zM366 594h1v1h-1zM413 594h2v1h-2zM567 594h1v1h-1zM603 594h1v1h-1zM911 594h2v1h-2zM919 594h1v1h-1zM1057 594h1v1h-1zM1096 594h1v1h-1zM1103 594h1v1h-1zM1109 594h1v1h-1zM1150 594h1v1h-1zM357 598h6v1h-6zM569 598h1v1h-1zM602 598h1v1h-1zM916 598h1v1h-1zM918 598h1v1h-1zM1062 598h2v1h-2zM1095 598h1v1h-1zM1105 598h1v1h-1zM1107 598h1v1h-1zM100 581h1v1h-1zM118 581h1v1h-1zM147 581h1v1h-1zM164 581h1v1h-1zM193 581h1v1h-1zM202 581h3v1h-3zM207 581h1v1h-1zM214 581h1v1h-1zM259 581h1v1h-1zM273 581h1v1h-1zM276 581h2v1h-2zM434 581h3v1h-3zM439 581h2v1h-2zM450 581h1v1h-1zM461 581h1v1h-1zM476 581h1v1h-1zM556 581h1v1h-1zM606 581h6v1h-6zM615 581h1v1h-1zM619 581h1v1h-1zM656 581h1v1h-1zM665 581h1v1h-1zM717 581h1v1h-1zM720 581h1v1h-1zM775 581h1v1h-1zM786 581h1v1h-1zM841 581h1v1h-1zM843 581h1v1h-1zM862 581h1v1h-1zM868 581h1v1h-1zM926 581h1v1h-1zM977 581h1v1h-1zM979 581h1v1h-1zM1033 581h1v1h-1zM1038 581h1v1h-1zM1161 581h1v1h-1zM1165 581h4v1h-4zM1199 581h2v1h-2zM1229 581h1v1h-1zM1232 581h2v1h-2zM1241 581h1v1h-1zM1244 581h2v1h-2zM1249 581h2v1h-2zM6 570h6v1h-6zM40 570h1v1h-1zM44 570h1v1h-1zM48 570h1v1h-1zM56 570h2v1h-2zM82 570h3v1h-3zM89 570h3v1h-3zM96 570h1v1h-1zM138 570h1v1h-1zM175 570h2v1h-2zM184 570h1v1h-1zM226 570h2v1h-2zM255 570h1v1h-1zM488 570h2v1h-2zM505 570h2v1h-2zM536 570h1v1h-1zM624 570h1v1h-1zM650 570h1v1h-1zM682 570h3v1h-3zM754 570h11v1h-11zM101 585h1v1h-1zM115 585h1v1h-1zM149 585h1v1h-1zM161 585h2v1h-2zM261 585h1v1h-1zM265 585h1v1h-1zM269 585h2v1h-2zM283 585h2v1h-2zM293 585h2v1h-2zM322 585h2v1h-2zM331 585h2v1h-2zM341 585h1v1h-1zM343 585h1v1h-1zM388 585h1v1h-1zM400 585h2v1h-2zM423 585h1v1h-1zM430 585h1v1h-1zM464 585h1v1h-1zM473 585h1v1h-1zM557 585h1v1h-1zM605 585h1v1h-1zM618 585h1v1h-1zM662 585h1v1h-1zM777 585h1v1h-1zM782 585h1v1h-1zM873 585h1v1h-1zM877 585h4v1h-4zM884 585h2v1h-2zM888 585h2v1h-2zM896 585h1v1h-1zM904 585h1v1h-1zM922 585h1v1h-1zM933 585h3v1h-3zM953 585h1v1h-1zM962 585h2v1h-2zM985 585h12v1h-12zM1022 585h3v1h-3zM1032 585h1v1h-1zM1041 585h1v1h-1zM1050 585h1v1h-1zM1122 585h3v1h-3zM1127 585h1v1h-1zM1153 585h1v1h-1zM1158 585h1v1h-1zM1181 585h2v1h-2zM1197 585h1v1h-1zM101 583h1v1h-1zM116 583h1v1h-1zM148 583h1v1h-1zM163 583h1v1h-1zM197 583h3v1h-3zM209 583h1v1h-1zM211 583h2v1h-2zM260 583h1v1h-1zM272 583h1v1h-1zM280 583h2v1h-2zM326 583h3v1h-3zM390 583h3v1h-3zM396 583h2v1h-2zM425 583h1v1h-1zM427 583h2v1h-2zM432 583h1v1h-1zM462 583h1v1h-1zM474 583h1v1h-1zM556 583h1v1h-1zM606 583h1v1h-1zM617 583h1v1h-1zM619 583h1v1h-1zM658 583h2v1h-2zM664 583h1v1h-1zM718 583h1v1h-1zM776 583h1v1h-1zM784 583h1v1h-1zM842 583h1v1h-1zM870 583h1v1h-1zM897 583h1v1h-1zM903 583h1v1h-1zM923 583h2v1h-2zM929 583h1v1h-1zM938 583h7v1h-7zM949 583h2v1h-2zM966 583h3v1h-3zM975 583h1v1h-1zM981 583h1v1h-1zM1032 583h1v1h-1zM1040 583h1v1h-1zM1154 583h2v1h-2zM1160 583h1v1h-1zM1172 583h2v1h-2zM1198 583h1v1h-1zM298 590h1v1h-1zM308 590h1v1h-1zM312 590h1v1h-1zM316 590h1v1h-1zM319 590h1v1h-1zM345 590h1v1h-1zM371 590h2v1h-2zM376 590h1v1h-1zM379 590h1v1h-1zM407 590h1v1h-1zM416 590h1v1h-1zM562 590h1v1h-1zM604 590h1v1h-1zM894 590h1v1h-1zM908 590h1v1h-1zM920 590h1v1h-1zM1002 590h5v1h-5zM1013 590h1v1h-1zM1017 590h2v1h-2zM1053 590h1v1h-1zM1098 590h1v1h-1zM1112 590h1v1h-1zM1133 590h8v1h-8zM1143 590h2v1h-2zM1151 590h1v1h-1zM1193 590h2v1h-2zM310 592h1v1h-1zM318 592h1v1h-1zM347 592h2v1h-2zM369 592h1v1h-1zM378 592h1v1h-1zM409 592h1v1h-1zM415 592h1v1h-1zM565 592h1v1h-1zM603 592h1v1h-1zM909 592h1v1h-1zM920 592h1v1h-1zM1009 592h1v1h-1zM1011 592h1v1h-1zM1055 592h1v1h-1zM1097 592h1v1h-1zM1101 592h1v1h-1zM1110 592h1v1h-1zM1146 592h2v1h-2zM1151 592h1v1h-1zM571 600h2v1h-2zM601 600h1v1h-1zM918 600h1v1h-1zM1066 600h7v1h-7zM1094 600h1v1h-1zM16 574h1v1h-1zM26 574h1v1h-1zM36 574h3v1h-3zM69 574h4v1h-4zM99 574h1v1h-1zM129 574h1v1h-1zM141 574h1v1h-1zM169 574h2v1h-2zM189 574h2v1h-2zM224 574h1v1h-1zM257 574h1v1h-1zM453 574h1v1h-1zM459 574h1v1h-1zM481 574h1v1h-1zM538 574h3v1h-3zM621 574h1v1h-1zM652 574h1v1h-1zM677 574h1v1h-1zM693 574h1v1h-1zM744 574h2v1h-2zM771 574h1v1h-1zM790 574h2v1h-2zM800 574h1v1h-1zM810 574h1v1h-1zM822 574h7v1h-7zM838 574h1v1h-1zM1209 574h1v1h-1zM1211 574h2v1h-2zM1217 574h1v1h-1zM1224 574h1v1h-1zM4 567h1v1h-1zM42 567h2v1h-2zM181 567h2v1h-2zM238 567h3v1h-3zM245 567h4v1h-4zM255 567h1v1h-1zM510 567h1v1h-1zM535 567h1v1h-1zM627 567h1v1h-1zM645 567h2v1h-2zM20 577h2v1h-2zM23 577h1v1h-1zM99 577h1v1h-1zM124 577h2v1h-2zM144 577h1v1h-1zM165 577h1v1h-1zM191 577h1v1h-1zM217 577h1v1h-1zM222 577h1v1h-1zM257 577h1v1h-1zM452 577h1v1h-1zM460 577h1v1h-1zM479 577h1v1h-1zM550 577h3v1h-3zM554 577h1v1h-1zM620 577h1v1h-1zM653 577h1v1h-1zM672 577h2v1h-2zM700 577h1v1h-1zM714 577h1v1h-1zM724 577h1v1h-1zM729 577h1v1h-1zM733 577h7v1h-7zM773 577h1v1h-1zM788 577h1v1h-1zM802 577h3v1h-3zM812 577h1v1h-1zM817 577h1v1h-1zM834 577h1v1h-1zM839 577h1v1h-1zM845 577h1v1h-1zM859 577h1v1h-1zM1207 577h1v1h-1zM1227 577h1v1h-1zM101 582h1v1h-1zM117 582h1v1h-1zM147 582h1v1h-1zM163 582h1v1h-1zM194 582h3v1h-3zM200 582h2v1h-2zM208 582h1v1h-1zM213 582h1v1h-1zM259 582h1v1h-1zM272 582h1v1h-1zM278 582h2v1h-2zM393 582h3v1h-3zM426 582h1v1h-1zM433 582h1v1h-1zM437 582h2v1h-2zM462 582h1v1h-1zM475 582h1v1h-1zM556 582h1v1h-1zM606 582h1v1h-1zM616 582h1v1h-1zM619 582h1v1h-1zM657 582h1v1h-1zM664 582h1v1h-1zM717 582h1v1h-1zM719 582h1v1h-1zM775 582h1v1h-1zM785 582h1v1h-1zM842 582h2v1h-2zM869 582h1v1h-1zM898 582h5v1h-5zM925 582h1v1h-1zM927 582h2v1h-2zM945 582h4v1h-4zM976 582h1v1h-1zM980 582h1v1h-1zM1033 582h1v1h-1zM1039 582h1v1h-1zM1160 582h1v1h-1zM1169 582h3v1h-3zM1198 582h1v1h-1zM1230 582h2v1h-2zM1242 582h2v1h-2zM105 588h4v1h-4zM111 588h2v1h-2zM262 588h1v1h-1zM296 588h1v1h-1zM301 588h1v1h-1zM307 588h1v1h-1zM314 588h1v1h-1zM320 588h1v1h-1zM337 588h2v1h-2zM344 588h1v1h-1zM374 588h1v1h-1zM381 588h1v1h-1zM386 588h1v1h-1zM405 588h1v1h-1zM417 588h1v1h-1zM468 588h2v1h-2zM471 588h1v1h-1zM558 588h2v1h-2zM604 588h1v1h-1zM892 588h1v1h-1zM895 588h1v1h-1zM907 588h1v1h-1zM921 588h1v1h-1zM957 588h1v1h-1zM959 588h1v1h-1zM1000 588h1v1h-1zM1020 588h1v1h-1zM1029 588h2v1h-2zM1052 588h1v1h-1zM1113 588h1v1h-1zM1117 588h2v1h-2zM1129 588h1v1h-1zM1152 588h1v1h-1zM1185 588h1v1h-1zM1188 588h2v1h-2zM1191 588h1v1h-1zM1195 588h1v1h-1zM582 604h1v1h-1zM599 604h1v1h-1zM1082 604h2v1h-2zM1091 604h1v1h-1zM4 568h1v1h-1zM41 568h1v1h-1zM43 568h1v1h-1zM50 568h3v1h-3zM94 568h1v1h-1zM178 568h3v1h-3zM183 568h1v1h-1zM230 568h3v1h-3zM236 568h2v1h-2zM255 568h1v1h-1zM493 568h4v1h-4zM509 568h1v1h-1zM535 568h1v1h-1zM626 568h1v1h-1zM647 568h2v1h-2zM102 587h3v1h-3zM113 587h1v1h-1zM153 587h4v1h-4zM262 587h2v1h-2zM286 587h3v1h-3zM296 587h1v1h-1zM302 587h5v1h-5zM321 587h1v1h-1zM334 587h3v1h-3zM339 587h1v1h-1zM344 587h1v1h-1zM381 587h1v1h-1zM384 587h2v1h-2zM387 587h1v1h-1zM403 587h2v1h-2zM417 587h1v1h-1zM466 587h2v1h-2zM471 587h1v1h-1zM558 587h1v1h-1zM605 587h1v1h-1zM778 587h2v1h-2zM891 587h1v1h-1zM895 587h1v1h-1zM906 587h1v1h-1zM921 587h1v1h-1zM955 587h2v1h-2zM960 587h1v1h-1zM999 587h1v1h-1zM1020 587h1v1h-1zM1027 587h2v1h-2zM1031 587h1v1h-1zM1045 587h3v1h-3zM1051 587h1v1h-1zM1114 587h3v1h-3zM1119 587h2v1h-2zM1128 587h1v1h-1zM1153 587h1v1h-1zM1184 587h1v1h-1zM1190 587h1v1h-1zM1196 587h1v1h-1zM351 595h2v1h-2zM365 595h1v1h-1zM567 595h1v1h-1zM603 595h1v1h-1zM913 595h1v1h-1zM919 595h1v1h-1zM1058 595h1v1h-1zM1096 595h1v1h-1zM1103 595h1v1h-1zM1108 595h1v1h-1zM573 601h1v1h-1zM577 601h2v1h-2zM600 601h1v1h-1zM1073 601h4v1h-4zM1093 601h1v1h-1zM3 566h1v1h-1zM42 566h1v1h-1zM241 566h4v1h-4zM249 566h4v1h-4zM254 566h1v1h-1zM511 566h1v1h-1zM534 566h1v1h-1zM628 566h1v1h-1zM642 566h3v1h-3zM574 602h3v1h-3zM579 602h2v1h-2zM600 602h1v1h-1zM1077 602h3v1h-3zM1093 602h1v1h-1zM2 565h1v1h-1zM253 565h2v1h-2zM512 565h1v1h-1zM526 565h1v1h-1zM534 565h1v1h-1zM628 565h1v1h-1zM641 565h1v1h-1zM593 611h2v1h-2zM581 603h1v1h-1zM599 603h1v1h-1zM1080 603h2v1h-2zM1092 603h1v1h-1zM353 596h1v1h-1zM364 596h1v1h-1zM568 596h1v1h-1zM602 596h1v1h-1zM914 596h1v1h-1zM919 596h1v1h-1zM1059 596h2v1h-2zM1096 596h1v1h-1zM1104 596h1v1h-1zM1108 596h1v1h-1zM514 563h10v1h-10zM529 563h1v1h-1zM531 563h2v1h-2zM630 563h3v1h-3zM640 563h1v1h-1zM584 607h1v1h-1zM597 607h1v1h-1zM354 597h3v1h-3zM363 597h1v1h-1zM569 597h1v1h-1zM602 597h1v1h-1zM915 597h1v1h-1zM919 597h1v1h-1zM1061 597h1v1h-1zM1095 597h1v1h-1zM1105 597h1v1h-1zM1107 597h1v1h-1zM585 608h1v1h-1zM596 608h1v1h-1zM530 562h1v1h-1zM633 562h4v1h-4zM639 562h1v1h-1zM570 599h1v1h-1zM601 599h1v1h-1zM917 599h2v1h-2zM1064 599h2v1h-2zM1094 599h1v1h-1zM1106 599h1v1h-1zM513 564h1v1h-1zM524 564h2v1h-2zM527 564h2v1h-2zM533 564h1v1h-1zM629 564h1v1h-1zM640 564h1v1h-1zM589 610h4v1h-4zM595 610h1v1h-1zM586 609h3v1h-3zM596 609h1v1h-1zM583 605h1v1h-1zM598 605h1v1h-1zM1084 605h2v1h-2zM1091 605h1v1h-1zM584 606h1v1h-1zM598 606h1v1h-1zM1086 606h5v1h-5z" fill="#1e90ff"/>
<rect x="2" y="642" width="1" height="16" fill="#c0c0c0"/>
<rect x="6" y="642" width="1" height="16" fill="#c0c0c0"/>
<rect x="10" y="643" width="1" height="15" fill="#c0c0c0"/>
<rect x="14" y="643" width="1" height="15" fill="#c0c0c0"/>
<rect x="18" y="645" width="1" height="13" fill="#c0c0c0"/>
<rect x="22" y="648" width="1" height="10" fill="#c0c0c0"/>
<rect x="26" y="648" width="1" height="10" fill="#c0c0c0"/>
<rect x="30" y="648" width="1" height="10" fill="#c0c0c0"/>
<rect x="34" y="648" width="1" height="10" fill="#c0c0c0"/>
<rect x="38" y="649" width="1" height="9" fill="#c0c0c0"/>
<rect x="42" y="647" width="1" height="11" fill="#c0c0c0"/>
<rect x="46" y="647" width="1" height="11" fill="#c0c0c0"/>
<rect x="50" y="645" width="1" height="13" fill="#c0c0c0"/>
<rect x="54" y="644" width="1" height="14" fill="#c0c0c0"/>
<rect x="58" y="645" width="1" height="13" fill="#c0c0c0"/>
<rect x="62" y="645" width="1" height="13" fill="#c0c0c0"/>
<rect x="66" y="646" width="1" height="12" fill="#c0c0c0"/>
<rect x="70" y="647" width="1" height="11" fill="#c0c0c0"/>
<rect x="74" y="647" width="1" height="11" fill="#c0c0c0"/>
<rect x="78" y="647" width="1" height="11" fill="#c0c0c0"/>
<rect x="82" y="647" width="1" height="11" fill="#c0c0c0"/>
<rect x="86" y="647" width="1" height="11" fill="#c0c0c0"/>
<rect x="90" y="647" width="1" height="11" fill="#c0c0c0"/>
<rect x="94" y="647" width="1" height="11" fill="#c0c0c0"/>
<rect x="98" y="647" width="1" height="11" fill="#c0c0c0"/>
<rect x="102" y="652" width="1" height="6" fill="#c0c0c0"/>
<rect x="106" y="656" width="1" height="2" fill="#c0c0c0"/>
<rect x="110" y="657" width="1" height="3" fill="#c0c0c0"/>
<rect x="114" y="657" width="1" height="5" fill="#c0c0c0"/>
<rect x="118" y="657" width="1" height="6" fill="#c0c0c0"/>
<rect x="122" y="657" width="1" height="5" fill="#c0c0c0"/>
<rect x="126" y="657" width="1" height="4" fill="#c0c0c0"/>
<rect x="130" y="657" width="1" height="3" fill="#c0c0c0"/>
<rect x="134" y="657" width="1" height="1" fill="#c0c0c0"/>
<rect x="138" y="656" width="1" height="2" fill="#c0c0c0"/>
<rect x="142" y="655" width="1" height="3" fill="#c0c0c0"/>
<rect x="146" y="656" width="1" height="2" fill="#c0c0c0"/>
<rect x="150" y="657" width="1" height="3" fill="#c0c0c0"/>
<rect x="154" y="657" width="1" height="5" fill="#c0c0c0"/>
<rect x="158" y="657" width="1" height="7" fill="#c0c0c0"/>
<rect x="162" y="657" width="1" height="8" fill="#c0c0c0"/>
<rect x="166" y="657" width="1" height="6" fill="#c0c0c0"/>
<rect x="170" y="657" width="1" height="5" fill="#c0c0c0"/>
<rect x="174" y="657" width="1" height="3" fill="#c0c0c0"/>
<rect x="178" y="656" width="1" height="2" fill="#c0c0c0"/>
<rect x="182" y="654" width="1" height="4" fill="#c0c0c0"/>
<rect x="186" y="653" width="1" height="5" fill="#c0c0c0"/>
<rect x="190" y="653" width="1" height="5" fill="#c0c0c0"/>
<rect x="194" y="655" width="1" height="3" fill="#c0c0c0"/>
<rect x="198" y="657" width="1" height="1" fill="#c0c0c0"/>
<rect x="202" y="657" width="1" height="2" fill="#c0c0c0"/>
<rect x="206" y="657" width="1" height="3" fill="#c0c0c0"/>
<rect x="210" y="657" width="1" height="4" fill="#c0c0c0"/>
<rect x="214" y="657" width="1" height="4" fill="#c0c0c0"/>
<rect x="218" y="657" width="1" height="3" fill="#c0c0c0"/>
<rect x="222" y="657" width="1" height="3" fill="#c0c0c0"/>
<rect x="226" y="657" width="1" height="1" fill="#c0c0c0"/>
<rect x="230" y="654" width="1" height="4" fill="#c0c0c0"/>
<rect x="234" y="653" width="1" height="5" fill="#c0c0c0"/>
<rect x="238" y="651" width="1" height="7" fill="#c0c0c0"/>
<rect x="242" y="649" width="1" height="9" fill="#c0c0c0"/>
<rect x="246" y="648" width="1" height="10" fill="#c0c0c0"/>
<rect x="250" y="647" width="1" height="11" fill="#c0c0c0"/>
<rect x="254" y="646" width="1" height="12" fill="#c0c0c0"/>
<rect x="258" y="648" width="1" height="10" fill="#c0c0c0"/>
<rect x="262" y="653" width="1" height="5" fill="#c0c0c0"/>
<rect x="266" y="656" width="1" height="2" fill="#c0c0c0"/>
<rect x="270" y="657" width="1" height="2" fill="#c0c0c0"/>
<rect x="274" y="657" width="1" height="3" fill="#c0c0c0"/>
<rect x="278" y="657" width="1" height="4" fill="#c0c0c0"/>
<rect x="282" y="657" width="1" height="5" fill="#c0c0c0"/>
<rect x="286" y="657" width="1" height="7" fill="#c0c0c0"/>
<rect x="290" y="657" width="1" height="9" fill="#c0c0c0"/>
<rect x="294" y="657" width="1" height="9" fill="#c0c0c0"/>
<rect x="298" y="657" width="1" height="11" fill="#c0c0c0"/>
<rect x="302" y="657" width="1" height="12" fill="#c0c0c0"/>
<rect x="306" y="657" width="1" height="13" fill="#c0c0c0"/>
<rect x="310" y="657" width="1" height="15" fill="#c0c0c0"/>
<rect x="314" y="657" width="1" height="16" fill="#c0c0c0"/>
<rect x="318" y="657" width="1" height="18" fill="#c0c0c0"/>
<rect x="322" y="657" width="1" height="18" fill="#c0c0c0"/>
<rect x="326" y="657" width="1" height="17" fill="#c0c0c0"/>
<rect x="330" y="657" width="1" height="16" fill="#c0c0c0"/>
<rect x="334" y="657" width="1" height="16" fill="#c0c0c0"/>
<rect x="338" y="657" width="1" height="17" fill="#c0c0c0"/>
<rect x="342" y="657" width="1" height="16" fill="#c0c0c0"/>
<rect x="346" y="657" width="1" height="18" fill="#c0c0c0"/>
<rect x="350" y="657" width="1" height="20" fill="#c0c0c0"/>
<rect x="354" y="657" width="1" height="23" fill="#c0c0c0"/>
<rect x="358" y="657" width="1" height="25" fill="#c0c0c0"/>
<rect x="362" y="657" width="1" height="27" fill="#c0c0c0"/>
<rect x="366" y="657" width="1" height="28" fill="#c0c0c0"/>
<rect x="370" y="657" width="1" height="27" fill="#c0c0c0"/>
<rect x="374" y="657" width="1" height="26" fill="#c0c0c0"/>
<rect x="378" y="657" width="1" height="26" fill="#c0c0c0"/>
<rect x="382" y="657" width="1" height="25" fill="#c0c0c0"/>
<rect x="386" y="657" width="1" height="24" fill="#c0c0c0"/>
<rect x="390" y="657" width="1" height="22" fill="#c0c0c0"/>
<rect x="394" y="657" width="1" height="20" fill="#c0c0c0"/>
<rect x="398" y="657" width="1" height="19" fill="#c0c0c0"/>
<rect x="402" y="657" width="1" height="18" fill="#c0c0c0"/>
<rect x="406" y="657" width="1" height="19" fill="#c0c0c0"/>
<rect x="410" y="657" width="1" height="20" fill="#c0c0c0"/>
<rect x="414" y="657" width="1" height="21" fill="#c0c0c0"/>
<rect x="418" y="657" width="1" height="21" fill="#c0c0c0"/>
<rect x="422" y="657" width="1" height="20" fill="#c0c0c0"/>
<rect x="426" y="657" width="1" height="18" fill="#c0c0c0"/>
<rect x="430" y="657" width="1" height="18" fill="#c0c0c0"/>
<rect x="434" y="657" width="1" height="16" fill="#c0c0c0"/>
<rect x="438" y="657" width="1" height="15" fill="#c0c0c0"/>
<rect x="442" y="657" width="1" height="13" fill="#c0c0c0"/>
<rect x="446" y="657" width="1" height="12" fill="#c0c0c0"/>
<rect x="450" y="657" width="1" height="11" fill="#c0c0c0"/>
<rect x="454" y="657" width="1" height="8" fill="#c0c0c0"/>
<rect x="458" y="657" width="1" height="6" fill="#c0c0c0"/>
<rect x="462" y="657" width="1" height="7" fill="#c0c0c0"/>
<rect x="466" y="657" width="1" height="9" fill="#c0c0c0"/>
<rect x="470" y="657" width="1" height="11" fill="#c0c0c0"/>
<rect x="474" y="657" width="1" height="11" fill="#c0c0c0"/>
<rect x="478" y="657" width="1" height="10" fill="#c0c0c0"/>
<rect x="482" y="657" width="1" height="7" fill="#c0c0c0"/>
<rect x="486" y="657" width="1" height="4" fill="#c0c0c0"/>
<rect x="490" y="657" width="1" height="1" fill="#c0c0c0"/>
<rect x="494" y="655" width="1" height="3" fill="#c0c0c0"/>
<rect x="498" y="653" width="1" height="5" fill="#c0c0c0"/>
<rect x="502" y="651" width="1" height="7" fill="#c0c0c0"/>
<rect x="506" y="651" width="1" height="7" fill="#c0c0c0"/>
<rect x="510" y="649" width="1" height="9" fill="#c0c0c0"/>
<rect x="514" y="647" width="1" height="11" fill="#c0c0c0"/>
<rect x="518" y="645" width="1" height="13" fill="#c0c0c0"/>
<rect x="522" y="644" width="1" height="14" fill="#c0c0c0"/>
<rect x="526" y="643" width="1" height="15" fill="#c0c0c0"/>
<rect x="530" y="642" width="1" height="16" fill="#c0c0c0"/>
<rect x="534" y="642" width="1" height="16" fill="#c0c0c0"/>
<rect x="538" y="643" width="1" height="15" fill="#c0c0c0"/>
<rect x="542" y="645" width="1" height="13" fill="#c0c0c0"/>
<rect x="546" y="646" width="1" height="12" fill="#c0c0c0"/>
<rect x="550" y="648" width="1" height="10" fill="#c0c0c0"/>
<rect x="554" y="649" width="1" height="9" fill="#c0c0c0"/>
<rect x="558" y="653" width="1" height="5" fill="#c0c0c0"/>
<rect x="562" y="657" width="1" height="1" fill="#c0c0c0"/>
<rect x="566" y="657" width="1" height="5" fill="#c0c0c0"/>
<rect x="570" y="657" width="1" height="11" fill="#c0c0c0"/>
<rect x="574" y="657" width="1" height="17" fill="#c0c0c0"/>
<rect x="578" y="657" width="1" height="22" fill="#c0c0c0"/>
<rect x="582" y="657" width="1" height="27" fill="#c0c0c0"/>
<rect x="586" y="657" width="1" height="36" fill="#c0c0c0"/>
<rect x="590" y="657" width="1" height="43" fill="#c0c0c0"/>
<rect x="594" y="657" width="1" height="51" fill="#c0c0c0"/>
<rect x="598" y="657" width="1" height="56" fill="#c0c0c0"/>
<rect x="602" y="657" width="1" height="56" fill="#c0c0c0"/>
<rect x="606" y="657" width="1" height="50" fill="#c0c0c0"/>
<rect x="610" y="657" width="1" height="44" fill="#c0c0c0"/>
<rect x="614" y="657" width="1" height="38" fill="#c0c0c0"/>
<rect x="618" y="657" width="1" height="37" fill="#c0c0c0"/>
<rect x="622" y="657" width="1" height="28" fill="#c0c0c0"/>
<rect x="626" y="657" width="1" height="18" fill="#c0c0c0"/>
<rect x="630" y="657" width="1" height="4" fill="#c0c0c0"/>
<rect x="634" y="649" width="1" height="9" fill="#c0c0c0"/>
<rect x="638" y="639" width="1" height="19" fill="#c0c0c0"/>
<rect x="642" y="634" width="1" height="24" fill="#c0c0c0"/>
<rect x="646" y="632" width="1" height="26" fill="#c0c0c0"/>
<rect x="650" y="631" width="1" height="27" fill="#c0c0c0"/>
<rect x="654" y="636" width="1" height="22" fill="#c0c0c0"/>
<rect x="658" y="644" width="1" height="14" fill="#c0c0c0"/>
<rect x="662" y="652" width="1" height="6" fill="#c0c0c0"/>
<rect x="666" y="655" width="1" height="3" fill="#c0c0c0"/>
<rect x="670" y="656" width="1" height="2" fill="#c0c0c0"/>
<rect x="674" y="655" width="1" height="3" fill="#c0c0c0"/>
<rect x="678" y="652" width="1" height="6" fill="#c0c0c0"/>
<rect x="682" y="648" width="1" height="10" fill="#c0c0c0"/>
<rect x="686" y="646" width="1" height="12" fill="#c0c0c0"/>
<rect x="690" y="644" width="1" height="14" fill="#c0c0c0"/>
<rect x="694" y="645" width="1" height="13" fill="#c0c0c0"/>
<rect x="698" y="645" width="1" height="13" fill="#c0c0c0"/>
<rect x="702" y="648" width="1" height="10" fill="#c0c0c0"/>
<rect x="706" y="651" width="1" height="7" fill="#c0c0c0"/>
<rect x="710" y="653" width="1" height="5" fill="#c0c0c0"/>
<rect x="714" y="654" width="1" height="4" fill="#c0c0c0"/>
<rect x="718" y="657" width="1" height="1" fill="#c0c0c0"/>
<rect x="722" y="657" width="1" height="2" fill="#c0c0c0"/>
<rect x="726" y="657" width="1" height="1" fill="#c0c0c0"/>
<rect x="730" y="657" width="1" height="2" fill="#c0c0c0"/>
<rect x="734" y="657" width="1" height="2" fill="#c0c0c0"/>
<rect x="738" y="657" width="1" height="2" fill="#c0c0c0"/>
<rect x="742" y="657" width="1" height="1" fill="#c0c0c0"/>
<rect x="746" y="655" width="1" height="3" fill="#c0c0c0"/>
<rect x="750" y="653" width="1" height="5" fill="#c0c0c0"/>
<rect x="754" y="651" width="1" height="7" fill="#c0c0c0"/>
<rect x="758" y="649" width="1" height="9" fill="#c0c0c0"/>
<rect x="762" y="648" width="1" height="10" fill="#c0c0c0"/>
<rect x="766" y="647" width="1" height="11" fill="#c0c0c0"/>
<rect x="770" y="646" width="1" height="12" fill="#c0c0c0"/>
<rect x="774" y="649" width="1" height="9" fill="#c0c0c0"/>
<rect x="778" y="655" width="1" height="3" fill="#c0c0c0"/>
<rect x="782" y="657" width="1" height="2" fill="#c0c0c0"/>
<rect x="786" y="657" width="1" height="4" fill="#c0c0c0"/>
<rect x="790" y="657" width="1" height="2" fill="#c0c0c0"/>
<rect x="794" y="655" width="1" height="3" fill="#c0c0c0"/>
<rect x="798" y="653" width="1" height="5" fill="#c0c0c0"/>
<rect x="802" y="654" width="1" height="4" fill="#c0c0c0"/>
<rect x="806" y="654" width="1" height="4" fill="#c0c0c0"/>
<rect x="810" y="653" width="1" height="5" fill="#c0c0c0"/>
<rect x="814" y="655" width="1" height="3" fill="#c0c0c0"/>
<rect x="818" y="655" width="1" height="3" fill="#c0c0c0"/>
<rect x="822" y="654" width="1" height="4" fill="#c0c0c0"/>
<rect x="826" y="653" width="1" height="5" fill="#c0c0c0"/>
<rect x="830" y="653" width="1" height="5" fill="#c0c0c0"/>
<rect x="834" y="654" width="1" height="4" fill="#c0c0c0"/>
<rect x="838" y="653" width="1" height="5" fill="#c0c0c0"/>
<rect x="842" y="656" width="1" height="2" fill="#c0c0c0"/>
<rect x="846" y="656" width="1" height="2" fill="#c0c0c0"/>
<rect x="850" y="655" width="1" height="3" fill="#c0c0c0"/>
<rect x="854" y="655" width="1" height="3" fill="#c0c0c0"/>
<rect x="858" y="655" width="1" height="3" fill="#c0c0c0"/>
<rect x="862" y="657" width="1" height="1" fill="#c0c0c0"/>
<rect x="866" y="657" width="1" height="1" fill="#c0c0c0"/>
<rect x="870" y="657" width="1" height="3" fill="#c0c0c0"/>
<rect x="874" y="657" width="1" height="6" fill="#c0c0c0"/>
<rect x="878" y="657" width="1" height="8" fill="#c0c0c0"/>
<rect x="882" y="657" width="1" height="10" fill="#c0c0c0"/>
<rect x="886" y="657" width="1" height="11" fill="#c0c0c0"/>
<rect x="890" y="657" width="1" height="12" fill="#c0c0c0"/>
<rect x="894" y="657" width="1" height="15" fill="#c0c0c0"/>
<rect x="898" y="657" width="1" height="14" fill="#c0c0c0"/>
<rect x="902" y="657" width="1" height="14" fill="#c0c0c0"/>
<rect x="906" y="657" width="1" height="16" fill="#c0c0c0"/>
<rect x="910" y="657" width="1" height="20" fill="#c0c0c0"/>
<rect x="914" y="657" width="1" height="25" fill="#c0c0c0"/>
<rect x="918" y="657" width="1" height="31" fill="#c0c0c0"/>
<rect x="922" y="657" width="1" height="30" fill="#c0c0c0"/>
<rect x="926" y="657" width="1" height="28" fill="#c0c0c0"/>
<rect x="930" y="657" width="1" height="28" fill="#c0c0c0"/>
<rect x="934" y="657" width="1" height="28" fill="#c0c0c0"/>
<rect x="938" y="657" width="1" height="26" fill="#c0c0c0"/>
<rect x="942" y="657" width="1" height="25" fill="#c0c0c0"/>
<rect x="946" y="657" width="1" height="23" fill="#c0c0c0"/>
<rect x="950" y="657" width="1" height="22" fill="#c0c0c0"/>
<rect x="954" y="657" width="1" height="23" fill="#c0c0c0"/>
<rect x="958" y="657" width="1" height="24" fill="#c0c0c0"/>
<rect x="962" y="657" width="1" height="24" fill="#c0c0c0"/>
<rect x="966" y="657" width="1" height="23" fill="#c0c0c0"/>
<rect x="970" y="657" width="1" height="22" fill="#c0c0c0"/>
<rect x="974" y="657" width="1" height="21" fill="#c0c0c0"/>
<rect x="978" y="657" width="1" height="19" fill="#c0c0c0"/>
<rect x="982" y="657" width="1" height="19" fill="#c0c0c0"/>
<rect x="986" y="657" width="1" height="19" fill="#c0c0c0"/>
<rect x="990" y="657" width="1" height="19" fill="#c0c0c0"/>
<rect x="994" y="657" width="1" height="18" fill="#c0c0c0"/>
<rect x="998" y="657" width="1" height="18" fill="#c0c0c0"/>
<rect x="1002" y="657" width="1" height="19" fill="#c0c0c0"/>
<rect x="1006" y="657" width="1" height="20" fill="#c0c0c0"/>
<rect x="1010" y="657" width="1" height="22" fill="#c0c0c0"/>
<rect x="1014" y="657" width="1" height="22" fill="#c0c0c0"/>
<rect x="1018" y="657" width="1" height="22" fill="#c0c0c0"/>
<rect x="1022" y="657" width="1" height="21" fill="#c0c0c0"/>
<rect x="1026" y="657" width="1" height="20" fill="#c0c0c0"/>
<rect x="1030" y="657" width="1" height="21" fill="#c0c0c0"/>
<rect x="1034" y="657" width="1" height="18" fill="#c0c0c0"/>
<rect x="1038" y="657" width="1" height="17" fill="#c0c0c0"/>
<rect x="1042" y="657" width="1" height="17" fill="#c0c0c0"/>
<rect x="1046" y="657" width="1" height="17" fill="#c0c0c0"/>
<rect x="1050" y="657" width="1" height="17" fill="#c0c0c0"/>
<rect x="1054" y="657" width="1" height="19" fill="#c0c0c0"/>
<rect x="1058" y="657" width="1" height="22" fill="#c0c0c0"/>
<rect x="1062" y="657" width="1" height="26" fill="#c0c0c0"/>
<rect x="1066" y="657" width="1" height="30" fill="#c0c0c0"/>
<rect x="1070" y="657" width="1" height="32" fill="#c0c0c0"/>
<rect x="1074" y="657" width="1" height="35" fill="#c0c0c0"/>
<rect x="1078" y="657" width="1" height="37" fill="#c0c0c0"/>
<rect x="1082" y="657" width="1" height="41" fill="#c0c0c0"/>
<rect x="1086" y="657" width="1" height="44" fill="#c0c0c0"/>
<rect x="1090" y="657" width="1" height="46" fill="#c0c0c0"/>
<rect x="1094" y="657" width="1" height="46" fill="#c0c0c0"/>
<rect x="1098" y="657" width="1" height="43" fill="#c0c0c0"/>
<rect x="1102" y="657" width="1" height="42" fill="#c0c0c0"/>
<rect x="1106" y="657" width="1" height="45" fill="#c0c0c0"/>
<rect x="1110" y="657" width="1" height="45" fill="#c0c0c0"/>
<rect x="1114" y="657" width="1" height="42" fill="#c0c0c0"/>
<rect x="1118" y="657" width="1" height="40" fill="#c0c0c0"/>
<rect x="1122" y="657" width="1" height="38" fill="#c0c0c0"/>
<rect x="1126" y="657" width="1" height="35" fill="#c0c0c0"/>
<rect x="1130" y="657" width="1" height="34" fill="#c0c0c0"/>
<rect x="1134" y="657" width="1" height="34" fill="#c0c0c0"/>
<rect x="1138" y="657" width="1" height="34" fill="#c0c0c0"/>
<rect x="1142" y="657" width="1" height="33" fill="#c0c0c0"/>
<rect x="1146" y="657" width="1" height="33" fill="#c0c0c0"/>
<rect x="1150" y="657" width="1" height="34" fill="#c0c0c0"/>
<rect x="1154" y="657" width="1" height="31" fill="#c0c0c0"/>
<rect x="1158" y="657" width="1" height="30" fill="#c0c0c0"/>
<rect x="1162" y="657" width="1" height="27" fill="#c0c0c0"/>
<rect x="1166" y="657" width="1" height="24" fill="#c0c0c0"/>
<rect x="1170" y="657" width="1" height="23" fill="#c0c0c0"/>
<rect x="1174" y="657" width="1" height="22" fill="#c0c0c0"/>
<rect x="1178" y="657" width="1" height="21" fill="#c0c0c0"/>
<rect x="1182" y="657" width="1" height="21" fill="#c0c0c0"/>
<rect x="1186" y="657" width="1" height="22" fill="#c0c0c0"/>
<rect x="1190" y="657" width="1" height="22" fill="#c0c0c0"/>
<rect x="1194" y="657" width="1" height="23" fill="#c0c0c0"/>
<rect x="1198" y="657" width="1" height="22" fill="#c0c0c0"/>
<rect x="1202" y="657" width="1" height="19" fill="#c0c0c0"/>
<rect x="1206" y="657" width="1" height="16" fill="#c0c0c0"/>
<rect x="1210" y="657" width="1" height="12" fill="#c0c0c0"/>
<rect x="1214" y="657" width="1" height="10" fill="#c0c0c0"/>
<rect x="1218" y="657" width="1" height="7" fill="#c0c0c0"/>
<rect x="1222" y="657" width="1" height="4" fill="#c0c0c0"/>
<rect x="1226" y="657" width="1" height="3" fill="#c0c0c0"/>
<rect x="1230" y="657" width="1" height="5" fill="#c0c0c0"/>
<rect x="1234" y="657" width="1" height="5" fill="#c0c0c0"/>
<rect x="1238" y="657" width="1" height="5" fill="#c0c0c0"/>
<rect x="1242" y="657" width="1" height="7" fill="#c0c0c0"/>
<rect x="1246" y="657" width="1" height="7" fill="#c0c0c0"/>
<rect x="1250" y="657" width="1" height="7" fill="#c0c0c0"/>
<rect x="1254" y="657" width="1" height="7" fill="#c0c0c0"/>
<rect x="1258" y="657" width="1" height="6" fill="#c0c0c0"/>
<rect x="1262" y="657" width="1" height="6" fill="#c0c0c0"/>
<rect x="1266" y="657" width="1" height="5" fill="#c0c0c0"/>
<path d="M353 674h2v1h-2zM442 674h3v1h-3zM590 674h1v1h-1zM640 674h1v1h-1zM1216 674h2v1h-2zM106 648h2v1h-2zM528 648h1v1h-1zM564 648h1v1h-1zM682 648h2v1h-2zM705 648h3v1h-3zM711 648h3v1h-3zM125 656h2v1h-2zM202 656h3v1h-3zM208 656h3v1h-3zM244 656h1v1h-1zM286 656h2v1h-2zM510 656h1v1h-1zM574 656h1v1h-1zM649 656h1v1h-1zM737 656h1v1h-1zM753 656h3v1h-3zM869 656h1v1h-1zM310 666h3v1h-3zM472 666h3v1h-3zM1233 666h1v1h-1zM4 644h3v1h-3zM10 644h3v1h-3zM17 644h2v1h-2zM22 644h3v1h-3zM28 644h1v1h-1zM544 644h3v1h-3zM550 644h3v1h-3zM658 644h2v1h-2zM675 644h1v1h-1zM118 653h2v1h-2zM250 653h3v1h-3zM280 653h1v1h-1zM516 653h1v1h-1zM729 653h1v1h-1zM765 653h3v1h-3zM795 653h3v1h-3zM304 663h1v1h-1zM490 663h3v1h-3zM582 663h1v1h-1zM645 663h1v1h-1zM892 663h2v1h-2zM1241 663h1v1h-1zM597 685h1v1h-1zM634 685h1v1h-1zM1173 685h3v1h-3zM364 676h1v1h-1zM424 676h3v1h-3zM922 676h2v1h-2zM993 676h3v1h-3zM999 676h2v1h-2zM1013 676h1v1h-1zM1017 676h3v1h-3zM1023 676h3v1h-3zM1037 676h1v1h-1zM1041 676h3v1h-3zM1047 676h2v1h-2zM1065 676h3v1h-3zM1209 676h3v1h-3zM604 693h1v1h-1zM630 693h1v1h-1zM1095 693h1v1h-1zM1143 693h2v1h-2zM1101 696h1v1h-1zM1131 696h2v1h-2zM316 667h1v1h-1zM466 667h3v1h-3zM585 667h1v1h-1zM643 667h1v1h-1zM903 667h2v1h-2zM40 646h3v1h-3zM64 646h3v1h-3zM70 646h3v1h-3zM76 646h3v1h-3zM82 646h3v1h-3zM88 646h3v1h-3zM533 646h2v1h-2zM557 646h2v1h-2zM599 687h1v1h-1zM633 687h1v1h-1zM1085 687h1v1h-1zM1167 687h2v1h-2zM124 655h1v1h-1zM245 655h2v1h-2zM650 655h1v1h-1zM735 655h2v1h-2zM759 655h2v1h-2zM807 655h3v1h-3zM813 655h3v1h-3zM819 655h2v1h-2zM861 655h3v1h-3zM867 655h2v1h-2zM322 670h3v1h-3zM328 670h1v1h-1zM454 670h3v1h-3zM665 641h1v1h-1zM112 650h1v1h-1zM258 650h1v1h-1zM262 650h3v1h-3zM268 650h1v1h-1zM522 650h1v1h-1zM568 650h1v1h-1zM653 650h1v1h-1zM689 650h1v1h-1zM693 650h3v1h-3zM699 650h2v1h-2zM777 650h3v1h-3zM378 681h1v1h-1zM382 681h3v1h-3zM394 681h3v1h-3zM595 681h1v1h-1zM636 681h1v1h-1zM957 681h3v1h-3zM963 681h2v1h-2zM1077 681h1v1h-1zM1185 681h3v1h-3zM329 671h2v1h-2zM1222 671h2v1h-2zM113 651h2v1h-2zM256 651h2v1h-2zM269 651h2v1h-2zM520 651h2v1h-2zM569 651h1v1h-1zM653 651h1v1h-1zM723 651h2v1h-2zM771 651h3v1h-3zM783 651h3v1h-3zM120 654h1v1h-1zM281 654h2v1h-2zM514 654h2v1h-2zM730 654h2v1h-2zM761 654h1v1h-1zM801 654h3v1h-3zM821 654h1v1h-1zM825 654h3v1h-3zM831 654h3v1h-3zM837 654h3v1h-3zM843 654h3v1h-3zM849 654h3v1h-3zM855 654h3v1h-3zM625 699h1v1h-1zM1109 699h1v1h-1zM1121 699h1v1h-1zM376 680h2v1h-2zM400 680h1v1h-1zM594 680h1v1h-1zM637 680h1v1h-1zM933 680h3v1h-3zM965 680h1v1h-1zM969 680h3v1h-3zM941 683h1v1h-1zM945 683h3v1h-3zM951 683h2v1h-2zM1079 683h1v1h-1zM1179 683h2v1h-2zM334 672h3v1h-3zM340 672h1v1h-1zM449 672h2v1h-2zM915 672h2v1h-2zM1221 672h1v1h-1zM1161 688h3v1h-3zM130 657h3v1h-3zM196 657h3v1h-3zM214 657h3v1h-3zM220 657h1v1h-1zM238 657h3v1h-3zM288 657h1v1h-1zM508 657h2v1h-2zM575 657h2v1h-2zM649 657h1v1h-1zM741 657h3v1h-3zM747 657h3v1h-3zM873 657h3v1h-3zM1096 694h2v1h-2zM1137 694h3v1h-3zM358 675h3v1h-3zM430 675h3v1h-3zM436 675h3v1h-3zM591 675h1v1h-1zM639 675h1v1h-1zM921 675h1v1h-1zM1001 675h1v1h-1zM1005 675h3v1h-3zM1011 675h2v1h-2zM1049 675h1v1h-1zM1053 675h3v1h-3zM1059 675h3v1h-3zM1215 675h1v1h-1zM1089 690h1v1h-1zM1155 690h2v1h-2zM613 700h1v1h-1zM1113 700h3v1h-3zM1119 700h2v1h-2zM370 678h3v1h-3zM406 678h3v1h-3zM412 678h1v1h-1zM927 678h2v1h-2zM977 678h1v1h-1zM981 678h3v1h-3zM1071 678h1v1h-1zM1197 678h3v1h-3zM29 645h2v1h-2zM34 645h3v1h-3zM538 645h3v1h-3zM556 645h1v1h-1zM657 645h1v1h-1zM676 645h2v1h-2zM460 669h1v1h-1zM587 669h1v1h-1zM642 669h1v1h-1zM909 669h3v1h-3zM1227 669h1v1h-1zM341 673h2v1h-2zM346 673h3v1h-3zM352 673h1v1h-1zM448 673h1v1h-1zM589 673h1v1h-1zM640 673h1v1h-1zM917 673h1v1h-1zM298 662h3v1h-3zM496 662h2v1h-2zM581 662h1v1h-1zM646 662h1v1h-1zM891 662h1v1h-1zM1245 662h3v1h-3zM1251 662h3v1h-3zM1257 662h3v1h-3zM1263 662h3v1h-3zM365 677h2v1h-2zM413 677h2v1h-2zM418 677h3v1h-3zM987 677h3v1h-3zM1029 677h3v1h-3zM1035 677h2v1h-2zM1203 677h3v1h-3zM46 647h3v1h-3zM52 647h3v1h-3zM58 647h3v1h-3zM94 647h3v1h-3zM100 647h3v1h-3zM532 647h1v1h-1zM562 647h2v1h-2zM681 647h1v1h-1zM137 659h2v1h-2zM142 659h3v1h-3zM148 659h1v1h-1zM161 659h2v1h-2zM166 659h3v1h-3zM185 659h2v1h-2zM292 659h2v1h-2zM504 659h1v1h-1zM881 659h1v1h-1zM172 660h3v1h-3zM178 660h3v1h-3zM184 660h1v1h-1zM294 660h1v1h-1zM502 660h2v1h-2zM885 660h3v1h-3zM136 658h1v1h-1zM149 658h2v1h-2zM154 658h3v1h-3zM160 658h1v1h-1zM190 658h3v1h-3zM221 658h2v1h-2zM226 658h3v1h-3zM232 658h3v1h-3zM879 658h2v1h-2zM609 698h1v1h-1zM626 698h1v1h-1zM1107 698h2v1h-2zM1125 698h3v1h-3zM401 679h2v1h-2zM593 679h1v1h-1zM637 679h1v1h-1zM929 679h1v1h-1zM975 679h2v1h-2zM1072 679h2v1h-2zM1191 679h3v1h-3zM602 691h1v1h-1zM631 691h1v1h-1zM1090 691h2v1h-2zM1149 691h3v1h-3zM614 701h2v1h-2zM621 701h1v1h-1zM663 642h2v1h-2zM669 642h3v1h-3zM317 668h2v1h-2zM461 668h2v1h-2zM586 668h1v1h-1zM643 668h1v1h-1zM905 668h1v1h-1zM1228 668h2v1h-2zM598 686h1v1h-1zM634 686h1v1h-1zM1083 686h2v1h-2zM1169 686h1v1h-1zM603 692h1v1h-1zM631 692h1v1h-1zM1145 692h1v1h-1zM305 664h2v1h-2zM485 664h2v1h-2zM1239 664h2v1h-2zM1133 695h1v1h-1zM388 682h3v1h-3zM939 682h2v1h-2zM953 682h1v1h-1zM1078 682h1v1h-1zM1181 682h1v1h-1zM1157 689h1v1h-1zM274 652h3v1h-3zM570 652h1v1h-1zM725 652h1v1h-1zM789 652h3v1h-3zM478 665h3v1h-3zM484 665h1v1h-1zM897 665h3v1h-3zM1234 665h2v1h-2zM108 649h1v1h-1zM526 649h2v1h-2zM654 649h1v1h-1zM687 649h2v1h-2zM701 649h1v1h-1zM717 649h3v1h-3zM607 697h2v1h-2zM627 697h1v1h-1zM1102 697h2v1h-2zM498 661h1v1h-1zM580 661h1v1h-1zM647 661h1v1h-1zM619 702h2v1h-2zM16 643h1v1h-1z" fill="#ff0000"/>
<rect x="1595" y="31" width="2" height="1" fill="#000"/>
<rect x="1595" y="64" width="2" height="1" fill="#000"/>
<rect x="1595" y="97" width="2" height="1" fill="#000"/>
<rect x="1595" y="130" width="2" height="1" fill="#000"/>
<rect x="1595" y="163" width="2" height="1" fill="#000"/>
<rect x="1595" y="196" width="2" height="1" fill="#000"/>
<rect x="1595" y="229" width="2" height="1" fill="#000"/>
<rect x="1595" y="262" width="2" height="1" fill="#000"/>
<rect x="1595" y="295" width="2" height="1" fill="#000"/>
<rect x="1595" y="328" width="2" height="1" fill="#000"/>
<rect x="1595" y="361" width="2" height="1" fill="#000"/>
<rect x="1595" y="394" width="2" height="1" fill="#000"/>
<rect x="1595" y="427" width="2" height="1" fill="#000"/>
<rect x="1595" y="460" width="2" height="1" fill="#000"/>
<rect x="1595" y="493" width="2" height="1" fill="#000"/>
<rect x="1595" y="526" width="2" height="1" fill="#000"/>
<rect x="1595" y="657" width="2" height="1" fill="#000"/>
<rect x="1595" y="533" width="1" height="1" fill="#000"/>
<rect x="1595" y="622" width="1" height="1" fill="#000"/>
<rect x="1595" y="627" width="1" height="1" fill="#000"/>
<rect x="1595" y="716" width="1" height="1" fill="#000"/>
<rect x="1594" y="530" width="1" height="1" fill="#000"/>
<rect x="2" y="718" width="1" height="3" fill="#000"/>
<rect x="66" y="718" width="1" height="3" fill="#000"/>
<rect x="130" y="718" width="1" height="3" fill="#000"/>
<rect x="194" y="718" width="1" height="3" fill="#000"/>
<rect x="258" y="718" width="1" height="3" fill="#000"/>
<rect x="322" y="718" width="1" height="3" fill="#000"/>
<rect x="386" y="718" width="1" height="3" fill="#000"/>
<rect x="450" y="718" width="1" height="3" fill="#000"/>
<rect x="514" y="718" width="1" height="3" fill="#000"/>
<rect x="578" y="718" width="1" height="3" fill="#000"/>
<rect x="642" y="718" width="1" height="3" fill="#000"/>
<rect x="706" y="718" width="1" height="3" fill="#000"/>
<rect x="770" y="718" width="1" height="3" fill="#000"/>
<rect x="834" y="718" width="1" height="3" fill="#000"/>
<rect x="898" y="718" width="1" height="3" fill="#000"/>
<rect x="962" y="718" width="1" height="3" fill="#000"/>
<rect x="1026" y="718" width="1" height="3" fill="#000"/>
<rect x="1090" y="718" width="1" height="3" fill="#000"/>
<rect x="1154" y="718" width="1" height="3" fill="#000"/>
<rect x="1218" y="718" width="1" height="3" fill="#000"/>
<rect x="1" y="24" width="1594" height="1" fill="#000"/>
<rect x="1" y="529" width="1594" height="1" fill="#000"/>
<rect x="1" y="24" width="1" height="506" fill="#000"/>
<rect x="1594" y="24" width="1" height="506" fill="#000"/>
<rect x="1" y="531" width="1594" height="1" fill="#000"/>
<rect x="1" y="623" width="1594" height="1" fill="#000"/>
<rect x="1" y="531" width="1" height="93" fill="#000"/>
<rect x="1594" y="531" width="1" height="93" fill="#000"/>
<rect x="1" y="625" width="1594" height="1" fill="#000"/>
<rect x="1" y="717" width="1594" height="1" fill="#000"/>
<rect x="1" y="625" width="1" height="93" fill="#000"/>
<rect x="1594" y="625" width="1" height="93" fill="#000"/>
<rect x="1594" y="530" width="1" height="1" fill="#000"/>
<rect x="2" y="254" width="1592" height="2" fill="#ff0000"/>
<rect x="1" y="252" width="6" height="6" fill="#ff0000"/>
<rect x="3" y="254" width="2" height="2" fill="#fff"/>
<rect x="1588" y="252" width="6" height="6" fill="#ff0000"/>
<rect x="1590" y="254" width="2" height="2" fill="#fff"/>
<rect x="1596" y="249" width="40" height="11" fill="#ff0000"/>
<rect x="2" y="313" width="1592" height="2" fill="#ff0000"/>
<rect x="1" y="311" width="6" height="6" fill="#ff0000"/>
<rect x="3" y="313" width="2" height="2" fill="#fff"/>
<rect x="1588" y="311" width="6" height="6" fill="#ff0000"/>
<rect x="1590" y="313" width="2" height="2" fill="#fff"/>
<rect x="1596" y="308" width="40" height="11" fill="#ff0000"/>
<rect x="2" y="377" width="1592" height="2" fill="#ff0000"/>
<rect x="1" y="375" width="6" height="6" fill="#ff0000"/>
<rect x="3" y="377" width="2" height="2" fill="#fff"/>
<rect x="1588" y="375" width="6" height="6" fill="#ff0000"/>
<rect x="1590" y="377" width="2" height="2" fill="#fff"/>
<rect x="1596" y="372" width="40" height="11" fill="#ff0000"/>
<rect x="2" y="438" width="1592" height="2" fill="#00ff00"/>
<rect x="1" y="436" width="6" height="6" fill="#00ff00"/>
<rect x="3" y="438" width="2" height="2" fill="#fff"/>
<rect x="1588" y="436" width="6" height="6" fill="#00ff00"/>
<rect x="1590" y="438" width="2" height="2" fill="#fff"/>
<rect x="1596" y="433" width="40" height="11" fill="#00ff00"/>
<rect x="2" y="514" width="1592" height="2" fill="#0000ff"/>
<rect x="1" y="512" width="6" height="6" fill="#0000ff"/>
<rect x="3" y="514" width="2" height="2" fill="#fff"/>
<rect x="1588" y="512" width="6" height="6" fill="#0000ff"/>
<rect x="1590" y="514" width="2" height="2" fill="#fff"/>
<rect x="1596" y="509" width="40" height="11" fill="#0000ff"/>
<rect x="1596" y="464" width="40" height="11" fill="#000"/>
<path d="M1270 25h10l-5 5z" fill="#c0c0c0" shape-rendering="auto"/>
<rect x="0" y="738" width="1636" height="1" fill="#f0f0f0"/>
<rect x="0" y="741" width="1636" height="19" fill="#f0f0f0"/>
<rect x="0" y="740" width="108" height="1" fill="#000"/>
<rect x="206" y="740" width="1430" height="1" fill="#000"/>
<rect x="108" y="740" width="98" height="18" fill="#fff"/>
<rect x="107" y="740" width="1" height="19" fill="#000"/>
<rect x="206" y="740" width="1" height="19" fill="#000"/>
<rect x="107" y="758" width="100" height="1" fill="#000"/>
<rect x="108" y="759" width="100" height="1" fill="#a0a0a0"/>
<rect x="207" y="742" width="1" height="18" fill="#a0a0a0"/>
<rect x="0" y="760" width="1636" height="4" fill="#fbfbfb"/>
<rect x="0" y="764" width="1636" height="1" fill="#b4b4b4"/>
<rect x="0" y="765" width="1636" height="1" fill="#f0f0f0"/>
<rect x="311" y="743" width="1" height="14" fill="#606060"/>
<rect x="415" y="743" width="1" height="14" fill="#606060"/>
<rect x="519" y="743" width="1" height="14" fill="#606060"/>
<rect x="623" y="743" width="1" height="14" fill="#606060"/>
<rect x="715" y="743" width="1" height="14" fill="#606060"/>
<rect x="807" y="743" width="1" height="14" fill="#606060"/>
<rect x="879" y="743" width="1" height="14" fill="#606060"/>
<rect x="959" y="743" width="1" height="14" fill="#606060"/>
<rect x="1039" y="743" width="1" height="14" fill="#606060"/>
<rect x="1119" y="743" width="1" height="14" fill="#606060"/>
<rect x="1195" y="743" width="1" height="14" fill="#606060"/>
<rect x="1267" y="743" width="1" height="14" fill="#606060"/>
<rect x="1351" y="743" width="1" height="14" fill="#606060"/>
<rect x="1431" y="743" width="1" height="14" fill="#606060"/>
<rect x="1531" y="743" width="1" height="14" fill="#606060"/>
<rect x="1603" y="743" width="1" height="14" fill="#606060"/>
</g>
<text x="41.8" y="11.9" font-size="9.3" fill="#383838" stroke="#383838" stroke-width="0" textLength="12.2" lengthAdjust="spacingAndGlyphs" >M1</text>
<text x="69.7" y="11.9" font-size="9.3" fill="#383838" stroke="#383838" stroke-width="0" textLength="11.9" lengthAdjust="spacingAndGlyphs" >M5</text>
<text x="95.7" y="11.9" font-size="9.3" fill="#383838" stroke="#383838" stroke-width="0" textLength="17.1" lengthAdjust="spacingAndGlyphs" >M15</text>
<text x="123.8" y="11.9" font-size="9.3" fill="#383838" stroke="#383838" stroke-width="0" textLength="17" lengthAdjust="spacingAndGlyphs" >M30</text>
<text x="155" y="11.9" font-size="9.3" fill="#383838" stroke="#383838" stroke-width="0" textLength="11" lengthAdjust="spacingAndGlyphs" >H1</text>
<text x="181.5" y="11.9" font-size="9.3" fill="#383838" stroke="#383838" stroke-width="0" textLength="12" lengthAdjust="spacingAndGlyphs" >H4</text>
<text x="210.9" y="11.9" font-size="9.3" fill="#383838" stroke="#383838" stroke-width="0" textLength="11" lengthAdjust="spacingAndGlyphs" >D1</text>
<text x="238" y="11.9" font-size="9.3" fill="#383838" stroke="#383838" stroke-width="0" textLength="14" lengthAdjust="spacingAndGlyphs" >W1</text>
<text x="264.6" y="11.9" font-size="9.3" fill="#383838" stroke="#383838" stroke-width="0" textLength="14.4" lengthAdjust="spacingAndGlyphs" >MN</text>
<path d="M5 31h7l-3.5 4z" fill="#000"/>
<text x="17.4" y="36" font-size="9.9" fill="#000" stroke="#000" stroke-width="0.15" textLength="63.8" lengthAdjust="spacingAndGlyphs" >USDCHF,Daily</text>
<text x="88.6" y="36" font-size="9.9" fill="#000" stroke="#000" stroke-width="0.15" textLength="140.3" lengthAdjust="spacingAndGlyphs" >0.91043 0.91137 0.90999 0.91038</text>
<text x="6.3" y="543.6" font-size="9.9" fill="#000" stroke="#000" stroke-width="0.15" textLength="67.3" lengthAdjust="spacingAndGlyphs" >RSI(14) 49.5421</text>
<text x="6.3" y="637.6" font-size="9.9" fill="#000" stroke="#000" stroke-width="0.15" textLength="153.7" lengthAdjust="spacingAndGlyphs" >MACD(12,26,9) -0.000772 -0.000984</text>
<text x="1599.9" y="35" font-size="9.9" fill="#000" stroke="#000" stroke-width="0.15" textLength="32.5" lengthAdjust="spacingAndGlyphs" >1.00660</text>
<text x="1599.9" y="68" font-size="9.9" fill="#000" stroke="#000" stroke-width="0.15" textLength="32.5" lengthAdjust="spacingAndGlyphs" >0.99940</text>
<text x="1599.9" y="101" font-size="9.9" fill="#000" stroke="#000" stroke-width="0.15" textLength="32.5" lengthAdjust="spacingAndGlyphs" >0.99220</text>
<text x="1599.9" y="134" font-size="9.9" fill="#000" stroke="#000" stroke-width="0.15" textLength="32.5" lengthAdjust="spacingAndGlyphs" >0.98480</text>
<text x="1599.9" y="167" font-size="9.9" fill="#000" stroke="#000" stroke-width="0.15" textLength="32.5" lengthAdjust="spacingAndGlyphs" >0.97760</text>
<text x="1599.9" y="200" font-size="9.9" fill="#000" stroke="#000" stroke-width="0.15" textLength="32.5" lengthAdjust="spacingAndGlyphs" >0.97040</text>
<text x="1599.9" y="233" font-size="9.9" fill="#000" stroke="#000" stroke-width="0.15" textLength="32.5" lengthAdjust="spacingAndGlyphs" >0.96320</text>
<text x="1599.9" y="266" font-size="9.9" fill="#000" stroke="#000" stroke-width="0.15" textLength="32.5" lengthAdjust="spacingAndGlyphs" >0.95580</text>
<text x="1599.9" y="299" font-size="9.9" fill="#000" stroke="#000" stroke-width="0.15" textLength="32.5" lengthAdjust="spacingAndGlyphs" >0.94860</text>
<text x="1599.9" y="332" font-size="9.9" fill="#000" stroke="#000" stroke-width="0.15" textLength="32.5" lengthAdjust="spacingAndGlyphs" >0.94140</text>
<text x="1599.9" y="365" font-size="9.9" fill="#000" stroke="#000" stroke-width="0.15" textLength="32.5" lengthAdjust="spacingAndGlyphs" >0.93400</text>
<text x="1599.9" y="398" font-size="9.9" fill="#000" stroke="#000" stroke-width="0.15" textLength="32.5" lengthAdjust="spacingAndGlyphs" >0.92680</text>
<text x="1599.9" y="431" font-size="9.9" fill="#000" stroke="#000" stroke-width="0.15" textLength="32.5" lengthAdjust="spacingAndGlyphs" >0.91960</text>
<text x="1599.9" y="464" font-size="9.9" fill="#000" stroke="#000" stroke-width="0.15" textLength="32.5" lengthAdjust="spacingAndGlyphs" >0.91220</text>
<text x="1599.9" y="497" font-size="9.9" fill="#000" stroke="#000" stroke-width="0.15" textLength="32.5" lengthAdjust="spacingAndGlyphs" >0.90500</text>
<text x="1599.9" y="530" font-size="9.9" fill="#000" stroke="#000" stroke-width="0.15" textLength="32.5" lengthAdjust="spacingAndGlyphs" >0.89780</text>
<text x="1599.9" y="258" font-size="9.9" fill="#fff" stroke="#fff" stroke-width="0.15" textLength="32.5" lengthAdjust="spacingAndGlyphs" >0.95740</text>
<text x="1599.9" y="317" font-size="9.9" fill="#fff" stroke="#fff" stroke-width="0.15" textLength="32.5" lengthAdjust="spacingAndGlyphs" >0.94436</text>
<text x="1599.9" y="381" font-size="9.9" fill="#fff" stroke="#fff" stroke-width="0.15" textLength="32.5" lengthAdjust="spacingAndGlyphs" >0.93024</text>
<text x="1599.9" y="442" font-size="9.9" fill="#fff" stroke="#fff" stroke-width="0.15" textLength="32.5" lengthAdjust="spacingAndGlyphs" >0.91697</text>
<text x="1599.9" y="518" font-size="9.9" fill="#fff" stroke="#fff" stroke-width="0.15" textLength="32.5" lengthAdjust="spacingAndGlyphs" >0.90026</text>
<text x="1599.9" y="473" font-size="9.9" fill="#fff" stroke="#fff" stroke-width="0.15" textLength="32.5" lengthAdjust="spacingAndGlyphs" >0.91038</text>
<text x="1597.8" y="542" font-size="9.9" fill="#000" stroke="#000" stroke-width="0.15" textLength="15.2" lengthAdjust="spacingAndGlyphs" >100</text>
<text x="1596.8" y="563" font-size="9.9" fill="#000" stroke="#000" stroke-width="0.15" textLength="10" lengthAdjust="spacingAndGlyphs" >70</text>
<text x="1596.8" y="599" font-size="9.9" fill="#000" stroke="#000" stroke-width="0.15" textLength="10" lengthAdjust="spacingAndGlyphs" >30</text>
<text x="1597.9" y="620" font-size="9.9" fill="#000" stroke="#000" stroke-width="0.15" >0</text>
<text x="1598.5" y="636" font-size="9.9" fill="#000" stroke="#000" stroke-width="0.15" textLength="37.5" lengthAdjust="spacingAndGlyphs" >0.005818</text>
<text x="1598.5" y="661" font-size="9.9" fill="#000" stroke="#000" stroke-width="0.15" textLength="17.6" lengthAdjust="spacingAndGlyphs" >0.00</text>
<text x="1598.5" y="714" font-size="9.9" fill="#000" stroke="#000" stroke-width="0.15" textLength="41" lengthAdjust="spacingAndGlyphs" >-0.011514</text>
<text x="1" y="730" font-size="9.9" fill="#000" stroke="#000" stroke-width="0.15" textLength="52.5474" lengthAdjust="spacingAndGlyphs" >18 Sep 2019</text>
<text x="65" y="730" font-size="9.9" fill="#000" stroke="#000" stroke-width="0.15" textLength="45.3222" lengthAdjust="spacingAndGlyphs" >7 Oct 2019</text>
<text x="129" y="730" font-size="9.9" fill="#000" stroke="#000" stroke-width="0.15" textLength="50.4747" lengthAdjust="spacingAndGlyphs" >25 Oct 2019</text>
<text x="193" y="730" font-size="9.9" fill="#000" stroke="#000" stroke-width="0.15" textLength="52.5369" lengthAdjust="spacingAndGlyphs" >13 Nov 2019</text>
<text x="257" y="730" font-size="9.9" fill="#000" stroke="#000" stroke-width="0.15" textLength="47.3844" lengthAdjust="spacingAndGlyphs" >2 Dec 2019</text>
<text x="321" y="730" font-size="9.9" fill="#000" stroke="#000" stroke-width="0.15" textLength="52.5369" lengthAdjust="spacingAndGlyphs" >20 Dec 2019</text>
<text x="385" y="730" font-size="9.9" fill="#000" stroke="#000" stroke-width="0.15" textLength="45.8475" lengthAdjust="spacingAndGlyphs" >8 Jan 2020</text>
<text x="449" y="730" font-size="9.9" fill="#000" stroke="#000" stroke-width="0.15" textLength="51" lengthAdjust="spacingAndGlyphs" >27 Jan 2020</text>
<text x="513" y="730" font-size="9.9" fill="#000" stroke="#000" stroke-width="0.15" textLength="52.0266" lengthAdjust="spacingAndGlyphs" >14 Feb 2020</text>
<text x="577" y="730" font-size="9.9" fill="#000" stroke="#000" stroke-width="0.15" textLength="46.8636" lengthAdjust="spacingAndGlyphs" >4 Mar 2020</text>
<text x="641" y="730" font-size="9.9" fill="#000" stroke="#000" stroke-width="0.15" textLength="52.0162" lengthAdjust="spacingAndGlyphs" >23 Mar 2020</text>
<text x="705" y="730" font-size="9.9" fill="#000" stroke="#000" stroke-width="0.15" textLength="49.9674" lengthAdjust="spacingAndGlyphs" >10 Apr 2020</text>
<text x="769" y="730" font-size="9.9" fill="#000" stroke="#000" stroke-width="0.15" textLength="49.9674" lengthAdjust="spacingAndGlyphs" >29 Apr 2020</text>
<text x="833" y="730" font-size="9.9" fill="#000" stroke="#000" stroke-width="0.15" textLength="53.5636" lengthAdjust="spacingAndGlyphs" >18 May 2020</text>
<text x="897" y="730" font-size="9.9" fill="#000" stroke="#000" stroke-width="0.15" textLength="45.8475" lengthAdjust="spacingAndGlyphs" >5 Jun 2020</text>
<text x="961" y="730" font-size="9.9" fill="#000" stroke="#000" stroke-width="0.15" textLength="51" lengthAdjust="spacingAndGlyphs" >24 Jun 2020</text>
<text x="1025" y="730" font-size="9.9" fill="#000" stroke="#000" stroke-width="0.15" textLength="47.9052" lengthAdjust="spacingAndGlyphs" >13 Jul 2020</text>
<text x="1089" y="730" font-size="9.9" fill="#000" stroke="#000" stroke-width="0.15" textLength="47.9052" lengthAdjust="spacingAndGlyphs" >31 Jul 2020</text>
<text x="1153" y="730" font-size="9.9" fill="#000" stroke="#000" stroke-width="0.15" textLength="52.0356" lengthAdjust="spacingAndGlyphs" >19 Aug 2020</text>
<text x="1217" y="730" font-size="9.9" fill="#000" stroke="#000" stroke-width="0.15" textLength="47.3949" lengthAdjust="spacingAndGlyphs" >7 Sep 2020</text>
<text x="15.5" y="755" font-size="12" fill="#606060" stroke="#606060" stroke-width="0.15" textLength="79.5" lengthAdjust="spacingAndGlyphs" >EURUSD,Daily</text>
<text x="117" y="755" font-size="12" fill="#000" stroke="#000" stroke-width="0.15" textLength="78.5" lengthAdjust="spacingAndGlyphs" >USDCHF,Daily</text>
<text x="218" y="755" font-size="12" fill="#606060" stroke="#606060" stroke-width="0.15" textLength="82" lengthAdjust="spacingAndGlyphs" >AUDUSD,Daily</text>
<text x="322" y="755" font-size="12" fill="#606060" stroke="#606060" stroke-width="0.15" textLength="81" lengthAdjust="spacingAndGlyphs" >USDCAD,Daily</text>
<text x="425" y="755" font-size="12" fill="#606060" stroke="#606060" stroke-width="0.15" textLength="83" lengthAdjust="spacingAndGlyphs" >USDCNH,Daily</text>
<text x="531" y="755" font-size="12" fill="#606060" stroke="#606060" stroke-width="0.15" textLength="80" lengthAdjust="spacingAndGlyphs" >EURUSD,Daily</text>
<text x="635" y="755" font-size="12" fill="#606060" stroke="#606060" stroke-width="0.15" textLength="68" lengthAdjust="spacingAndGlyphs" >GBPUSD,H4</text>
<text x="726" y="755" font-size="12" fill="#606060" stroke="#606060" stroke-width="0.15" textLength="69" lengthAdjust="spacingAndGlyphs" >XAUUSD,H1</text>
<text x="818" y="755" font-size="12" fill="#606060" stroke="#606060" stroke-width="0.15" textLength="49.5" lengthAdjust="spacingAndGlyphs" >HK50,H1</text>
<text x="890" y="755" font-size="12" fill="#606060" stroke="#606060" stroke-width="0.15" textLength="56.7" lengthAdjust="spacingAndGlyphs" >UK100,H1</text>
<text x="970" y="755" font-size="12" fill="#606060" stroke="#606060" stroke-width="0.15" textLength="56.4" lengthAdjust="spacingAndGlyphs" >UK100,H1</text>
<text x="1050" y="755" font-size="12" fill="#606060" stroke="#606060" stroke-width="0.15" textLength="56.5" lengthAdjust="spacingAndGlyphs" >GER30,H1</text>
<text x="1129" y="755" font-size="12" fill="#606060" stroke="#606060" stroke-width="0.15" textLength="54.8" lengthAdjust="spacingAndGlyphs" >FRA40,H1</text>
<text x="1205" y="755" font-size="12" fill="#606060" stroke="#606060" stroke-width="0.15" textLength="50.6" lengthAdjust="spacingAndGlyphs" >USOil,H4</text>
<text x="1277" y="755" font-size="12" fill="#606060" stroke="#606060" stroke-width="0.15" textLength="63" lengthAdjust="spacingAndGlyphs" >USDJPY,H1</text>
<text x="1361" y="755" font-size="12" fill="#606060" stroke="#606060" stroke-width="0.15" textLength="58.7" lengthAdjust="spacingAndGlyphs" >DJ30,Daily</text>
<text x="1441" y="755" font-size="12" fill="#606060" stroke="#606060" stroke-width="0.15" textLength="78.7" lengthAdjust="spacingAndGlyphs" >CHINA300,H1</text>
<text x="1541" y="755" font-size="12" fill="#606060" stroke="#606060" stroke-width="0.15" textLength="50.6" lengthAdjust="spacingAndGlyphs" >USOil,H1</text>
<path d="M1613.5 745.5v7l-4-3.5z" fill="#a0a0a0"/><path d="M1629 745.5v7l4-3.5z" fill="#000"/>
</svg>
</body></html>
